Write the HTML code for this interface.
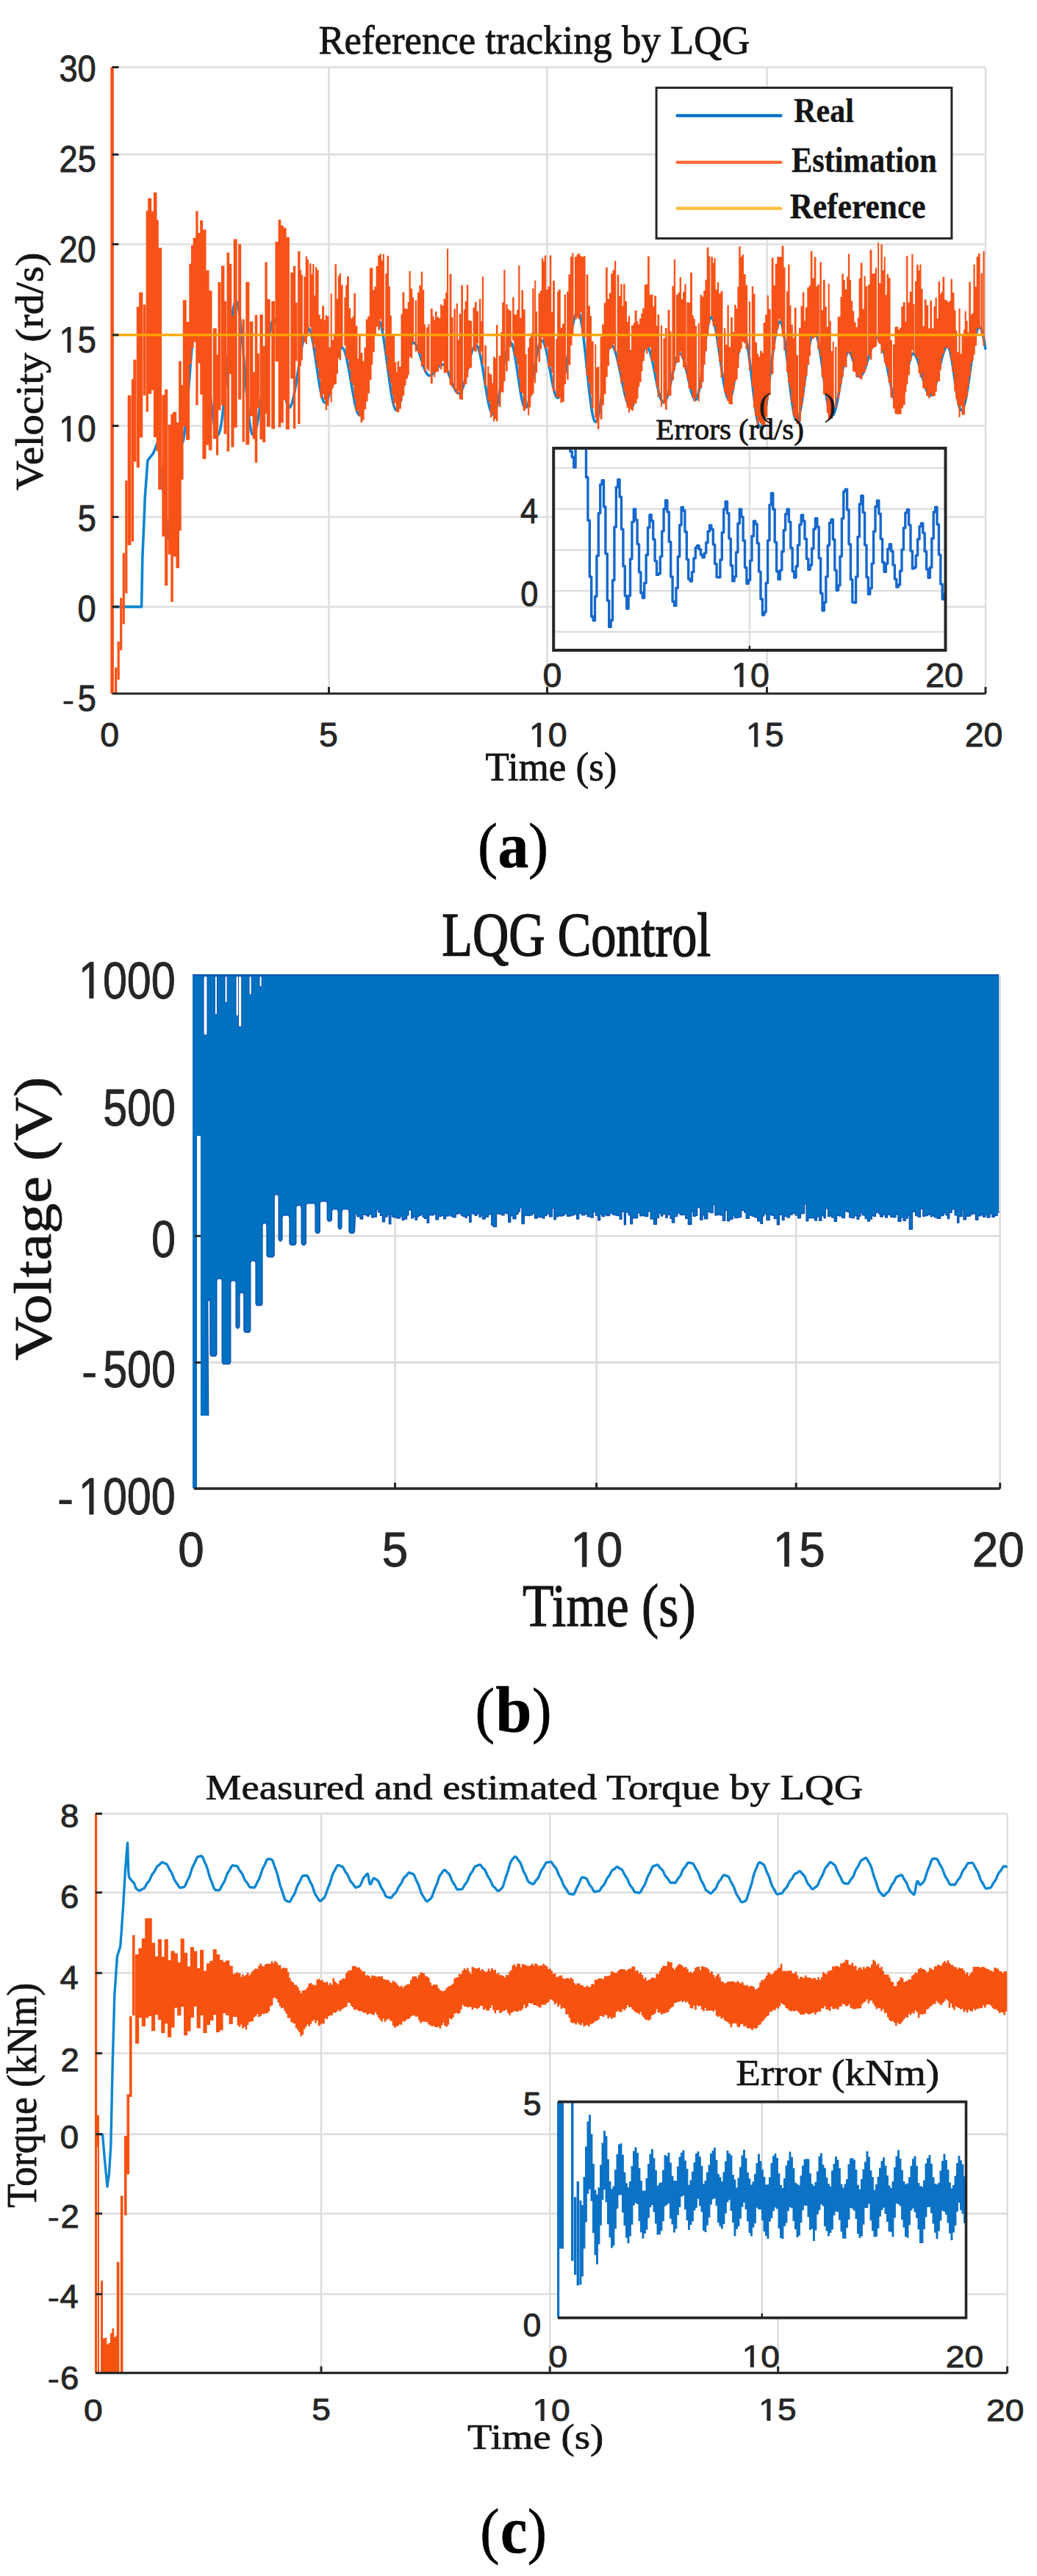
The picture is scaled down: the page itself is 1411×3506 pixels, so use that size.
<!DOCTYPE html>
<html><head><meta charset="utf-8"><style>
html,body{margin:0;padding:0;background:#fff;font-family:"Liberation Sans",sans-serif;}
body{width:1411px;height:3506px;overflow:hidden;}
svg{display:block;}
</style></head><body>
<svg width="1411" height="3506" viewBox="0 0 1411 3506">
<rect width="1411" height="3506" fill="#fff"/>
<line x1="152.5" y1="91.5" x2="1341.0" y2="91.5" stroke="#dcdcdc" stroke-width="2.4"/>
<line x1="152.5" y1="210.3" x2="1341.0" y2="210.3" stroke="#dcdcdc" stroke-width="2.4"/>
<line x1="152.5" y1="332.4" x2="1341.0" y2="332.4" stroke="#dcdcdc" stroke-width="2.4"/>
<line x1="152.5" y1="455.9" x2="1341.0" y2="455.9" stroke="#dcdcdc" stroke-width="2.4"/>
<line x1="152.5" y1="579.6" x2="1341.0" y2="579.6" stroke="#dcdcdc" stroke-width="2.4"/>
<line x1="152.5" y1="703.6" x2="1341.0" y2="703.6" stroke="#dcdcdc" stroke-width="2.4"/>
<line x1="152.5" y1="825.9" x2="1341.0" y2="825.9" stroke="#dcdcdc" stroke-width="2.4"/>
<line x1="447.5" y1="91.5" x2="447.5" y2="944.0" stroke="#dcdcdc" stroke-width="2.4"/>
<line x1="744.5" y1="91.5" x2="744.5" y2="944.0" stroke="#dcdcdc" stroke-width="2.4"/>
<line x1="1043.5" y1="91.5" x2="1043.5" y2="944.0" stroke="#dcdcdc" stroke-width="2.4"/>
<line x1="1341.0" y1="91.5" x2="1341.0" y2="944.0" stroke="#dcdcdc" stroke-width="2.4"/>
<path d="M152.5 825.9 L152.8 825.9 L153.1 825.9 L153.4 825.9 L153.7 825.9 L154.0 825.9 L154.3 825.9 L154.6 825.9 L154.9 825.9 L155.2 825.9 L155.4 825.9 L155.7 825.9 L156.0 825.9 L156.3 825.9 L156.6 825.9 L156.9 825.9 L157.2 825.9 L157.5 825.9 L157.8 825.9 L158.1 825.9 L158.4 825.9 L158.7 825.9 L159.0 825.9 L159.3 825.9 L159.6 825.9 L159.9 825.9 L160.2 825.9 L160.5 825.9 L160.8 825.9 L161.1 825.9 L161.3 825.9 L161.6 825.9 L161.9 825.9 L162.2 825.9 L162.5 825.9 L162.8 825.9 L163.1 825.9 L163.4 825.9 L163.7 825.9 L164.0 825.9 L164.3 825.9 L164.6 825.9 L164.9 825.9 L165.2 825.9 L165.5 825.9 L165.8 825.9 L166.1 825.9 L166.4 825.9 L166.7 825.9 L167.0 825.9 L167.2 825.9 L167.5 825.9 L167.8 825.9 L168.1 825.9 L168.4 825.9 L168.7 825.9 L169.0 825.9 L169.3 825.9 L169.6 825.9 L169.9 825.9 L170.2 825.9 L170.5 825.9 L170.8 825.9 L171.1 825.9 L171.4 825.9 L171.7 825.9 L172.0 825.9 L172.3 825.9 L172.6 825.9 L172.9 825.9 L173.2 825.9 L173.4 825.9 L173.7 825.9 L174.0 825.9 L174.3 825.9 L174.6 825.9 L174.9 825.9 L175.2 825.9 L175.5 825.9 L175.8 825.9 L176.1 825.9 L176.4 825.9 L176.7 825.9 L177.0 825.9 L177.3 825.9 L177.6 825.9 L177.9 825.9 L178.2 825.9 L178.5 825.9 L178.8 825.9 L179.1 825.9 L179.3 825.9 L179.6 825.9 L179.9 825.9 L180.2 825.9 L180.5 825.9 L180.8 825.9 L181.1 825.9 L181.4 825.9 L181.7 825.9 L182.0 825.9 L182.3 825.9 L182.6 825.9 L182.9 825.9 L183.2 825.9 L183.5 825.9 L183.8 825.9 L184.1 825.9 L184.4 825.9 L184.7 825.9 L184.9 825.9 L185.2 825.9 L185.5 825.9 L185.8 825.9 L186.1 825.9 L186.4 825.9 L186.7 825.9 L187.0 825.9 L187.3 825.9 L187.6 825.9 L187.9 825.9 L188.2 825.9 L188.5 825.9 L188.8 825.9 L189.1 825.9 L189.4 825.9 L189.7 825.9 L190.0 825.9 L190.3 825.9 L190.6 825.9 L190.8 825.9 L191.1 825.9 L191.4 825.9 L191.7 825.9 L192.0 825.9 L192.3 825.9 L192.6 825.9 L192.9 809.4 L193.2 792.9 L193.5 776.4 L193.8 759.9 L194.1 752.9 L194.4 746.0 L194.7 739.1 L195.0 732.1 L195.3 725.2 L195.6 718.3 L195.9 711.3 L196.2 704.4 L196.5 697.4 L196.8 690.4 L197.0 683.3 L197.3 676.3 L197.6 672.2 L197.9 668.1 L198.2 663.9 L198.5 659.8 L198.8 655.7 L199.1 651.5 L199.4 647.4 L199.7 643.3 L200.0 639.1 L200.3 635.0 L200.6 630.9 L200.9 626.7 L201.2 626.3 L201.5 626.0 L201.8 625.6 L202.1 625.2 L202.4 624.8 L202.7 624.4 L202.9 624.0 L203.2 623.7 L203.5 623.3 L203.8 622.9 L204.1 622.5 L204.4 622.1 L204.7 621.8 L205.0 621.4 L205.3 621.0 L205.6 620.6 L205.9 620.2 L206.2 619.9 L206.5 619.5 L206.8 619.1 L207.1 618.7 L207.4 618.3 L207.7 617.9 L208.0 617.6 L208.3 617.2 L208.6 616.8 L208.8 616.1 L209.1 615.4 L209.4 614.6 L209.7 613.9 L210.0 613.2 L210.3 612.5 L210.6 611.7 L210.9 611.0 L211.2 610.3 L211.5 609.6 L211.8 608.8 L212.1 608.1 L212.4 607.4 L212.7 606.7 L213.0 606.0 L213.3 605.2 L213.6 604.5 L213.9 603.8 L214.2 603.1 L214.4 602.3 L214.7 601.6 L215.0 600.9 L215.3 600.2 L215.6 599.4 L215.9 602.9 L216.2 606.3 L216.5 609.7 L216.8 613.1 L217.1 616.5 L217.4 619.9 L217.7 623.3 L218.0 626.7 L218.3 630.1 L218.6 633.5 L218.9 637.0 L219.2 640.4 L219.5 643.8 L219.8 647.2 L220.1 650.6 L220.4 654.0 L220.6 656.5 L220.9 659.0 L221.2 661.4 L221.5 663.9 L221.8 666.4 L222.1 668.9 L222.4 671.4 L222.7 673.8 L223.0 676.3 L223.3 678.8 L223.6 681.3 L223.9 683.8 L224.2 686.2 L224.5 688.7 L224.8 691.2 L225.1 693.7 L225.4 696.2 L225.7 698.6 L226.0 701.1 L226.2 703.6 L226.5 706.0 L226.8 708.5 L227.1 710.9 L227.4 713.4 L227.7 715.8 L228.0 718.3 L228.3 720.7 L228.6 723.2 L228.9 725.6 L229.2 728.1 L229.5 730.5 L229.8 733.0 L230.1 732.0 L230.4 731.0 L230.7 730.0 L231.0 728.9 L231.3 727.9 L231.6 726.9 L231.9 725.9 L232.2 724.9 L232.4 723.9 L232.7 722.9 L233.0 721.9 L233.3 720.9 L233.6 719.9 L233.9 718.9 L234.2 717.9 L234.5 716.9 L234.8 715.9 L235.1 714.9 L235.4 713.9 L235.7 712.9 L236.0 711.9 L236.3 710.9 L236.6 710.3 L236.9 709.7 L237.2 709.1 L237.5 708.5 L237.8 707.9 L238.1 707.3 L238.3 706.7 L238.6 706.0 L238.9 705.4 L239.2 704.8 L239.5 704.2 L239.8 703.6 L240.1 703.0 L240.4 702.4 L240.7 701.7 L241.0 701.1 L241.3 700.5 L241.6 699.9 L241.9 699.3 L242.2 698.6 L242.5 692.7 L242.8 686.9 L243.1 681.0 L243.4 675.1 L243.7 669.2 L243.9 663.3 L244.2 657.4 L244.5 651.5 L244.8 645.6 L245.1 639.7 L245.4 633.9 L245.7 628.0 L246.0 622.1 L246.3 616.2 L246.6 610.3 L246.9 604.4 L247.2 604.3 L247.5 604.1 L247.8 603.7 L248.1 603.1 L248.4 602.4 L248.7 601.5 L249.0 600.5 L249.3 599.3 L249.6 598.0 L249.9 596.5 L250.1 594.8 L250.4 593.1 L250.7 591.2 L251.0 589.1 L251.3 586.9 L251.6 584.6 L251.9 582.1 L252.2 579.6 L252.5 576.9 L252.8 574.1 L253.1 571.2 L253.4 568.2 L253.7 565.1 L254.0 561.9 L254.3 558.6 L254.6 555.2 L254.9 551.8 L255.2 548.2 L255.5 544.7 L255.8 541.0 L256.0 537.3 L256.3 533.6 L256.6 529.8 L256.9 526.0 L257.2 522.2 L257.5 518.3 L257.8 514.5 L258.1 510.6 L258.4 506.7 L258.7 502.8 L259.0 499.0 L259.3 495.1 L259.6 491.3 L259.9 487.6 L260.2 483.8 L260.5 480.1 L260.8 476.5 L261.1 472.9 L261.4 469.4 L261.6 465.9 L261.9 462.6 L262.2 459.3 L262.5 456.1 L262.8 453.0 L263.1 450.0 L263.4 447.1 L263.7 444.3 L264.0 441.6 L264.3 439.1 L264.6 436.6 L264.9 434.3 L265.2 432.1 L265.5 430.1 L265.8 428.2 L266.1 426.4 L266.4 424.8 L266.7 423.3 L267.0 421.9 L267.3 420.8 L267.6 419.7 L267.8 418.9 L268.1 418.2 L268.4 417.6 L268.7 417.2 L269.0 417.0 L269.3 416.9 L269.6 416.9 L269.9 417.1 L270.2 417.3 L270.5 417.7 L270.8 418.1 L271.1 418.7 L271.4 419.4 L271.7 420.1 L272.0 421.0 L272.3 421.9 L272.6 423.0 L272.9 424.1 L273.2 425.3 L273.4 426.7 L273.7 428.1 L274.0 429.6 L274.3 431.2 L274.6 432.9 L274.9 434.6 L275.2 436.5 L275.5 438.4 L275.8 440.4 L276.1 442.4 L276.4 444.6 L276.7 446.8 L277.0 449.1 L277.3 451.4 L277.6 453.8 L277.9 456.3 L278.2 458.8 L278.5 461.4 L278.8 464.0 L279.1 466.7 L279.4 469.4 L279.6 472.2 L279.9 475.0 L280.2 477.8 L280.5 480.7 L280.8 483.6 L281.1 486.5 L281.4 489.4 L281.7 492.4 L282.0 495.3 L282.3 498.3 L282.6 501.3 L282.9 504.3 L283.2 507.3 L283.5 510.2 L283.8 513.2 L284.1 516.2 L284.4 519.1 L284.7 522.1 L285.0 525.0 L285.2 527.9 L285.5 530.7 L285.8 533.6 L286.1 536.4 L286.4 539.1 L286.7 541.8 L287.0 544.5 L287.3 547.1 L287.6 549.7 L287.9 552.2 L288.2 554.7 L288.5 557.1 L288.8 559.5 L289.1 561.7 L289.4 564.0 L289.7 566.1 L290.0 568.2 L290.3 570.2 L290.6 572.1 L290.9 574.0 L291.1 575.7 L291.4 577.4 L291.7 579.0 L292.0 580.5 L292.3 581.9 L292.6 583.3 L292.9 584.5 L293.2 585.6 L293.5 586.7 L293.8 587.6 L294.1 588.5 L294.4 589.3 L294.7 589.9 L295.0 590.5 L295.3 590.9 L295.6 591.3 L295.9 591.5 L296.2 591.7 L296.5 591.8 L296.8 591.7 L297.1 591.5 L297.3 591.2 L297.6 590.7 L297.9 590.2 L298.2 589.5 L298.5 588.6 L298.8 587.7 L299.1 586.6 L299.4 585.5 L299.7 584.1 L300.0 582.7 L300.3 581.2 L300.6 579.5 L300.9 577.8 L301.2 575.9 L301.5 574.0 L301.8 571.9 L302.1 569.7 L302.4 567.5 L302.7 565.1 L303.0 562.6 L303.2 560.1 L303.5 557.5 L303.8 554.8 L304.1 552.0 L304.4 549.2 L304.7 546.3 L305.0 543.3 L305.3 540.3 L305.6 537.2 L305.9 534.0 L306.2 530.8 L306.5 527.6 L306.8 524.3 L307.1 521.0 L307.4 517.7 L307.7 514.4 L308.0 511.0 L308.3 507.6 L308.6 504.2 L308.9 500.8 L309.1 497.4 L309.4 494.0 L309.7 490.6 L310.0 487.3 L310.3 483.9 L310.6 480.6 L310.9 477.3 L311.2 474.0 L311.5 470.8 L311.8 467.6 L312.1 464.4 L312.4 461.4 L312.7 458.3 L313.0 455.3 L313.3 452.4 L313.6 449.6 L313.9 446.8 L314.2 444.1 L314.5 441.5 L314.8 439.0 L315.0 436.5 L315.3 434.2 L315.6 431.9 L315.9 429.8 L316.2 427.7 L316.5 425.7 L316.8 423.9 L317.1 422.1 L317.4 420.5 L317.7 418.9 L318.0 417.5 L318.3 416.2 L318.6 415.1 L318.9 414.0 L319.2 413.1 L319.5 412.2 L319.8 411.5 L320.1 411.0 L320.4 410.5 L320.6 410.2 L320.9 410.0 L321.2 410.0 L321.5 410.0 L321.8 410.3 L322.1 410.6 L322.4 411.1 L322.7 411.8 L323.0 412.6 L323.3 413.5 L323.6 414.6 L323.9 415.9 L324.2 417.2 L324.5 418.7 L324.8 420.4 L325.1 422.1 L325.4 424.0 L325.7 426.0 L326.0 428.2 L326.3 430.4 L326.6 432.8 L326.8 435.3 L327.1 437.9 L327.4 440.5 L327.7 443.3 L328.0 446.2 L328.3 449.2 L328.6 452.2 L328.9 455.3 L329.2 458.6 L329.5 461.8 L329.8 465.2 L330.1 468.6 L330.4 472.0 L330.7 475.5 L331.0 479.0 L331.3 482.6 L331.6 486.2 L331.9 489.8 L332.2 493.5 L332.5 497.1 L332.7 500.8 L333.0 504.5 L333.3 508.1 L333.6 511.8 L333.9 515.4 L334.2 519.0 L334.5 522.6 L334.8 526.1 L335.1 529.6 L335.4 533.0 L335.7 536.4 L336.0 539.8 L336.3 543.1 L336.6 546.3 L336.9 549.4 L337.2 552.5 L337.5 555.4 L337.8 558.3 L338.1 561.1 L338.4 563.8 L338.6 566.4 L338.9 568.9 L339.2 571.2 L339.5 573.5 L339.8 575.6 L340.1 577.6 L340.4 579.5 L340.7 581.3 L341.0 583.0 L341.3 584.5 L341.6 585.8 L341.9 587.1 L342.2 588.2 L342.5 589.1 L342.8 589.9 L343.1 590.6 L343.4 591.1 L343.7 591.5 L344.0 591.7 L344.2 591.8 L344.5 591.7 L344.8 591.6 L345.1 591.4 L345.4 591.1 L345.7 590.7 L346.0 590.3 L346.3 589.8 L346.6 589.2 L346.9 588.5 L347.2 587.7 L347.5 586.9 L347.8 586.0 L348.1 585.0 L348.4 583.9 L348.7 582.8 L349.0 581.6 L349.3 580.3 L349.6 579.0 L349.9 577.6 L350.1 576.1 L350.4 574.5 L350.7 572.9 L351.0 571.3 L351.3 569.5 L351.6 567.7 L351.9 565.9 L352.2 564.0 L352.5 562.1 L352.8 560.1 L353.1 558.0 L353.4 555.9 L353.7 553.8 L354.0 551.6 L354.3 549.4 L354.6 547.1 L354.9 544.8 L355.2 542.5 L355.5 540.1 L355.8 537.8 L356.1 535.3 L356.3 532.9 L356.6 530.5 L356.9 528.0 L357.2 525.5 L357.5 523.0 L357.8 520.5 L358.1 518.0 L358.4 515.5 L358.7 512.9 L359.0 510.4 L359.3 507.9 L359.6 505.4 L359.9 502.8 L360.2 500.3 L360.5 497.9 L360.8 495.4 L361.1 492.9 L361.4 490.5 L361.7 488.1 L362.0 485.7 L362.2 483.4 L362.5 481.0 L362.8 478.7 L363.1 476.5 L363.4 474.3 L363.7 472.1 L364.0 469.9 L364.3 467.8 L364.6 465.8 L364.9 463.8 L365.2 461.8 L365.5 460.0 L365.8 458.1 L366.1 456.3 L366.4 454.6 L366.7 452.9 L367.0 451.3 L367.3 449.8 L367.6 448.3 L367.9 446.9 L368.1 445.6 L368.4 444.3 L368.7 443.1 L369.0 442.0 L369.3 440.9 L369.6 439.9 L369.9 439.0 L370.2 438.2 L370.5 437.4 L370.8 436.7 L371.1 436.1 L371.4 435.6 L371.7 435.2 L372.0 434.8 L372.3 434.5 L372.6 434.3 L372.9 434.2 L373.2 434.2 L373.5 434.2 L373.8 434.4 L374.0 434.7 L374.3 435.2 L374.6 435.8 L374.9 436.5 L375.2 437.3 L375.5 438.2 L375.8 439.3 L376.1 440.5 L376.4 441.8 L376.7 443.2 L377.0 444.7 L377.3 446.3 L377.6 448.1 L377.9 449.9 L378.2 451.8 L378.5 453.8 L378.8 455.9 L379.1 458.1 L379.4 460.4 L379.6 462.7 L379.9 465.1 L380.2 467.6 L380.5 470.1 L380.8 472.7 L381.1 475.3 L381.4 478.0 L381.7 480.7 L382.0 483.4 L382.3 486.2 L382.6 488.9 L382.9 491.7 L383.2 494.5 L383.5 497.3 L383.8 500.1 L384.1 502.8 L384.4 505.6 L384.7 508.3 L385.0 511.0 L385.3 513.7 L385.6 516.3 L385.8 518.9 L386.1 521.4 L386.4 523.9 L386.7 526.3 L387.0 528.6 L387.3 530.9 L387.6 533.1 L387.9 535.2 L388.2 537.2 L388.5 539.1 L388.8 540.9 L389.1 542.7 L389.4 544.3 L389.7 545.8 L390.0 547.2 L390.3 548.5 L390.6 549.7 L390.9 550.8 L391.2 551.7 L391.4 552.6 L391.7 553.3 L392.0 553.8 L392.3 554.3 L392.6 554.6 L392.9 554.8 L393.2 554.9 L393.5 554.8 L393.8 554.7 L394.1 554.6 L394.4 554.3 L394.7 554.0 L395.0 553.6 L395.3 553.2 L395.6 552.7 L395.9 552.1 L396.2 551.5 L396.5 550.7 L396.8 550.0 L397.1 549.1 L397.4 548.2 L397.6 547.3 L397.9 546.3 L398.2 545.2 L398.5 544.1 L398.8 542.9 L399.1 541.7 L399.4 540.4 L399.7 539.0 L400.0 537.6 L400.3 536.2 L400.6 534.7 L400.9 533.2 L401.2 531.6 L401.5 530.0 L401.8 528.4 L402.1 526.7 L402.4 525.0 L402.7 523.3 L403.0 521.5 L403.2 519.7 L403.5 517.9 L403.8 516.0 L404.1 514.2 L404.4 512.3 L404.7 510.4 L405.0 508.5 L405.3 506.6 L405.6 504.7 L405.9 502.7 L406.2 500.8 L406.5 498.9 L406.8 496.9 L407.1 495.0 L407.4 493.1 L407.7 491.2 L408.0 489.3 L408.3 487.4 L408.6 485.6 L408.9 483.7 L409.2 481.9 L409.4 480.1 L409.7 478.3 L410.0 476.6 L410.3 474.9 L410.6 473.2 L410.9 471.6 L411.2 470.0 L411.5 468.4 L411.8 466.9 L412.1 465.4 L412.4 464.0 L412.7 462.6 L413.0 461.2 L413.3 459.9 L413.6 458.7 L413.9 457.5 L414.2 456.4 L414.5 455.3 L414.8 454.3 L415.1 453.4 L415.3 452.5 L415.6 451.6 L415.9 450.9 L416.2 450.2 L416.5 449.5 L416.8 448.9 L417.1 448.4 L417.4 448.0 L417.7 447.6 L418.0 447.3 L418.3 447.1 L418.6 446.9 L418.9 446.8 L419.2 446.8 L419.5 446.8 L419.8 446.9 L420.1 447.1 L420.4 447.4 L420.7 447.8 L420.9 448.2 L421.2 448.8 L421.5 449.4 L421.8 450.0 L422.1 450.8 L422.4 451.6 L422.7 452.5 L423.0 453.5 L423.3 454.6 L423.6 455.7 L423.9 456.9 L424.2 458.1 L424.5 459.5 L424.8 460.9 L425.1 462.3 L425.4 463.8 L425.7 465.3 L426.0 466.9 L426.3 468.6 L426.6 470.3 L426.9 472.0 L427.1 473.8 L427.4 475.7 L427.7 477.5 L428.0 479.4 L428.3 481.3 L428.6 483.3 L428.9 485.2 L429.2 487.2 L429.5 489.2 L429.8 491.2 L430.1 493.3 L430.4 495.3 L430.7 497.3 L431.0 499.4 L431.3 501.4 L431.6 503.4 L431.9 505.5 L432.2 507.5 L432.5 509.4 L432.8 511.4 L433.0 513.4 L433.3 515.3 L433.6 517.2 L433.9 519.0 L434.2 520.9 L434.5 522.6 L434.8 524.4 L435.1 526.1 L435.4 527.7 L435.7 529.3 L436.0 530.9 L436.3 532.4 L436.6 533.8 L436.9 535.2 L437.2 536.5 L437.5 537.8 L437.8 539.0 L438.1 540.1 L438.4 541.2 L438.7 542.1 L438.9 543.0 L439.2 543.9 L439.5 544.6 L439.8 545.3 L440.1 545.9 L440.4 546.5 L440.7 546.9 L441.0 547.3 L441.3 547.6 L441.6 547.8 L441.9 547.9 L442.2 547.9 L442.5 547.9 L442.8 547.8 L443.1 547.7 L443.4 547.4 L443.7 547.2 L444.0 546.8 L444.3 546.5 L444.6 546.0 L444.8 545.5 L445.1 544.9 L445.4 544.3 L445.7 543.7 L446.0 542.9 L446.3 542.1 L446.6 541.3 L446.9 540.4 L447.2 539.5 L447.5 538.5 L447.8 537.5 L448.1 536.5 L448.4 535.3 L448.7 534.2 L449.0 533.0 L449.3 531.8 L449.6 530.5 L449.9 529.3 L450.2 527.9 L450.5 526.6 L450.8 525.2 L451.1 523.8 L451.4 522.4 L451.7 521.0 L452.0 519.5 L452.3 518.0 L452.5 516.6 L452.8 515.1 L453.1 513.6 L453.4 512.1 L453.7 510.6 L454.0 509.1 L454.3 507.6 L454.6 506.1 L454.9 504.6 L455.2 503.1 L455.5 501.6 L455.8 500.2 L456.1 498.7 L456.4 497.3 L456.7 495.9 L457.0 494.6 L457.3 493.2 L457.6 491.9 L457.9 490.6 L458.2 489.4 L458.5 488.1 L458.8 486.9 L459.1 485.8 L459.4 484.7 L459.7 483.6 L460.0 482.6 L460.3 481.6 L460.6 480.7 L460.9 479.8 L461.2 479.0 L461.5 478.2 L461.8 477.5 L462.1 476.8 L462.4 476.2 L462.6 475.6 L462.9 475.1 L463.2 474.7 L463.5 474.3 L463.8 474.0 L464.1 473.7 L464.4 473.5 L464.7 473.3 L465.0 473.2 L465.3 473.2 L465.6 473.3 L465.9 473.4 L466.2 473.5 L466.5 473.8 L466.8 474.1 L467.1 474.4 L467.4 474.9 L467.7 475.4 L468.0 475.9 L468.3 476.6 L468.6 477.2 L468.9 478.0 L469.2 478.8 L469.5 479.7 L469.8 480.6 L470.1 481.6 L470.4 482.6 L470.7 483.7 L471.0 484.9 L471.3 486.1 L471.6 487.3 L471.9 488.6 L472.2 490.0 L472.4 491.3 L472.7 492.8 L473.0 494.2 L473.3 495.7 L473.6 497.3 L473.9 498.8 L474.2 500.4 L474.5 502.0 L474.8 503.7 L475.1 505.4 L475.4 507.0 L475.7 508.7 L476.0 510.5 L476.3 512.2 L476.6 514.0 L476.9 515.7 L477.2 517.5 L477.5 519.2 L477.8 521.0 L478.1 522.8 L478.4 524.5 L478.7 526.3 L479.0 528.0 L479.3 529.7 L479.6 531.4 L479.9 533.1 L480.2 534.8 L480.5 536.4 L480.8 538.1 L481.1 539.7 L481.4 541.2 L481.7 542.7 L482.0 544.2 L482.2 545.7 L482.5 547.1 L482.8 548.5 L483.1 549.9 L483.4 551.1 L483.7 552.4 L484.0 553.6 L484.3 554.7 L484.6 555.8 L484.9 556.9 L485.2 557.9 L485.5 558.8 L485.8 559.7 L486.1 560.5 L486.4 561.2 L486.7 561.9 L487.0 562.5 L487.3 563.1 L487.6 563.6 L487.9 564.0 L488.2 564.4 L488.5 564.7 L488.8 564.9 L489.1 565.1 L489.4 565.2 L489.7 565.3 L490.0 565.2 L490.3 565.1 L490.6 564.8 L490.9 564.5 L491.2 564.1 L491.5 563.6 L491.8 563.1 L492.1 562.4 L492.3 561.6 L492.6 560.8 L492.9 559.9 L493.2 558.9 L493.5 557.8 L493.8 556.6 L494.1 555.4 L494.4 554.1 L494.7 552.7 L495.0 551.2 L495.3 549.7 L495.6 548.0 L495.9 546.4 L496.2 544.6 L496.5 542.8 L496.8 541.0 L497.1 539.1 L497.4 537.1 L497.7 535.1 L498.0 533.0 L498.3 530.9 L498.6 528.8 L498.9 526.6 L499.2 524.3 L499.5 522.1 L499.8 519.8 L500.1 517.5 L500.4 515.1 L500.7 512.8 L501.0 510.4 L501.3 508.0 L501.6 505.6 L501.9 503.2 L502.1 500.8 L502.4 498.4 L502.7 496.0 L503.0 493.6 L503.3 491.2 L503.6 488.8 L503.9 486.5 L504.2 484.1 L504.5 481.8 L504.8 479.5 L505.1 477.3 L505.4 475.0 L505.7 472.8 L506.0 470.7 L506.3 468.6 L506.6 466.5 L506.9 464.5 L507.2 462.5 L507.5 460.6 L507.8 458.8 L508.1 457.0 L508.4 455.2 L508.7 453.6 L509.0 452.0 L509.3 450.4 L509.6 449.0 L509.9 447.6 L510.2 446.2 L510.5 445.0 L510.8 443.8 L511.1 442.8 L511.4 441.8 L511.7 440.8 L511.9 440.0 L512.2 439.2 L512.5 438.6 L512.8 438.0 L513.1 437.5 L513.4 437.1 L513.7 436.8 L514.0 436.6 L514.3 436.4 L514.6 436.4 L514.9 436.4 L515.2 436.6 L515.5 436.8 L515.8 437.1 L516.1 437.4 L516.4 437.9 L516.7 438.5 L517.0 439.1 L517.3 439.8 L517.6 440.6 L517.9 441.5 L518.2 442.4 L518.5 443.4 L518.8 444.5 L519.1 445.7 L519.4 447.0 L519.7 448.3 L520.0 449.7 L520.3 451.1 L520.6 452.6 L520.9 454.2 L521.2 455.9 L521.5 457.6 L521.8 459.3 L522.0 461.1 L522.3 463.0 L522.6 464.9 L522.9 466.8 L523.2 468.8 L523.5 470.9 L523.8 473.0 L524.1 475.1 L524.4 477.2 L524.7 479.4 L525.0 481.6 L525.3 483.8 L525.6 486.0 L525.9 488.3 L526.2 490.5 L526.5 492.8 L526.8 495.1 L527.1 497.3 L527.4 499.6 L527.7 501.9 L528.0 504.2 L528.3 506.4 L528.6 508.7 L528.9 510.9 L529.2 513.1 L529.5 515.3 L529.8 517.5 L530.1 519.6 L530.4 521.7 L530.7 523.8 L531.0 525.8 L531.3 527.8 L531.6 529.8 L531.8 531.7 L532.1 533.6 L532.4 535.4 L532.7 537.1 L533.0 538.8 L533.3 540.5 L533.6 542.0 L533.9 543.6 L534.2 545.0 L534.5 546.4 L534.8 547.7 L535.1 549.0 L535.4 550.2 L535.7 551.3 L536.0 552.3 L536.3 553.2 L536.6 554.1 L536.9 554.9 L537.2 555.6 L537.5 556.2 L537.8 556.8 L538.1 557.3 L538.4 557.6 L538.7 557.9 L539.0 558.2 L539.3 558.3 L539.6 558.3 L539.9 558.3 L540.2 558.2 L540.5 558.0 L540.8 557.7 L541.1 557.3 L541.4 556.9 L541.6 556.4 L541.9 555.8 L542.2 555.2 L542.5 554.4 L542.8 553.6 L543.1 552.8 L543.4 551.8 L543.7 550.8 L544.0 549.8 L544.3 548.6 L544.6 547.4 L544.9 546.2 L545.2 544.8 L545.5 543.5 L545.8 542.0 L546.1 540.6 L546.4 539.0 L546.7 537.5 L547.0 535.9 L547.3 534.2 L547.6 532.5 L547.9 530.8 L548.2 529.0 L548.5 527.2 L548.8 525.4 L549.1 523.6 L549.4 521.8 L549.7 519.9 L550.0 518.0 L550.3 516.1 L550.6 514.2 L550.9 512.3 L551.2 510.4 L551.5 508.5 L551.7 506.6 L552.0 504.7 L552.3 502.9 L552.6 501.0 L552.9 499.2 L553.2 497.4 L553.5 495.6 L553.8 493.8 L554.1 492.1 L554.4 490.4 L554.7 488.8 L555.0 487.1 L555.3 485.6 L555.6 484.0 L555.9 482.6 L556.2 481.1 L556.5 479.8 L556.8 478.5 L557.1 477.2 L557.4 476.0 L557.7 474.9 L558.0 473.8 L558.3 472.8 L558.6 471.8 L558.9 471.0 L559.2 470.2 L559.5 469.4 L559.8 468.8 L560.1 468.2 L560.4 467.7 L560.7 467.3 L561.0 466.9 L561.3 466.6 L561.5 466.4 L561.8 466.3 L562.1 466.3 L562.4 466.3 L562.7 466.4 L563.0 466.5 L563.3 466.6 L563.6 466.8 L563.9 467.0 L564.2 467.3 L564.5 467.6 L564.8 467.9 L565.1 468.3 L565.4 468.7 L565.7 469.1 L566.0 469.6 L566.3 470.1 L566.6 470.7 L566.9 471.3 L567.2 471.9 L567.5 472.5 L567.8 473.2 L568.1 473.9 L568.4 474.6 L568.7 475.4 L569.0 476.1 L569.3 476.9 L569.6 477.8 L569.9 478.6 L570.2 479.5 L570.5 480.3 L570.8 481.2 L571.1 482.1 L571.3 483.0 L571.6 484.0 L571.9 484.9 L572.2 485.8 L572.5 486.8 L572.8 487.7 L573.1 488.7 L573.4 489.6 L573.7 490.6 L574.0 491.5 L574.3 492.5 L574.6 493.4 L574.9 494.3 L575.2 495.2 L575.5 496.1 L575.8 497.0 L576.1 497.9 L576.4 498.8 L576.7 499.6 L577.0 500.4 L577.3 501.2 L577.6 502.0 L577.9 502.7 L578.2 503.5 L578.5 504.2 L578.8 504.8 L579.1 505.5 L579.4 506.1 L579.7 506.7 L580.0 507.2 L580.3 507.7 L580.6 508.2 L580.9 508.7 L581.1 509.1 L581.4 509.5 L581.7 509.8 L582.0 510.1 L582.3 510.3 L582.6 510.6 L582.9 510.7 L583.2 510.9 L583.5 511.0 L583.8 511.1 L584.1 511.1 L584.4 511.1 L584.7 511.0 L585.0 511.0 L585.3 510.9 L585.6 510.8 L585.9 510.7 L586.2 510.6 L586.5 510.4 L586.8 510.3 L587.1 510.1 L587.4 509.9 L587.7 509.7 L588.0 509.4 L588.3 509.2 L588.6 508.9 L588.9 508.6 L589.2 508.3 L589.5 508.0 L589.8 507.7 L590.1 507.4 L590.4 507.0 L590.7 506.7 L591.0 506.3 L591.2 505.9 L591.5 505.6 L591.8 505.2 L592.1 504.8 L592.4 504.4 L592.7 504.0 L593.0 503.6 L593.3 503.3 L593.6 502.9 L593.9 502.5 L594.2 502.1 L594.5 501.7 L594.8 501.4 L595.1 501.0 L595.4 500.6 L595.7 500.3 L596.0 499.9 L596.3 499.6 L596.6 499.3 L596.9 499.0 L597.2 498.7 L597.5 498.4 L597.8 498.1 L598.1 497.9 L598.4 497.6 L598.7 497.4 L599.0 497.2 L599.3 497.0 L599.6 496.9 L599.9 496.7 L600.2 496.6 L600.5 496.5 L600.8 496.4 L601.0 496.3 L601.3 496.3 L601.6 496.2 L601.9 496.2 L602.2 496.2 L602.5 496.3 L602.8 496.4 L603.1 496.5 L603.4 496.6 L603.7 496.8 L604.0 497.0 L604.3 497.3 L604.6 497.6 L604.9 497.9 L605.2 498.2 L605.5 498.6 L605.8 499.0 L606.1 499.4 L606.4 499.9 L606.7 500.3 L607.0 500.9 L607.3 501.4 L607.6 502.0 L607.9 502.5 L608.2 503.1 L608.5 503.8 L608.8 504.4 L609.1 505.1 L609.4 505.8 L609.7 506.5 L610.0 507.2 L610.3 507.9 L610.6 508.7 L610.9 509.4 L611.1 510.2 L611.4 511.0 L611.7 511.8 L612.0 512.6 L612.3 513.4 L612.6 514.2 L612.9 515.0 L613.2 515.8 L613.5 516.6 L613.8 517.4 L614.1 518.2 L614.4 519.0 L614.7 519.8 L615.0 520.6 L615.3 521.3 L615.6 522.1 L615.9 522.9 L616.2 523.6 L616.5 524.4 L616.8 525.1 L617.1 525.8 L617.4 526.5 L617.7 527.1 L618.0 527.8 L618.3 528.4 L618.6 529.0 L618.9 529.6 L619.2 530.2 L619.5 530.7 L619.8 531.2 L620.1 531.7 L620.4 532.1 L620.7 532.6 L620.9 533.0 L621.2 533.3 L621.5 533.7 L621.8 534.0 L622.1 534.3 L622.4 534.5 L622.7 534.7 L623.0 534.9 L623.3 535.0 L623.6 535.2 L623.9 535.2 L624.2 535.3 L624.5 535.3 L624.8 535.3 L625.1 535.2 L625.4 535.1 L625.7 534.9 L626.0 534.7 L626.3 534.4 L626.6 534.0 L626.9 533.6 L627.2 533.2 L627.5 532.7 L627.8 532.2 L628.1 531.6 L628.4 530.9 L628.7 530.2 L629.0 529.5 L629.3 528.7 L629.6 527.9 L629.9 527.1 L630.2 526.2 L630.5 525.2 L630.7 524.3 L631.0 523.3 L631.3 522.2 L631.6 521.2 L631.9 520.1 L632.2 518.9 L632.5 517.8 L632.8 516.6 L633.1 515.4 L633.4 514.2 L633.7 512.9 L634.0 511.7 L634.3 510.4 L634.6 509.1 L634.9 507.8 L635.2 506.5 L635.5 505.2 L635.8 503.9 L636.1 502.5 L636.4 501.2 L636.7 499.9 L637.0 498.6 L637.3 497.3 L637.6 496.0 L637.9 494.7 L638.2 493.4 L638.5 492.2 L638.8 490.9 L639.1 489.7 L639.4 488.5 L639.7 487.3 L640.0 486.1 L640.3 485.0 L640.5 483.9 L640.8 482.8 L641.1 481.8 L641.4 480.8 L641.7 479.8 L642.0 478.9 L642.3 478.0 L642.6 477.1 L642.9 476.3 L643.2 475.6 L643.5 474.8 L643.8 474.1 L644.1 473.5 L644.4 472.9 L644.7 472.4 L645.0 471.9 L645.3 471.4 L645.6 471.0 L645.9 470.7 L646.2 470.4 L646.5 470.2 L646.8 470.0 L647.1 469.9 L647.4 469.8 L647.7 469.8 L648.0 469.8 L648.3 469.9 L648.6 470.1 L648.9 470.4 L649.2 470.7 L649.5 471.1 L649.8 471.6 L650.1 472.2 L650.4 472.8 L650.6 473.5 L650.9 474.3 L651.2 475.2 L651.5 476.1 L651.8 477.1 L652.1 478.1 L652.4 479.2 L652.7 480.4 L653.0 481.6 L653.3 482.9 L653.6 484.2 L653.9 485.6 L654.2 487.1 L654.5 488.6 L654.8 490.1 L655.1 491.7 L655.4 493.3 L655.7 495.0 L656.0 496.7 L656.3 498.4 L656.6 500.2 L656.9 502.0 L657.2 503.8 L657.5 505.6 L657.8 507.5 L658.1 509.3 L658.4 511.2 L658.7 513.1 L659.0 515.0 L659.3 516.9 L659.6 518.8 L659.9 520.7 L660.2 522.6 L660.4 524.4 L660.7 526.3 L661.0 528.2 L661.3 530.0 L661.6 531.8 L661.9 533.6 L662.2 535.4 L662.5 537.1 L662.8 538.8 L663.1 540.4 L663.4 542.1 L663.7 543.7 L664.0 545.2 L664.3 546.7 L664.6 548.1 L664.9 549.5 L665.2 550.9 L665.5 552.2 L665.8 553.4 L666.1 554.6 L666.4 555.7 L666.7 556.7 L667.0 557.7 L667.3 558.6 L667.6 559.5 L667.9 560.2 L668.2 561.0 L668.5 561.6 L668.8 562.2 L669.1 562.6 L669.4 563.1 L669.7 563.4 L670.0 563.7 L670.2 563.9 L670.5 564.0 L670.8 564.0 L671.1 564.0 L671.4 563.9 L671.7 563.7 L672.0 563.4 L672.3 563.1 L672.6 562.7 L672.9 562.2 L673.2 561.6 L673.5 561.0 L673.8 560.3 L674.1 559.5 L674.4 558.7 L674.7 557.8 L675.0 556.8 L675.3 555.8 L675.6 554.7 L675.9 553.5 L676.2 552.3 L676.5 551.0 L676.8 549.7 L677.1 548.3 L677.4 546.9 L677.7 545.4 L678.0 543.9 L678.3 542.3 L678.6 540.7 L678.9 539.0 L679.2 537.3 L679.5 535.6 L679.8 533.9 L680.1 532.1 L680.3 530.3 L680.6 528.4 L680.9 526.6 L681.2 524.7 L681.5 522.8 L681.8 520.9 L682.1 519.0 L682.4 517.1 L682.7 515.2 L683.0 513.2 L683.3 511.3 L683.6 509.4 L683.9 507.5 L684.2 505.6 L684.5 503.7 L684.8 501.9 L685.1 500.1 L685.4 498.2 L685.7 496.5 L686.0 494.7 L686.3 493.0 L686.6 491.3 L686.9 489.6 L687.2 488.0 L687.5 486.4 L687.8 484.9 L688.1 483.4 L688.4 482.0 L688.7 480.6 L689.0 479.3 L689.3 478.0 L689.6 476.8 L689.9 475.6 L690.1 474.5 L690.4 473.5 L690.7 472.5 L691.0 471.6 L691.3 470.8 L691.6 470.0 L691.9 469.3 L692.2 468.7 L692.5 468.1 L692.8 467.6 L693.1 467.2 L693.4 466.9 L693.7 466.6 L694.0 466.4 L694.3 466.3 L694.6 466.3 L694.9 466.3 L695.2 466.5 L695.5 466.7 L695.8 467.0 L696.1 467.5 L696.4 468.0 L696.7 468.6 L697.0 469.3 L697.3 470.1 L697.6 470.9 L697.9 471.9 L698.2 472.9 L698.5 474.0 L698.8 475.2 L699.1 476.5 L699.4 477.8 L699.7 479.3 L700.0 480.7 L700.2 482.3 L700.5 483.9 L700.8 485.5 L701.1 487.3 L701.4 489.0 L701.7 490.8 L702.0 492.7 L702.3 494.6 L702.6 496.5 L702.9 498.5 L703.2 500.4 L703.5 502.4 L703.8 504.5 L704.1 506.5 L704.4 508.5 L704.7 510.6 L705.0 512.6 L705.3 514.7 L705.6 516.7 L705.9 518.7 L706.2 520.7 L706.5 522.7 L706.8 524.6 L707.1 526.6 L707.4 528.5 L707.7 530.3 L708.0 532.1 L708.3 533.9 L708.6 535.6 L708.9 537.3 L709.2 538.9 L709.5 540.4 L709.8 541.9 L710.0 543.3 L710.3 544.6 L710.6 545.9 L710.9 547.1 L711.2 548.2 L711.5 549.3 L711.8 550.2 L712.1 551.1 L712.4 551.9 L712.7 552.6 L713.0 553.2 L713.3 553.7 L713.6 554.1 L713.9 554.4 L714.2 554.7 L714.5 554.8 L714.8 554.9 L715.1 554.8 L715.4 554.7 L715.7 554.5 L716.0 554.2 L716.3 553.9 L716.6 553.5 L716.9 553.0 L717.2 552.4 L717.5 551.7 L717.8 551.0 L718.1 550.2 L718.4 549.3 L718.7 548.4 L719.0 547.4 L719.3 546.3 L719.6 545.2 L719.8 544.0 L720.1 542.8 L720.4 541.5 L720.7 540.1 L721.0 538.7 L721.3 537.2 L721.6 535.7 L721.9 534.1 L722.2 532.5 L722.5 530.9 L722.8 529.2 L723.1 527.5 L723.4 525.7 L723.7 524.0 L724.0 522.2 L724.3 520.3 L724.6 518.5 L724.9 516.6 L725.2 514.8 L725.5 512.9 L725.8 511.0 L726.1 509.1 L726.4 507.2 L726.7 505.3 L727.0 503.4 L727.3 501.6 L727.6 499.7 L727.9 497.9 L728.2 496.0 L728.5 494.2 L728.8 492.5 L729.1 490.7 L729.4 489.0 L729.6 487.3 L729.9 485.7 L730.2 484.1 L730.5 482.5 L730.8 481.0 L731.1 479.5 L731.4 478.1 L731.7 476.7 L732.0 475.4 L732.3 474.2 L732.6 473.0 L732.9 471.8 L733.2 470.8 L733.5 469.8 L733.8 468.8 L734.1 468.0 L734.4 467.2 L734.7 466.5 L735.0 465.8 L735.3 465.2 L735.6 464.7 L735.9 464.3 L736.2 463.9 L736.5 463.7 L736.8 463.5 L737.1 463.4 L737.4 463.3 L737.7 463.4 L738.0 463.5 L738.3 463.7 L738.6 463.9 L738.9 464.2 L739.2 464.7 L739.5 465.1 L739.7 465.7 L740.0 466.3 L740.3 467.0 L740.6 467.7 L740.9 468.6 L741.2 469.4 L741.5 470.4 L741.8 471.4 L742.1 472.5 L742.4 473.6 L742.7 474.8 L743.0 476.0 L743.3 477.3 L743.6 478.6 L743.9 480.0 L744.2 481.4 L744.5 482.9 L744.8 484.4 L745.1 485.9 L745.4 487.5 L745.7 489.0 L746.0 490.7 L746.3 492.3 L746.6 494.0 L746.9 495.6 L747.2 497.3 L747.5 499.0 L747.8 500.7 L748.1 502.4 L748.4 504.1 L748.7 505.8 L749.0 507.5 L749.3 509.2 L749.6 510.9 L749.9 512.5 L750.2 514.2 L750.5 515.8 L750.8 517.4 L751.1 518.9 L751.4 520.5 L751.7 522.0 L752.0 523.4 L752.3 524.8 L752.6 526.2 L752.9 527.5 L753.2 528.8 L753.5 530.1 L753.8 531.2 L754.1 532.4 L754.4 533.4 L754.7 534.4 L755.0 535.4 L755.3 536.3 L755.6 537.1 L755.9 537.8 L756.2 538.5 L756.5 539.1 L756.8 539.7 L757.1 540.2 L757.4 540.6 L757.7 540.9 L758.0 541.2 L758.3 541.4 L758.6 541.5 L758.9 541.5 L759.2 541.5 L759.5 541.4 L759.7 541.2 L760.0 541.0 L760.3 540.6 L760.6 540.3 L760.9 539.8 L761.2 539.3 L761.5 538.8 L761.8 538.1 L762.1 537.4 L762.4 536.7 L762.7 535.8 L763.0 534.9 L763.3 534.0 L763.6 533.0 L763.9 531.9 L764.2 530.8 L764.5 529.6 L764.8 528.4 L765.1 527.1 L765.4 525.8 L765.7 524.4 L766.0 522.9 L766.3 521.4 L766.6 519.9 L766.9 518.3 L767.2 516.7 L767.5 515.1 L767.8 513.4 L768.1 511.7 L768.4 509.9 L768.7 508.1 L769.0 506.3 L769.3 504.5 L769.6 502.6 L769.9 500.7 L770.2 498.8 L770.5 496.8 L770.8 494.9 L771.1 492.9 L771.4 491.0 L771.7 489.0 L772.0 487.0 L772.3 485.0 L772.6 483.0 L772.9 481.0 L773.2 479.0 L773.5 477.0 L773.8 475.0 L774.1 473.0 L774.4 471.1 L774.7 469.1 L775.0 467.2 L775.3 465.3 L775.6 463.4 L775.9 461.5 L776.2 459.7 L776.5 457.9 L776.8 456.1 L777.1 454.3 L777.4 452.6 L777.7 450.9 L778.0 449.3 L778.3 447.6 L778.6 446.1 L778.9 444.6 L779.2 443.1 L779.5 441.6 L779.8 440.3 L780.1 438.9 L780.4 437.6 L780.7 436.4 L781.0 435.2 L781.3 434.1 L781.6 433.0 L781.9 432.0 L782.2 431.1 L782.5 430.2 L782.8 429.4 L783.1 428.6 L783.4 427.9 L783.7 427.3 L784.0 426.7 L784.3 426.2 L784.6 425.8 L784.9 425.4 L785.2 425.1 L785.5 424.8 L785.8 424.7 L786.1 424.6 L786.4 424.5 L786.7 424.6 L787.0 424.8 L787.3 425.0 L787.6 425.5 L787.9 426.0 L788.2 426.6 L788.5 427.3 L788.8 428.2 L789.1 429.1 L789.4 430.2 L789.6 431.4 L789.9 432.7 L790.2 434.1 L790.5 435.5 L790.8 437.1 L791.1 438.8 L791.4 440.6 L791.7 442.4 L792.0 444.4 L792.3 446.4 L792.6 448.5 L792.9 450.7 L793.2 453.0 L793.5 455.3 L793.8 457.7 L794.1 460.2 L794.4 462.8 L794.7 465.3 L795.0 468.0 L795.3 470.7 L795.6 473.4 L795.9 476.2 L796.2 479.0 L796.5 481.8 L796.8 484.7 L797.1 487.6 L797.4 490.5 L797.7 493.4 L798.0 496.4 L798.3 499.3 L798.6 502.3 L798.9 505.2 L799.2 508.1 L799.5 511.0 L799.8 513.9 L800.1 516.8 L800.4 519.6 L800.7 522.4 L801.0 525.2 L801.3 528.0 L801.6 530.7 L801.9 533.3 L802.2 535.9 L802.5 538.4 L802.8 540.9 L803.1 543.3 L803.4 545.7 L803.7 547.9 L804.0 550.1 L804.3 552.2 L804.6 554.3 L804.9 556.2 L805.2 558.1 L805.5 559.9 L805.8 561.5 L806.1 563.1 L806.4 564.6 L806.7 566.0 L807.0 567.3 L807.3 568.5 L807.6 569.5 L807.9 570.5 L808.2 571.3 L808.5 572.1 L808.8 572.7 L809.1 573.2 L809.4 573.6 L809.7 573.9 L810.0 574.1 L810.3 574.2 L810.6 574.1 L810.9 573.9 L811.2 573.7 L811.5 573.3 L811.8 572.8 L812.1 572.3 L812.4 571.6 L812.7 570.8 L813.0 569.9 L813.3 569.0 L813.6 567.9 L813.9 566.7 L814.2 565.5 L814.5 564.1 L814.8 562.7 L815.1 561.2 L815.4 559.6 L815.7 558.0 L816.0 556.2 L816.3 554.4 L816.6 552.5 L816.9 550.6 L817.2 548.6 L817.5 546.6 L817.8 544.5 L818.1 542.3 L818.4 540.1 L818.7 537.9 L819.0 535.7 L819.2 533.4 L819.5 531.1 L819.8 528.7 L820.1 526.4 L820.4 524.1 L820.7 521.7 L821.0 519.4 L821.3 517.0 L821.6 514.7 L821.9 512.3 L822.2 510.0 L822.5 507.8 L822.8 505.5 L823.1 503.3 L823.4 501.1 L823.7 499.0 L824.0 496.9 L824.3 494.8 L824.6 492.8 L824.9 490.9 L825.2 489.0 L825.5 487.2 L825.8 485.5 L826.1 483.8 L826.4 482.2 L826.7 480.7 L827.0 479.3 L827.3 477.9 L827.6 476.7 L827.9 475.5 L828.2 474.5 L828.5 473.5 L828.8 472.6 L829.1 471.8 L829.4 471.1 L829.7 470.6 L830.0 470.1 L830.3 469.7 L830.6 469.5 L830.9 469.3 L831.2 469.3 L831.5 469.3 L831.8 469.4 L832.1 469.5 L832.4 469.7 L832.7 469.9 L833.0 470.2 L833.3 470.5 L833.6 470.8 L833.9 471.3 L834.2 471.7 L834.5 472.2 L834.8 472.8 L835.1 473.4 L835.4 474.1 L835.7 474.8 L836.0 475.5 L836.3 476.3 L836.6 477.1 L836.9 478.0 L837.2 478.9 L837.5 479.8 L837.8 480.8 L838.1 481.8 L838.4 482.8 L838.7 483.9 L839.0 485.0 L839.3 486.2 L839.6 487.4 L839.9 488.6 L840.2 489.8 L840.5 491.1 L840.8 492.4 L841.1 493.7 L841.4 495.0 L841.7 496.4 L842.0 497.7 L842.3 499.1 L842.6 500.5 L842.9 501.9 L843.2 503.4 L843.5 504.8 L843.8 506.2 L844.1 507.7 L844.4 509.1 L844.7 510.6 L845.0 512.1 L845.3 513.5 L845.6 515.0 L845.9 516.4 L846.2 517.9 L846.5 519.3 L846.8 520.8 L847.1 522.2 L847.4 523.6 L847.7 525.0 L848.0 526.4 L848.3 527.8 L848.6 529.1 L848.9 530.4 L849.1 531.8 L849.4 533.0 L849.7 534.3 L850.0 535.5 L850.3 536.7 L850.6 537.9 L850.9 539.1 L851.2 540.2 L851.5 541.3 L851.8 542.3 L852.1 543.3 L852.4 544.3 L852.7 545.3 L853.0 546.2 L853.3 547.0 L853.6 547.8 L853.9 548.6 L854.2 549.4 L854.5 550.1 L854.8 550.7 L855.1 551.3 L855.4 551.9 L855.7 552.4 L856.0 552.9 L856.3 553.3 L856.6 553.6 L856.9 554.0 L857.2 554.2 L857.5 554.5 L857.8 554.6 L858.1 554.8 L858.4 554.8 L858.7 554.9 L859.0 554.8 L859.3 554.7 L859.6 554.5 L859.9 554.2 L860.2 553.8 L860.5 553.4 L860.8 552.8 L861.1 552.2 L861.4 551.5 L861.7 550.7 L862.0 549.9 L862.3 549.0 L862.6 548.0 L862.9 546.9 L863.2 545.8 L863.5 544.6 L863.8 543.3 L864.1 542.0 L864.4 540.6 L864.7 539.2 L865.0 537.7 L865.3 536.1 L865.6 534.6 L865.9 532.9 L866.2 531.3 L866.5 529.6 L866.8 527.8 L867.1 526.1 L867.4 524.3 L867.7 522.4 L868.0 520.6 L868.3 518.8 L868.6 516.9 L868.9 515.0 L869.2 513.2 L869.5 511.3 L869.8 509.4 L870.1 507.6 L870.4 505.7 L870.7 503.9 L871.0 502.1 L871.3 500.3 L871.6 498.5 L871.9 496.8 L872.2 495.1 L872.5 493.4 L872.8 491.8 L873.1 490.2 L873.4 488.7 L873.7 487.2 L874.0 485.7 L874.3 484.4 L874.6 483.0 L874.9 481.8 L875.2 480.6 L875.5 479.4 L875.8 478.4 L876.1 477.4 L876.4 476.5 L876.7 475.6 L877.0 474.8 L877.3 474.1 L877.6 473.5 L877.9 473.0 L878.2 472.5 L878.5 472.2 L878.8 471.9 L879.0 471.7 L879.3 471.5 L879.6 471.5 L879.9 471.5 L880.2 471.6 L880.5 471.8 L880.8 472.0 L881.1 472.3 L881.4 472.6 L881.7 473.0 L882.0 473.4 L882.3 474.0 L882.6 474.5 L882.9 475.2 L883.2 475.9 L883.5 476.6 L883.8 477.4 L884.1 478.2 L884.4 479.1 L884.7 480.1 L885.0 481.1 L885.3 482.1 L885.6 483.2 L885.9 484.3 L886.2 485.5 L886.5 486.7 L886.8 487.9 L887.1 489.2 L887.4 490.5 L887.7 491.9 L888.0 493.3 L888.3 494.7 L888.6 496.1 L888.9 497.5 L889.2 499.0 L889.5 500.5 L889.8 502.0 L890.1 503.5 L890.4 505.0 L890.7 506.5 L891.0 508.1 L891.3 509.6 L891.6 511.1 L891.9 512.7 L892.2 514.2 L892.5 515.7 L892.8 517.2 L893.1 518.7 L893.4 520.2 L893.7 521.7 L894.0 523.1 L894.3 524.5 L894.6 525.9 L894.9 527.3 L895.2 528.6 L895.5 529.9 L895.8 531.2 L896.1 532.5 L896.4 533.7 L896.7 534.9 L897.0 536.0 L897.3 537.1 L897.6 538.1 L897.9 539.1 L898.2 540.0 L898.5 540.9 L898.8 541.8 L899.1 542.6 L899.4 543.3 L899.7 544.0 L900.0 544.6 L900.3 545.2 L900.6 545.7 L900.9 546.2 L901.2 546.6 L901.5 546.9 L901.8 547.2 L902.1 547.4 L902.4 547.6 L902.7 547.7 L903.0 547.7 L903.3 547.7 L903.6 547.6 L903.9 547.4 L904.2 547.2 L904.5 546.9 L904.8 546.6 L905.1 546.2 L905.4 545.8 L905.7 545.3 L906.0 544.7 L906.3 544.1 L906.6 543.5 L906.9 542.7 L907.2 542.0 L907.5 541.2 L907.8 540.3 L908.1 539.4 L908.4 538.4 L908.7 537.4 L909.0 536.4 L909.2 535.3 L909.5 534.2 L909.8 533.0 L910.1 531.9 L910.4 530.6 L910.7 529.4 L911.0 528.1 L911.3 526.8 L911.6 525.5 L911.9 524.2 L912.2 522.8 L912.5 521.4 L912.8 520.0 L913.1 518.6 L913.4 517.2 L913.7 515.8 L914.0 514.4 L914.3 513.0 L914.6 511.6 L914.9 510.2 L915.2 508.8 L915.5 507.4 L915.8 506.0 L916.1 504.7 L916.4 503.3 L916.7 502.0 L917.0 500.7 L917.3 499.4 L917.6 498.2 L917.9 497.0 L918.2 495.8 L918.5 494.6 L918.8 493.5 L919.1 492.4 L919.4 491.4 L919.7 490.4 L920.0 489.4 L920.3 488.5 L920.6 487.7 L920.9 486.8 L921.2 486.1 L921.5 485.4 L921.8 484.7 L922.1 484.1 L922.4 483.5 L922.7 483.0 L923.0 482.6 L923.3 482.2 L923.6 481.9 L923.9 481.6 L924.2 481.4 L924.5 481.3 L924.8 481.2 L925.1 481.1 L925.4 481.2 L925.7 481.3 L926.0 481.4 L926.3 481.6 L926.6 481.9 L926.9 482.2 L927.2 482.6 L927.5 483.0 L927.8 483.5 L928.1 484.1 L928.4 484.7 L928.7 485.3 L929.0 486.1 L929.3 486.8 L929.6 487.6 L929.9 488.5 L930.2 489.4 L930.5 490.3 L930.8 491.3 L931.1 492.4 L931.4 493.4 L931.7 494.5 L932.0 495.7 L932.3 496.8 L932.6 498.0 L932.9 499.3 L933.2 500.5 L933.5 501.8 L933.8 503.1 L934.1 504.4 L934.4 505.8 L934.7 507.1 L935.0 508.5 L935.3 509.8 L935.6 511.2 L935.9 512.6 L936.2 513.9 L936.5 515.3 L936.8 516.7 L937.1 518.0 L937.4 519.4 L937.7 520.7 L938.0 522.0 L938.3 523.3 L938.6 524.6 L938.9 525.8 L939.1 527.1 L939.4 528.3 L939.7 529.4 L940.0 530.6 L940.3 531.7 L940.6 532.8 L940.9 533.8 L941.2 534.8 L941.5 535.7 L941.8 536.6 L942.1 537.5 L942.4 538.3 L942.7 539.1 L943.0 539.8 L943.3 540.4 L943.6 541.0 L943.9 541.6 L944.2 542.1 L944.5 542.5 L944.8 542.9 L945.1 543.2 L945.4 543.5 L945.7 543.7 L946.0 543.9 L946.3 543.9 L946.6 544.0 L946.9 543.9 L947.2 543.7 L947.5 543.5 L947.8 543.1 L948.1 542.6 L948.4 542.0 L948.7 541.2 L949.0 540.4 L949.3 539.5 L949.6 538.4 L949.9 537.3 L950.2 536.0 L950.5 534.7 L950.8 533.2 L951.1 531.7 L951.4 530.1 L951.7 528.4 L952.0 526.6 L952.3 524.8 L952.6 522.8 L952.9 520.8 L953.2 518.8 L953.5 516.6 L953.8 514.4 L954.1 512.2 L954.4 509.9 L954.7 507.5 L955.0 505.2 L955.3 502.8 L955.6 500.3 L955.9 497.8 L956.2 495.4 L956.5 492.8 L956.8 490.3 L957.1 487.8 L957.4 485.3 L957.7 482.8 L958.0 480.3 L958.3 477.8 L958.6 475.3 L958.9 472.9 L959.2 470.5 L959.5 468.1 L959.8 465.7 L960.1 463.4 L960.4 461.2 L960.7 459.0 L961.0 456.9 L961.3 454.8 L961.6 452.8 L961.9 450.9 L962.2 449.0 L962.5 447.2 L962.8 445.5 L963.1 443.9 L963.4 442.4 L963.7 441.0 L964.0 439.6 L964.3 438.4 L964.6 437.2 L964.9 436.2 L965.2 435.3 L965.5 434.4 L965.8 433.7 L966.1 433.1 L966.4 432.6 L966.7 432.2 L967.0 431.9 L967.3 431.8 L967.6 431.7 L967.9 431.7 L968.2 431.9 L968.5 432.1 L968.8 432.4 L969.0 432.7 L969.3 433.2 L969.6 433.7 L969.9 434.3 L970.2 435.0 L970.5 435.8 L970.8 436.6 L971.1 437.5 L971.4 438.5 L971.7 439.6 L972.0 440.7 L972.3 441.9 L972.6 443.2 L972.9 444.5 L973.2 445.9 L973.5 447.4 L973.8 448.9 L974.1 450.5 L974.4 452.1 L974.7 453.8 L975.0 455.5 L975.3 457.3 L975.6 459.1 L975.9 461.0 L976.2 462.9 L976.5 464.8 L976.8 466.8 L977.1 468.8 L977.4 470.9 L977.7 472.9 L978.0 475.0 L978.3 477.1 L978.6 479.2 L978.9 481.4 L979.2 483.5 L979.5 485.7 L979.8 487.8 L980.1 490.0 L980.4 492.1 L980.7 494.3 L981.0 496.4 L981.3 498.5 L981.6 500.6 L981.9 502.7 L982.2 504.8 L982.5 506.8 L982.8 508.8 L983.1 510.8 L983.4 512.7 L983.7 514.6 L984.0 516.5 L984.3 518.3 L984.6 520.1 L984.9 521.9 L985.2 523.5 L985.5 525.2 L985.8 526.8 L986.1 528.3 L986.4 529.7 L986.7 531.1 L987.0 532.5 L987.3 533.7 L987.6 535.0 L987.9 536.1 L988.2 537.2 L988.5 538.1 L988.8 539.1 L989.1 539.9 L989.4 540.7 L989.7 541.4 L990.0 542.0 L990.3 542.5 L990.6 542.9 L990.9 543.3 L991.2 543.6 L991.5 543.8 L991.8 543.9 L992.1 544.0 L992.4 543.9 L992.7 543.8 L993.0 543.5 L993.3 543.2 L993.6 542.7 L993.9 542.2 L994.2 541.5 L994.5 540.8 L994.8 539.9 L995.1 539.0 L995.4 538.0 L995.7 536.9 L996.0 535.7 L996.3 534.4 L996.6 533.1 L996.9 531.6 L997.2 530.1 L997.5 528.6 L997.8 526.9 L998.1 525.2 L998.4 523.5 L998.6 521.6 L998.9 519.8 L999.2 517.9 L999.5 515.9 L999.8 513.9 L1000.1 511.9 L1000.4 509.8 L1000.7 507.8 L1001.0 505.7 L1001.3 503.6 L1001.6 501.4 L1001.9 499.3 L1002.2 497.2 L1002.5 495.1 L1002.8 493.0 L1003.1 490.9 L1003.4 488.8 L1003.7 486.7 L1004.0 484.7 L1004.3 482.7 L1004.6 480.8 L1004.9 478.9 L1005.2 477.0 L1005.5 475.2 L1005.8 473.4 L1006.1 471.7 L1006.4 470.1 L1006.7 468.5 L1007.0 467.0 L1007.3 465.6 L1007.6 464.2 L1007.9 462.9 L1008.2 461.8 L1008.5 460.6 L1008.8 459.6 L1009.1 458.7 L1009.4 457.9 L1009.7 457.1 L1010.0 456.5 L1010.3 455.9 L1010.6 455.5 L1010.9 455.1 L1011.2 454.9 L1011.5 454.7 L1011.8 454.7 L1012.1 454.7 L1012.4 454.9 L1012.7 455.2 L1013.0 455.5 L1013.3 456.0 L1013.6 456.6 L1013.9 457.3 L1014.2 458.1 L1014.5 459.0 L1014.8 460.0 L1015.1 461.1 L1015.4 462.3 L1015.7 463.6 L1016.0 465.0 L1016.3 466.5 L1016.6 468.0 L1016.9 469.7 L1017.2 471.4 L1017.5 473.2 L1017.8 475.1 L1018.1 477.1 L1018.4 479.1 L1018.7 481.2 L1019.0 483.4 L1019.3 485.6 L1019.6 487.9 L1019.9 490.2 L1020.2 492.6 L1020.5 495.0 L1020.8 497.4 L1021.1 499.9 L1021.4 502.4 L1021.7 505.0 L1022.0 507.6 L1022.3 510.2 L1022.6 512.8 L1022.9 515.4 L1023.2 518.0 L1023.5 520.6 L1023.8 523.2 L1024.1 525.8 L1024.4 528.4 L1024.7 531.0 L1025.0 533.5 L1025.3 536.1 L1025.6 538.6 L1025.9 541.0 L1026.2 543.4 L1026.5 545.8 L1026.8 548.1 L1027.1 550.4 L1027.4 552.6 L1027.7 554.8 L1028.0 556.9 L1028.3 558.9 L1028.5 560.9 L1028.8 562.8 L1029.1 564.6 L1029.4 566.3 L1029.7 568.0 L1030.0 569.5 L1030.3 571.0 L1030.6 572.4 L1030.9 573.7 L1031.2 574.9 L1031.5 576.0 L1031.8 577.0 L1032.1 577.9 L1032.4 578.7 L1032.7 579.4 L1033.0 580.0 L1033.3 580.5 L1033.6 580.8 L1033.9 581.1 L1034.2 581.3 L1034.5 581.3 L1034.8 581.3 L1035.1 581.2 L1035.4 580.9 L1035.7 580.6 L1036.0 580.2 L1036.3 579.8 L1036.6 579.2 L1036.9 578.6 L1037.2 577.8 L1037.5 577.0 L1037.8 576.1 L1038.1 575.1 L1038.4 574.1 L1038.7 572.9 L1039.0 571.7 L1039.3 570.4 L1039.6 569.1 L1039.9 567.6 L1040.2 566.1 L1040.5 564.5 L1040.8 562.9 L1041.1 561.2 L1041.4 559.4 L1041.7 557.6 L1042.0 555.7 L1042.3 553.8 L1042.6 551.8 L1042.9 549.7 L1043.2 547.6 L1043.5 545.5 L1043.8 543.3 L1044.1 541.0 L1044.4 538.8 L1044.7 536.5 L1045.0 534.1 L1045.3 531.8 L1045.6 529.4 L1045.9 526.9 L1046.2 524.5 L1046.5 522.0 L1046.8 519.6 L1047.1 517.1 L1047.4 514.6 L1047.7 512.1 L1048.0 509.6 L1048.3 507.1 L1048.6 504.6 L1048.9 502.1 L1049.2 499.6 L1049.5 497.1 L1049.7 494.7 L1050.0 492.2 L1050.3 489.8 L1050.6 487.4 L1050.9 485.0 L1051.2 482.7 L1051.5 480.4 L1051.8 478.1 L1052.1 475.9 L1052.4 473.7 L1052.7 471.6 L1053.0 469.5 L1053.3 467.4 L1053.6 465.4 L1053.9 463.5 L1054.2 461.6 L1054.5 459.7 L1054.8 458.0 L1055.1 456.3 L1055.4 454.6 L1055.7 453.1 L1056.0 451.5 L1056.3 450.1 L1056.6 448.8 L1056.9 447.5 L1057.2 446.3 L1057.5 445.1 L1057.8 444.1 L1058.1 443.1 L1058.4 442.2 L1058.7 441.4 L1059.0 440.6 L1059.3 440.0 L1059.6 439.4 L1059.9 439.0 L1060.2 438.6 L1060.5 438.3 L1060.8 438.0 L1061.1 437.9 L1061.4 437.9 L1061.6 437.9 L1061.9 438.1 L1062.2 438.4 L1062.5 438.8 L1062.8 439.3 L1063.1 439.9 L1063.4 440.6 L1063.7 441.5 L1064.0 442.4 L1064.3 443.5 L1064.6 444.7 L1064.9 445.9 L1065.2 447.3 L1065.5 448.7 L1065.8 450.3 L1066.1 452.0 L1066.4 453.7 L1066.7 455.5 L1067.0 457.4 L1067.3 459.4 L1067.6 461.5 L1067.9 463.7 L1068.2 465.9 L1068.5 468.2 L1068.8 470.5 L1069.1 472.9 L1069.4 475.4 L1069.7 477.9 L1070.0 480.4 L1070.3 483.0 L1070.6 485.7 L1070.9 488.3 L1071.2 491.0 L1071.5 493.7 L1071.8 496.5 L1072.1 499.2 L1072.4 502.0 L1072.7 504.8 L1073.0 507.5 L1073.2 510.3 L1073.5 513.0 L1073.8 515.8 L1074.1 518.5 L1074.4 521.2 L1074.7 523.9 L1075.0 526.5 L1075.3 529.1 L1075.6 531.6 L1075.9 534.2 L1076.2 536.6 L1076.5 539.0 L1076.8 541.4 L1077.1 543.6 L1077.4 545.9 L1077.7 548.0 L1078.0 550.1 L1078.3 552.1 L1078.6 554.0 L1078.9 555.8 L1079.2 557.6 L1079.5 559.2 L1079.8 560.8 L1080.1 562.3 L1080.4 563.6 L1080.7 564.9 L1081.0 566.0 L1081.3 567.1 L1081.6 568.1 L1081.9 568.9 L1082.2 569.6 L1082.5 570.3 L1082.8 570.8 L1083.1 571.2 L1083.4 571.5 L1083.7 571.6 L1084.0 571.7 L1084.3 571.6 L1084.6 571.5 L1084.9 571.3 L1085.2 570.9 L1085.4 570.5 L1085.7 570.0 L1086.0 569.4 L1086.3 568.7 L1086.6 568.0 L1086.9 567.1 L1087.2 566.1 L1087.5 565.1 L1087.8 564.0 L1088.1 562.8 L1088.4 561.5 L1088.7 560.2 L1089.0 558.7 L1089.3 557.2 L1089.6 555.6 L1089.9 554.0 L1090.2 552.3 L1090.5 550.5 L1090.8 548.7 L1091.1 546.8 L1091.4 544.9 L1091.7 542.9 L1092.0 540.8 L1092.3 538.7 L1092.6 536.6 L1092.9 534.4 L1093.2 532.2 L1093.5 530.0 L1093.8 527.7 L1094.1 525.4 L1094.4 523.1 L1094.7 520.8 L1095.0 518.4 L1095.3 516.1 L1095.6 513.7 L1095.9 511.3 L1096.2 508.9 L1096.5 506.6 L1096.8 504.2 L1097.0 501.9 L1097.3 499.5 L1097.6 497.2 L1097.9 494.9 L1098.2 492.7 L1098.5 490.4 L1098.8 488.2 L1099.1 486.0 L1099.4 483.9 L1099.7 481.8 L1100.0 479.8 L1100.3 477.8 L1100.6 475.8 L1100.9 473.9 L1101.2 472.1 L1101.5 470.3 L1101.8 468.6 L1102.1 467.0 L1102.4 465.4 L1102.7 463.9 L1103.0 462.5 L1103.3 461.1 L1103.6 459.8 L1103.9 458.6 L1104.2 457.5 L1104.5 456.5 L1104.8 455.5 L1105.1 454.7 L1105.4 453.9 L1105.7 453.2 L1106.0 452.6 L1106.3 452.1 L1106.6 451.7 L1106.9 451.4 L1107.2 451.1 L1107.5 451.0 L1107.8 451.0 L1108.1 451.0 L1108.4 451.1 L1108.7 451.3 L1109.0 451.6 L1109.2 452.0 L1109.5 452.5 L1109.8 453.0 L1110.1 453.6 L1110.4 454.3 L1110.7 455.1 L1111.0 456.0 L1111.3 456.9 L1111.6 457.9 L1111.9 459.0 L1112.2 460.2 L1112.5 461.4 L1112.8 462.7 L1113.1 464.1 L1113.4 465.5 L1113.7 467.0 L1114.0 468.5 L1114.3 470.2 L1114.6 471.8 L1114.9 473.6 L1115.2 475.3 L1115.5 477.1 L1115.8 479.0 L1116.1 480.9 L1116.4 482.9 L1116.7 484.9 L1117.0 486.9 L1117.3 488.9 L1117.6 491.0 L1117.9 493.1 L1118.2 495.3 L1118.5 497.4 L1118.8 499.6 L1119.1 501.8 L1119.4 504.0 L1119.7 506.2 L1120.0 508.3 L1120.3 510.5 L1120.6 512.7 L1120.9 514.9 L1121.1 517.1 L1121.4 519.3 L1121.7 521.4 L1122.0 523.6 L1122.3 525.7 L1122.6 527.7 L1122.9 529.8 L1123.2 531.8 L1123.5 533.8 L1123.8 535.8 L1124.1 537.7 L1124.4 539.5 L1124.7 541.4 L1125.0 543.1 L1125.3 544.9 L1125.6 546.5 L1125.9 548.1 L1126.2 549.7 L1126.5 551.2 L1126.8 552.6 L1127.1 554.0 L1127.4 555.3 L1127.7 556.5 L1128.0 557.7 L1128.3 558.8 L1128.6 559.8 L1128.9 560.7 L1129.2 561.6 L1129.5 562.4 L1129.8 563.1 L1130.1 563.7 L1130.4 564.2 L1130.7 564.7 L1131.0 565.1 L1131.3 565.4 L1131.6 565.6 L1131.9 565.7 L1132.2 565.7 L1132.5 565.7 L1132.8 565.6 L1133.0 565.4 L1133.3 565.2 L1133.6 564.8 L1133.9 564.4 L1134.2 563.9 L1134.5 563.4 L1134.8 562.8 L1135.1 562.1 L1135.4 561.3 L1135.7 560.5 L1136.0 559.6 L1136.3 558.7 L1136.6 557.7 L1136.9 556.6 L1137.2 555.5 L1137.5 554.3 L1137.8 553.0 L1138.1 551.7 L1138.4 550.4 L1138.7 549.0 L1139.0 547.6 L1139.3 546.1 L1139.6 544.6 L1139.9 543.0 L1140.2 541.4 L1140.5 539.8 L1140.8 538.1 L1141.1 536.4 L1141.4 534.7 L1141.7 533.0 L1142.0 531.2 L1142.3 529.5 L1142.6 527.7 L1142.9 525.9 L1143.2 524.1 L1143.5 522.3 L1143.8 520.5 L1144.1 518.7 L1144.4 517.0 L1144.6 515.2 L1144.9 513.4 L1145.2 511.7 L1145.5 509.9 L1145.8 508.2 L1146.1 506.5 L1146.4 504.9 L1146.7 503.3 L1147.0 501.7 L1147.3 500.1 L1147.6 498.6 L1147.9 497.1 L1148.2 495.7 L1148.5 494.3 L1148.8 492.9 L1149.1 491.6 L1149.4 490.4 L1149.7 489.2 L1150.0 488.1 L1150.3 487.0 L1150.6 486.0 L1150.9 485.0 L1151.2 484.1 L1151.5 483.3 L1151.8 482.6 L1152.1 481.9 L1152.4 481.3 L1152.7 480.7 L1153.0 480.2 L1153.3 479.8 L1153.6 479.5 L1153.9 479.2 L1154.2 479.1 L1154.5 478.9 L1154.8 478.9 L1155.1 478.9 L1155.4 479.0 L1155.7 479.2 L1156.0 479.4 L1156.3 479.7 L1156.5 480.1 L1156.8 480.5 L1157.1 481.0 L1157.4 481.5 L1157.7 482.1 L1158.0 482.8 L1158.3 483.5 L1158.6 484.2 L1158.9 485.0 L1159.2 485.8 L1159.5 486.7 L1159.8 487.6 L1160.1 488.6 L1160.4 489.5 L1160.7 490.5 L1161.0 491.5 L1161.3 492.6 L1161.6 493.6 L1161.9 494.7 L1162.2 495.7 L1162.5 496.8 L1162.8 497.8 L1163.1 498.9 L1163.4 499.9 L1163.7 500.9 L1164.0 501.9 L1164.3 502.9 L1164.6 503.8 L1164.9 504.7 L1165.2 505.6 L1165.5 506.5 L1165.8 507.2 L1166.1 508.0 L1166.4 508.7 L1166.7 509.3 L1167.0 509.9 L1167.3 510.5 L1167.6 511.0 L1167.9 511.4 L1168.2 511.7 L1168.5 512.0 L1168.7 512.3 L1169.0 512.4 L1169.3 512.5 L1169.6 512.6 L1169.9 512.5 L1170.2 512.5 L1170.5 512.4 L1170.8 512.2 L1171.1 512.1 L1171.4 511.9 L1171.7 511.6 L1172.0 511.3 L1172.3 511.0 L1172.6 510.6 L1172.9 510.2 L1173.2 509.8 L1173.5 509.3 L1173.8 508.8 L1174.1 508.3 L1174.4 507.7 L1174.7 507.1 L1175.0 506.5 L1175.3 505.8 L1175.6 505.2 L1175.9 504.4 L1176.2 503.7 L1176.5 502.9 L1176.8 502.1 L1177.1 501.3 L1177.4 500.5 L1177.7 499.6 L1178.0 498.7 L1178.3 497.8 L1178.6 496.9 L1178.9 496.0 L1179.2 495.0 L1179.5 494.1 L1179.8 493.1 L1180.1 492.1 L1180.4 491.1 L1180.6 490.1 L1180.9 489.1 L1181.2 488.1 L1181.5 487.1 L1181.8 486.1 L1182.1 485.1 L1182.4 484.1 L1182.7 483.0 L1183.0 482.0 L1183.3 481.0 L1183.6 480.1 L1183.9 479.1 L1184.2 478.1 L1184.5 477.1 L1184.8 476.2 L1185.1 475.3 L1185.4 474.3 L1185.7 473.4 L1186.0 472.6 L1186.3 471.7 L1186.6 470.9 L1186.9 470.0 L1187.2 469.2 L1187.5 468.5 L1187.8 467.7 L1188.1 467.0 L1188.4 466.3 L1188.7 465.7 L1189.0 465.0 L1189.3 464.4 L1189.6 463.9 L1189.9 463.3 L1190.2 462.8 L1190.5 462.4 L1190.8 461.9 L1191.1 461.5 L1191.4 461.2 L1191.7 460.8 L1192.0 460.6 L1192.2 460.3 L1192.5 460.1 L1192.8 459.9 L1193.1 459.8 L1193.4 459.7 L1193.7 459.6 L1194.0 459.6 L1194.3 459.6 L1194.6 459.7 L1194.9 459.8 L1195.2 460.0 L1195.5 460.2 L1195.8 460.5 L1196.1 460.8 L1196.4 461.2 L1196.7 461.6 L1197.0 462.0 L1197.3 462.5 L1197.6 463.1 L1197.9 463.7 L1198.2 464.3 L1198.5 465.0 L1198.8 465.7 L1199.1 466.5 L1199.4 467.3 L1199.7 468.2 L1200.0 469.1 L1200.3 470.0 L1200.6 471.0 L1200.9 472.0 L1201.2 473.0 L1201.5 474.1 L1201.8 475.2 L1202.1 476.4 L1202.4 477.5 L1202.7 478.8 L1203.0 480.0 L1203.3 481.3 L1203.6 482.5 L1203.9 483.9 L1204.1 485.2 L1204.4 486.6 L1204.7 488.0 L1205.0 489.4 L1205.3 490.8 L1205.6 492.2 L1205.9 493.7 L1206.2 495.2 L1206.5 496.6 L1206.8 498.1 L1207.1 499.6 L1207.4 501.1 L1207.7 502.7 L1208.0 504.2 L1208.3 505.7 L1208.6 507.2 L1208.9 508.8 L1209.2 510.3 L1209.5 511.8 L1209.8 513.3 L1210.1 514.8 L1210.4 516.3 L1210.7 517.8 L1211.0 519.3 L1211.3 520.8 L1211.6 522.2 L1211.9 523.7 L1212.2 525.1 L1212.5 526.5 L1212.8 527.9 L1213.1 529.3 L1213.4 530.6 L1213.7 531.9 L1214.0 533.2 L1214.3 534.5 L1214.6 535.7 L1214.9 536.9 L1215.2 538.1 L1215.5 539.3 L1215.8 540.4 L1216.1 541.4 L1216.3 542.5 L1216.6 543.5 L1216.9 544.5 L1217.2 545.4 L1217.5 546.3 L1217.8 547.1 L1218.1 548.0 L1218.4 548.7 L1218.7 549.5 L1219.0 550.1 L1219.3 550.8 L1219.6 551.4 L1219.9 551.9 L1220.2 552.4 L1220.5 552.9 L1220.8 553.3 L1221.1 553.7 L1221.4 554.0 L1221.7 554.2 L1222.0 554.5 L1222.3 554.6 L1222.6 554.8 L1222.9 554.8 L1223.2 554.9 L1223.5 554.8 L1223.8 554.7 L1224.1 554.5 L1224.4 554.2 L1224.7 553.8 L1225.0 553.3 L1225.3 552.7 L1225.6 552.1 L1225.9 551.3 L1226.2 550.5 L1226.5 549.6 L1226.8 548.6 L1227.1 547.6 L1227.4 546.5 L1227.7 545.3 L1228.0 544.1 L1228.2 542.8 L1228.5 541.4 L1228.8 540.0 L1229.1 538.5 L1229.4 536.9 L1229.7 535.4 L1230.0 533.8 L1230.3 532.1 L1230.6 530.4 L1230.9 528.7 L1231.2 527.0 L1231.5 525.2 L1231.8 523.4 L1232.1 521.6 L1232.4 519.8 L1232.7 518.0 L1233.0 516.2 L1233.3 514.4 L1233.6 512.6 L1233.9 510.8 L1234.2 509.0 L1234.5 507.3 L1234.8 505.6 L1235.1 503.9 L1235.4 502.2 L1235.7 500.6 L1236.0 499.0 L1236.3 497.5 L1236.6 496.0 L1236.9 494.6 L1237.2 493.2 L1237.5 491.9 L1237.8 490.7 L1238.1 489.5 L1238.4 488.4 L1238.7 487.3 L1239.0 486.4 L1239.3 485.5 L1239.6 484.7 L1239.9 483.9 L1240.1 483.3 L1240.4 482.7 L1240.7 482.2 L1241.0 481.8 L1241.3 481.5 L1241.6 481.3 L1241.9 481.2 L1242.2 481.1 L1242.5 481.2 L1242.8 481.2 L1243.1 481.3 L1243.4 481.5 L1243.7 481.7 L1244.0 481.9 L1244.3 482.2 L1244.6 482.5 L1244.9 482.9 L1245.2 483.3 L1245.5 483.7 L1245.8 484.2 L1246.1 484.8 L1246.4 485.3 L1246.7 485.9 L1247.0 486.6 L1247.3 487.2 L1247.6 488.0 L1247.9 488.7 L1248.2 489.5 L1248.5 490.3 L1248.8 491.1 L1249.1 492.0 L1249.4 492.9 L1249.7 493.8 L1250.0 494.7 L1250.3 495.7 L1250.6 496.7 L1250.9 497.7 L1251.2 498.7 L1251.5 499.7 L1251.8 500.8 L1252.0 501.9 L1252.3 502.9 L1252.6 504.0 L1252.9 505.1 L1253.2 506.2 L1253.5 507.4 L1253.8 508.5 L1254.1 509.6 L1254.4 510.7 L1254.7 511.8 L1255.0 512.9 L1255.3 514.0 L1255.6 515.1 L1255.9 516.2 L1256.2 517.3 L1256.5 518.4 L1256.8 519.4 L1257.1 520.5 L1257.4 521.5 L1257.7 522.5 L1258.0 523.5 L1258.3 524.5 L1258.6 525.4 L1258.9 526.3 L1259.2 527.2 L1259.5 528.1 L1259.8 528.9 L1260.1 529.7 L1260.4 530.5 L1260.7 531.2 L1261.0 531.9 L1261.3 532.6 L1261.6 533.2 L1261.9 533.8 L1262.2 534.4 L1262.5 534.9 L1262.8 535.4 L1263.1 535.9 L1263.4 536.3 L1263.6 536.6 L1263.9 537.0 L1264.2 537.3 L1264.5 537.5 L1264.8 537.7 L1265.1 537.8 L1265.4 537.9 L1265.7 538.0 L1266.0 538.0 L1266.3 538.0 L1266.6 537.9 L1266.9 537.8 L1267.2 537.6 L1267.5 537.4 L1267.8 537.1 L1268.1 536.7 L1268.4 536.3 L1268.7 535.9 L1269.0 535.4 L1269.3 534.8 L1269.6 534.2 L1269.9 533.6 L1270.2 532.9 L1270.5 532.1 L1270.8 531.4 L1271.1 530.5 L1271.4 529.7 L1271.7 528.8 L1272.0 527.8 L1272.3 526.8 L1272.6 525.8 L1272.9 524.8 L1273.2 523.7 L1273.5 522.5 L1273.8 521.4 L1274.1 520.2 L1274.4 519.0 L1274.7 517.8 L1275.0 516.6 L1275.3 515.3 L1275.6 514.0 L1275.8 512.7 L1276.1 511.4 L1276.4 510.1 L1276.7 508.8 L1277.0 507.4 L1277.3 506.1 L1277.6 504.8 L1277.9 503.4 L1278.2 502.1 L1278.5 500.8 L1278.8 499.4 L1279.1 498.1 L1279.4 496.8 L1279.7 495.5 L1280.0 494.2 L1280.3 493.0 L1280.6 491.7 L1280.9 490.5 L1281.2 489.3 L1281.5 488.1 L1281.8 487.0 L1282.1 485.9 L1282.4 484.8 L1282.7 483.7 L1283.0 482.7 L1283.3 481.7 L1283.6 480.8 L1283.9 479.9 L1284.2 479.0 L1284.5 478.2 L1284.8 477.4 L1285.1 476.6 L1285.4 475.9 L1285.7 475.3 L1286.0 474.7 L1286.3 474.1 L1286.6 473.6 L1286.9 473.2 L1287.2 472.8 L1287.5 472.5 L1287.7 472.2 L1288.0 471.9 L1288.3 471.7 L1288.6 471.6 L1288.9 471.5 L1289.2 471.5 L1289.5 471.5 L1289.8 471.7 L1290.1 472.0 L1290.4 472.3 L1290.7 472.8 L1291.0 473.4 L1291.3 474.0 L1291.6 474.8 L1291.9 475.7 L1292.2 476.6 L1292.5 477.7 L1292.8 478.8 L1293.1 480.1 L1293.4 481.4 L1293.7 482.8 L1294.0 484.2 L1294.3 485.8 L1294.6 487.4 L1294.9 489.1 L1295.2 490.8 L1295.5 492.6 L1295.8 494.5 L1296.1 496.4 L1296.4 498.4 L1296.7 500.4 L1297.0 502.4 L1297.3 504.4 L1297.6 506.5 L1297.9 508.6 L1298.2 510.8 L1298.5 512.9 L1298.8 515.0 L1299.1 517.2 L1299.4 519.3 L1299.6 521.4 L1299.9 523.5 L1300.2 525.6 L1300.5 527.7 L1300.8 529.7 L1301.1 531.7 L1301.4 533.6 L1301.7 535.6 L1302.0 537.4 L1302.3 539.2 L1302.6 541.0 L1302.9 542.7 L1303.2 544.3 L1303.5 545.8 L1303.8 547.3 L1304.1 548.7 L1304.4 550.0 L1304.7 551.2 L1305.0 552.4 L1305.3 553.4 L1305.6 554.4 L1305.9 555.3 L1306.2 556.0 L1306.5 556.7 L1306.8 557.3 L1307.1 557.7 L1307.4 558.1 L1307.7 558.4 L1308.0 558.5 L1308.3 558.6 L1308.6 558.5 L1308.9 558.4 L1309.2 558.2 L1309.5 557.9 L1309.8 557.5 L1310.1 557.1 L1310.4 556.5 L1310.7 555.9 L1311.0 555.2 L1311.2 554.5 L1311.5 553.6 L1311.8 552.7 L1312.1 551.7 L1312.4 550.6 L1312.7 549.5 L1313.0 548.2 L1313.3 546.9 L1313.6 545.6 L1313.9 544.2 L1314.2 542.7 L1314.5 541.2 L1314.8 539.6 L1315.1 537.9 L1315.4 536.2 L1315.7 534.5 L1316.0 532.7 L1316.3 530.8 L1316.6 528.9 L1316.9 527.0 L1317.2 525.0 L1317.5 523.0 L1317.8 521.0 L1318.1 518.9 L1318.4 516.8 L1318.7 514.7 L1319.0 512.6 L1319.3 510.5 L1319.6 508.3 L1319.9 506.1 L1320.2 504.0 L1320.5 501.8 L1320.8 499.6 L1321.1 497.4 L1321.4 495.3 L1321.7 493.1 L1322.0 491.0 L1322.3 488.9 L1322.6 486.7 L1322.9 484.7 L1323.2 482.6 L1323.4 480.6 L1323.7 478.6 L1324.0 476.6 L1324.3 474.7 L1324.6 472.8 L1324.9 470.9 L1325.2 469.1 L1325.5 467.4 L1325.8 465.7 L1326.1 464.0 L1326.4 462.4 L1326.7 460.9 L1327.0 459.4 L1327.3 458.0 L1327.6 456.6 L1327.9 455.4 L1328.2 454.1 L1328.5 453.0 L1328.8 451.9 L1329.1 450.9 L1329.4 450.0 L1329.7 449.1 L1330.0 448.4 L1330.3 447.7 L1330.6 447.1 L1330.9 446.5 L1331.2 446.1 L1331.5 445.7 L1331.8 445.4 L1332.1 445.2 L1332.4 445.1 L1332.7 445.0 L1333.0 445.1 L1333.3 445.2 L1333.6 445.4 L1333.9 445.7 L1334.2 446.1 L1334.5 446.6 L1334.8 447.1 L1335.1 447.8 L1335.3 448.5 L1335.6 449.3 L1335.9 450.2 L1336.2 451.2 L1336.5 452.2 L1336.8 453.3 L1337.1 454.5 L1337.4 455.8 L1337.7 457.1 L1338.0 458.5 L1338.3 460.0 L1338.6 461.5 L1338.9 463.1 L1339.2 464.7 L1339.5 466.4 L1339.8 468.2 L1340.1 470.0 L1340.4 471.9 L1340.7 473.8 L1341.0 475.7" fill="none" stroke="#0c86d2" stroke-width="3.6" stroke-linejoin="round"/>
<path d="M150.3 91.5h4.6V944.0h-4.6zM156.0 908.6h3.2V944.0h-3.2zM159.6 873.1h3.2V925.1h-3.2zM163.1 813.7h3.2V885.0h-3.2zM166.7 752.5h3.2V849.5h-3.2zM170.2 654.0h3.2V807.6h-3.2zM173.7 537.9h4.8V742.0h-4.8zM178.9 516.1h3.2V736.9h-3.2zM181.3 489.4h4.1V628.5h-4.1zM185.8 417.4h4.1V636.4h-4.1zM189.1 398.1h5.2V595.6h-5.2zM194.7 414.6h3.6V538.2h-3.6zM198.7 286.8h3.3V560.4h-3.3zM201.2 269.7h5.0V535.9h-5.0zM205.5 287.6h4.2V531.0h-4.2zM208.9 262.0h4.6V594.9h-4.6zM212.6 299.2h3.2V614.0h-3.2zM215.1 337.2h5.0V666.5h-5.0zM220.4 537.4h4.5V730.2h-4.5zM224.1 529.9h4.2V796.9h-4.2zM228.7 578.1h4.4V754.7h-4.4zM232.3 563.8h3.5V819.3h-3.5zM235.0 560.8h5.2V757.4h-5.2zM239.4 574.9h4.6V773.2h-4.6zM243.1 491.5h3.7V722.3h-3.7zM246.0 524.1h3.6V652.8h-3.6zM248.8 408.3h4.9V580.4h-4.9zM253.0 437.9h5.1V598.8h-5.1zM257.3 359.1h3.5V495.4h-3.5zM260.0 333.7h3.6V473.8h-3.6zM262.7 323.5h4.3V465.4h-4.3zM266.3 287.2h3.3V551.6h-3.3zM268.7 317.1h4.3V494.2h-4.3zM272.2 299.9h3.9V537.0h-3.9zM275.4 312.5h5.1V624.8h-5.1zM279.7 367.9h4.9V605.8h-4.9zM283.9 395.6h4.6V612.8h-4.6zM289.8 446.8h5.0V597.2h-5.0zM294.0 482.6h3.2V619.4h-3.2zM296.5 384.1h4.0V558.2h-4.0zM300.9 361.8h4.5V551.5h-4.5zM304.5 410.1h3.7V590.8h-3.7zM308.6 343.8h3.6V614.4h-3.6zM311.4 358.9h3.9V508.9h-3.9zM314.4 429.4h4.1V608.6h-4.1zM317.7 325.4h5.0V582.0h-5.0zM324.1 332.2h4.1V543.8h-4.1zM329.6 434.5h3.3V601.6h-3.3zM334.3 383.7h5.1V605.2h-5.1zM339.8 437.4h4.6V566.6h-4.6zM343.6 506.5h3.9V597.6h-3.9zM346.7 428.8h3.6V629.7h-3.6zM349.5 480.9h3.4V555.2h-3.4zM353.4 428.0h4.5V598.0h-4.5zM357.1 470.9h4.1V601.9h-4.1zM360.4 356.8h3.3V563.3h-3.3zM362.9 407.2h4.8V580.9h-4.8zM369.2 410.0h4.8V583.7h-4.8zM374.4 328.9h5.0V491.9h-5.0zM378.6 299.0h3.7V581.4h-3.7zM381.5 306.8h4.3V575.4h-4.3zM385.0 310.0h4.6V544.7h-4.6zM388.8 322.8h5.1V584.4h-5.1zM395.3 370.7h4.4V515.6h-4.4zM398.9 362.1h3.3V583.4h-3.3zM401.4 411.8h3.3V491.2h-3.3zM405.1 342.1h3.4V577.1h-3.4zM407.7 367.2h2.3V498.0h-2.3zM409.7 373.7h2.2V490.4h-2.2zM413.2 376.4h2.8V465.5h-2.8zM415.7 348.8h2.2V468.3h-2.2zM417.6 353.3h2.4V457.9h-2.4zM420.9 358.4h2.7V445.3h-2.7zM423.3 373.2h2.2V460.6h-2.2zM425.2 359.3h2.3V474.5h-2.3zM427.2 402.3h2.1V469.3h-2.1zM429.0 363.4h2.2V490.3h-2.2zM430.9 367.3h2.7V500.5h-2.7zM433.3 428.5h2.5V515.4h-2.5zM435.6 434.3h2.9V541.7h-2.9zM438.1 416.2h3.0V537.1h-3.0zM440.8 435.5h2.2V544.2h-2.2zM442.7 429.0h2.4V558.2h-2.4zM444.8 430.6h2.7V551.9h-2.7zM447.3 472.7h2.8V537.6h-2.8zM449.7 399.6h2.1V547.6h-2.1zM451.6 462.9h2.4V528.4h-2.4zM453.7 455.9h2.1V523.7h-2.1zM455.5 359.6h2.5V522.7h-2.5zM457.6 406.8h2.4V508.7h-2.4zM459.7 375.7h2.2V487.1h-2.2zM461.6 372.2h2.5V490.3h-2.5zM463.8 387.7h2.8V472.6h-2.8zM468.3 404.7h2.2V469.9h-2.2zM470.2 388.1h2.0V487.1h-2.0zM472.0 376.2h2.9V489.6h-2.9zM474.5 419.5h2.7V502.6h-2.7zM476.9 433.3h2.9V520.5h-2.9zM479.5 430.4h2.1V524.2h-2.1zM481.3 399.2h2.7V543.1h-2.7zM483.7 443.5h2.8V560.0h-2.8zM486.3 487.9h2.1V558.3h-2.1zM488.0 454.8h2.7V566.2h-2.7zM490.5 480.3h2.9V574.9h-2.9zM493.1 491.8h2.6V571.4h-2.6zM495.4 473.1h2.8V556.9h-2.8zM497.8 434.4h2.8V546.2h-2.8zM500.3 430.6h2.7V535.6h-2.7zM502.8 364.9h2.8V517.0h-2.8zM505.3 364.3h2.0V496.4h-2.0zM507.1 394.4h2.7V479.2h-2.7zM509.4 389.9h2.4V454.6h-2.4zM511.6 362.0h2.9V444.4h-2.9zM514.2 347.8h2.7V449.5h-2.7zM516.6 345.3h2.4V434.6h-2.4zM518.7 354.4h2.4V446.2h-2.4zM520.8 345.8h2.1V450.9h-2.1zM524.2 372.2h2.6V483.0h-2.6zM526.5 348.0h2.6V503.8h-2.6zM528.8 389.7h2.1V513.2h-2.1zM530.6 429.6h2.3V521.4h-2.3zM532.6 456.0h2.8V537.1h-2.8zM535.1 454.5h2.1V551.8h-2.1zM536.9 492.9h2.3V548.6h-2.3zM538.9 505.9h2.0V560.6h-2.0zM540.6 491.5h2.6V561.3h-2.6zM543.0 499.0h2.9V556.4h-2.9zM545.5 427.4h2.2V545.4h-2.2zM547.5 397.7h2.8V538.6h-2.8zM550.0 419.7h2.6V524.6h-2.6zM552.3 420.2h2.7V515.4h-2.7zM554.7 411.1h2.1V510.4h-2.1zM556.5 369.1h2.3V485.6h-2.3zM558.4 392.7h2.8V487.4h-2.8zM560.9 405.0h2.3V465.0h-2.3zM564.7 408.8h2.5V478.6h-2.5zM568.0 397.9h2.6V480.1h-2.6zM570.3 388.6h2.8V481.0h-2.8zM572.8 369.7h2.4V498.9h-2.4zM574.9 394.5h2.3V496.9h-2.3zM576.9 441.5h2.1V506.8h-2.1zM580.0 445.5h2.7V502.2h-2.7zM582.4 440.9h2.1V505.1h-2.1zM585.8 420.1h2.9V522.0h-2.9zM588.3 430.6h2.3V506.7h-2.3zM590.3 435.6h2.0V513.2h-2.0zM592.0 424.1h2.6V506.7h-2.6zM594.3 431.5h2.8V505.7h-2.8zM596.8 432.9h2.6V497.6h-2.6zM599.1 414.2h2.3V503.1h-2.3zM601.1 416.1h2.8V491.2h-2.8zM603.6 406.5h2.9V507.6h-2.9zM606.2 397.9h2.1V507.4h-2.1zM608.0 338.6h2.1V507.3h-2.1zM611.6 372.7h2.8V523.9h-2.8zM614.1 431.7h2.5V527.1h-2.5zM617.4 420.3h2.5V531.5h-2.5zM620.7 413.0h2.3V536.4h-2.3zM622.7 462.3h2.3V532.2h-2.3zM624.7 426.9h2.9V543.5h-2.9zM627.3 388.2h2.7V543.9h-2.7zM630.9 421.3h2.0V524.2h-2.0zM632.7 410.0h2.6V522.7h-2.6zM634.9 387.6h2.4V513.6h-2.4zM637.0 436.1h2.9V501.7h-2.9zM639.7 436.8h2.4V500.4h-2.4zM643.5 418.6h2.7V477.4h-2.7zM645.9 411.3h2.8V478.6h-2.8zM648.4 423.6h2.7V467.6h-2.7zM652.0 406.7h2.3V482.6h-2.3zM654.0 436.9h2.1V478.5h-2.1zM655.8 376.5h2.3V495.8h-2.3zM659.2 470.1h2.7V524.5h-2.7zM663.1 498.7h2.2V544.9h-2.2zM665.0 507.9h2.2V547.7h-2.2zM666.9 510.1h2.6V568.0h-2.6zM669.2 521.6h2.1V562.1h-2.1zM671.0 485.4h2.3V573.5h-2.3zM673.1 487.8h2.1V570.3h-2.1zM674.9 442.0h2.5V573.5h-2.5zM678.7 484.1h2.8V553.8h-2.8zM681.2 452.1h2.2V533.5h-2.2zM683.1 411.4h2.4V534.2h-2.4zM685.3 367.2h2.3V518.9h-2.3zM688.2 414.3h2.6V505.2h-2.6zM690.4 420.8h2.9V491.6h-2.9zM693.1 423.0h2.7V472.6h-2.7zM697.1 404.6h2.5V463.4h-2.5zM699.3 428.0h2.1V483.3h-2.1zM701.1 428.1h2.3V486.2h-2.3zM703.1 421.7h2.5V496.2h-2.5zM705.2 361.3h2.3V514.9h-2.3zM707.3 432.5h2.4V533.4h-2.4zM709.4 395.1h2.7V535.3h-2.7zM711.7 421.2h3.0V559.3h-3.0zM714.4 481.9h2.2V556.2h-2.2zM718.1 473.1h2.1V565.3h-2.1zM719.9 459.8h2.4V554.5h-2.4zM722.0 453.2h2.5V538.7h-2.5zM724.2 392.8h2.4V535.8h-2.4zM727.2 381.7h2.0V521.6h-2.0zM729.0 423.9h2.1V507.4h-2.1zM732.5 399.2h2.6V492.4h-2.6zM734.8 395.5h2.4V474.9h-2.4zM736.9 351.2h2.3V459.3h-2.3zM738.8 355.3h2.2V463.4h-2.2zM740.7 347.7h2.5V474.4h-2.5zM742.9 393.9h2.9V471.9h-2.9zM745.5 389.7h2.5V499.6h-2.5zM747.7 347.6h2.6V498.3h-2.6zM750.0 424.9h2.4V507.4h-2.4zM752.1 382.0h2.8V532.4h-2.8zM756.3 460.9h2.1V540.3h-2.1zM758.1 397.0h2.1V541.3h-2.1zM759.9 393.9h2.9V541.3h-2.9zM762.4 446.3h2.7V548.2h-2.7zM764.9 440.7h2.9V546.8h-2.9zM767.5 400.9h2.5V523.1h-2.5zM771.1 396.7h2.6V516.8h-2.6zM773.4 373.6h3.0V496.7h-3.0zM776.0 349.4h2.5V470.1h-2.5zM778.2 344.6h2.3V455.5h-2.3zM781.9 349.4h3.0V434.6h-3.0zM784.6 346.4h2.1V431.8h-2.1zM786.4 344.9h2.8V434.1h-2.8zM788.9 348.3h2.5V424.8h-2.5zM791.1 349.6h2.9V454.3h-2.9zM793.7 348.4h2.9V459.7h-2.9zM797.6 373.6h2.8V510.7h-2.8zM800.1 416.2h2.9V521.0h-2.9zM802.6 430.1h2.4V536.2h-2.4zM804.7 464.5h3.0V556.1h-3.0zM809.3 468.5h2.0V568.4h-2.0zM811.0 500.4h2.1V575.4h-2.1zM812.8 499.0h2.6V584.1h-2.6zM816.6 458.2h2.9V570.7h-2.9zM819.2 441.5h2.7V551.5h-2.7zM821.7 412.3h2.8V536.4h-2.8zM824.1 363.9h2.7V512.9h-2.7zM826.5 406.9h2.5V497.9h-2.5zM828.7 399.0h2.8V474.9h-2.8zM831.2 372.3h2.6V473.8h-2.6zM833.5 367.4h2.7V468.6h-2.7zM835.9 355.1h2.3V478.4h-2.3zM839.6 374.0h2.7V496.8h-2.7zM841.9 402.7h2.6V505.0h-2.6zM844.3 386.4h2.4V521.8h-2.4zM846.3 416.5h2.1V517.7h-2.1zM848.1 386.2h2.5V532.3h-2.5zM850.3 410.0h2.7V545.4h-2.7zM852.6 437.9h2.5V554.8h-2.5zM854.8 429.9h2.4V561.4h-2.4zM856.9 476.0h2.4V556.5h-2.4zM859.0 442.9h3.0V558.8h-3.0zM861.7 439.5h2.3V549.8h-2.3zM863.6 422.5h3.0V549.3h-3.0zM866.3 437.4h2.2V542.7h-2.2zM868.3 441.4h2.0V526.2h-2.0zM870.0 433.4h2.7V519.9h-2.7zM872.3 426.6h2.1V505.2h-2.1zM874.1 419.6h2.8V491.3h-2.8zM876.7 387.6h2.7V476.0h-2.7zM879.1 386.8h2.3V481.6h-2.3zM881.1 348.8h2.7V472.6h-2.7zM883.5 401.3h2.4V472.9h-2.4zM885.6 400.7h2.8V491.7h-2.8zM888.1 416.9h2.3V490.9h-2.3zM890.1 402.5h3.0V507.0h-3.0zM892.7 443.4h2.1V525.5h-2.1zM894.5 427.9h2.7V540.4h-2.7zM898.9 442.8h2.2V553.5h-2.2zM902.4 460.2h2.8V549.4h-2.8zM904.9 446.5h2.8V557.4h-2.8zM908.5 421.8h3.0V539.1h-3.0zM911.1 451.0h2.4V538.5h-2.4zM914.4 389.2h2.7V517.5h-2.7zM916.8 353.1h2.3V504.2h-2.3zM919.9 401.0h2.9V493.8h-2.9zM922.5 398.1h2.3V493.2h-2.3zM924.6 377.2h2.4V478.4h-2.4zM926.6 407.3h2.7V487.1h-2.7zM929.0 397.3h2.5V500.0h-2.5zM931.3 386.8h2.4V503.4h-2.4zM934.3 411.4h2.5V515.2h-2.5zM936.5 411.8h2.8V528.8h-2.8zM939.1 370.9h2.9V530.0h-2.9zM941.6 429.3h2.3V541.6h-2.3zM943.6 434.1h2.2V546.8h-2.2zM945.4 443.5h2.7V542.3h-2.7zM949.7 439.8h2.1V546.5h-2.1zM952.5 401.6h2.9V528.6h-2.9zM955.1 403.8h2.5V519.9h-2.5zM957.3 395.5h2.4V496.6h-2.4zM959.4 380.8h2.6V477.9h-2.6zM961.7 336.7h2.7V455.1h-2.7zM964.1 348.4h2.2V441.1h-2.2zM967.3 349.4h2.7V430.0h-2.7zM969.6 358.0h2.0V444.1h-2.0zM971.4 351.3h2.3V443.3h-2.3zM973.4 394.2h2.7V455.1h-2.7zM975.8 384.1h2.4V472.9h-2.4zM978.0 399.6h2.8V492.1h-2.8zM980.5 396.2h3.0V513.6h-3.0zM985.0 446.5h2.2V533.5h-2.2zM986.9 469.0h2.8V538.1h-2.8zM989.4 415.5h2.4V546.3h-2.4zM991.4 472.2h3.0V550.1h-3.0zM994.1 431.7h2.8V550.4h-2.8zM996.7 451.9h2.7V531.1h-2.7zM999.1 414.7h2.5V519.5h-2.5zM1001.3 419.8h2.4V516.6h-2.4zM1003.4 390.3h2.1V500.8h-2.1zM1005.2 335.3h2.5V479.6h-2.5zM1007.4 349.6h2.4V474.8h-2.4zM1009.5 346.4h2.6V465.2h-2.6zM1011.8 373.3h2.9V467.2h-2.9zM1014.4 387.9h2.8V475.4h-2.8zM1018.9 410.4h2.3V504.1h-2.3zM1022.8 389.8h2.4V526.6h-2.4zM1024.9 399.9h2.6V554.7h-2.6zM1027.2 465.7h2.9V565.9h-2.9zM1029.8 481.2h2.3V583.9h-2.3zM1031.8 485.6h2.5V574.1h-2.5zM1034.0 477.6h2.9V576.3h-2.9zM1036.6 480.6h2.3V584.0h-2.3zM1038.6 439.0h2.9V579.4h-2.9zM1041.2 427.9h3.0V567.8h-3.0zM1043.8 401.9h2.1V543.2h-2.1zM1045.7 420.4h3.0V537.7h-3.0zM1049.7 350.8h2.8V509.3h-2.8zM1052.1 388.4h2.9V476.0h-2.9zM1054.7 358.9h2.8V457.2h-2.8zM1057.2 349.4h2.5V447.4h-2.5zM1059.5 349.4h2.0V434.0h-2.0zM1061.2 349.6h2.7V436.8h-2.7zM1063.6 334.6h2.9V458.5h-2.9zM1066.2 363.7h2.3V477.1h-2.3zM1070.0 396.5h2.6V506.5h-2.6zM1072.2 360.1h2.4V521.0h-2.4zM1074.4 415.8h2.1V529.1h-2.1zM1076.2 441.9h2.6V547.2h-2.6zM1078.5 459.7h2.6V565.3h-2.6zM1080.8 418.8h2.8V568.9h-2.8zM1083.4 483.2h2.8V576.8h-2.8zM1087.0 446.2h2.9V574.1h-2.9zM1089.5 416.6h2.7V552.6h-2.7zM1091.9 397.8h2.4V540.6h-2.4zM1094.0 436.6h2.2V525.7h-2.2zM1095.8 418.3h2.8V511.5h-2.8zM1098.3 391.3h2.9V496.6h-2.9zM1100.8 388.6h2.2V484.5h-2.2zM1102.8 341.8h2.7V458.1h-2.7zM1105.1 378.8h2.8V461.3h-2.8zM1107.6 349.7h2.8V458.9h-2.8zM1110.1 389.9h2.3V453.2h-2.3zM1112.1 387.2h2.8V475.6h-2.8zM1115.4 357.0h2.5V485.1h-2.5zM1117.6 422.2h2.6V513.3h-2.6zM1119.9 380.7h2.8V536.8h-2.8zM1122.4 417.2h2.5V537.3h-2.5zM1124.7 445.1h2.4V562.2h-2.4zM1126.7 386.3h2.1V570.7h-2.1zM1128.6 436.8h2.2V568.1h-2.2zM1130.5 478.1h2.6V570.0h-2.6zM1132.7 465.0h2.0V562.3h-2.0zM1136.1 472.1h2.3V555.3h-2.3zM1139.7 431.5h2.2V542.2h-2.2zM1141.6 430.7h2.2V533.2h-2.2zM1143.5 404.1h2.1V522.7h-2.1zM1145.3 372.4h2.5V513.2h-2.5zM1147.5 380.9h2.3V498.1h-2.3zM1149.6 393.9h2.9V499.9h-2.9zM1152.1 376.6h2.0V479.6h-2.0zM1153.9 345.4h2.3V481.2h-2.3zM1155.9 381.3h2.1V477.6h-2.1zM1157.7 409.5h2.5V485.8h-2.5zM1160.0 423.2h2.2V505.5h-2.2zM1161.9 438.6h2.7V506.2h-2.7zM1164.3 445.2h2.6V513.7h-2.6zM1166.7 432.4h2.3V510.4h-2.3zM1168.6 378.7h2.4V514.5h-2.4zM1170.7 357.8h2.8V516.4h-2.8zM1173.2 420.5h2.5V507.6h-2.5zM1175.5 375.7h2.2V506.4h-2.2zM1177.4 389.6h3.0V498.1h-3.0zM1181.0 387.3h2.8V483.8h-2.8zM1183.5 339.9h2.9V489.4h-2.9zM1186.1 372.5h2.5V474.5h-2.5zM1188.4 372.1h2.8V472.9h-2.8zM1190.8 364.2h2.2V471.4h-2.2zM1194.1 330.2h2.0V466.4h-2.0zM1195.9 385.4h2.8V467.7h-2.8zM1198.4 332.6h2.4V480.9h-2.4zM1200.5 368.0h2.5V477.6h-2.5zM1202.7 349.7h2.0V493.6h-2.0zM1204.4 401.5h2.4V497.5h-2.4zM1206.6 373.1h2.5V501.7h-2.5zM1208.7 378.2h2.9V521.1h-2.9zM1211.4 463.0h2.5V541.4h-2.5zM1214.9 468.7h2.9V556.0h-2.9zM1217.4 445.1h3.0V563.2h-3.0zM1220.1 444.5h2.1V564.1h-2.1zM1221.9 448.4h2.5V563.7h-2.5zM1224.1 445.9h2.5V563.8h-2.5zM1226.3 416.9h2.7V555.4h-2.7zM1228.7 411.3h3.0V551.3h-3.0zM1231.4 438.0h2.0V533.8h-2.0zM1233.1 348.2h2.3V523.0h-2.3zM1235.2 411.4h2.8V510.5h-2.8zM1237.7 396.9h2.9V491.1h-2.9zM1240.3 345.8h2.2V476.2h-2.2zM1242.2 414.1h2.3V481.3h-2.3zM1245.0 382.8h2.3V485.3h-2.3zM1247.0 360.2h2.7V487.4h-2.7zM1249.4 368.1h2.3V507.9h-2.3zM1251.3 359.9h2.2V513.4h-2.2zM1253.3 393.1h2.3V507.4h-2.3zM1255.2 443.9h2.7V528.6h-2.7zM1257.7 407.6h2.9V529.1h-2.9zM1260.2 415.4h3.0V538.9h-3.0zM1262.9 447.0h2.7V541.9h-2.7zM1265.3 409.3h2.8V536.1h-2.8zM1267.8 446.7h2.9V539.6h-2.9zM1270.4 417.1h2.4V538.9h-2.4zM1272.5 405.3h2.3V533.0h-2.3zM1274.5 433.4h2.4V519.5h-2.4zM1276.6 383.0h2.5V518.9h-2.5zM1278.8 400.0h2.1V503.2h-2.1zM1280.7 397.3h2.1V487.4h-2.1zM1282.5 376.7h2.7V481.0h-2.7zM1284.9 408.1h2.7V472.5h-2.7zM1287.3 409.0h2.4V474.1h-2.4zM1289.4 411.3h2.7V474.3h-2.7zM1291.8 409.2h2.0V479.8h-2.0zM1293.5 379.8h2.4V491.3h-2.4zM1295.6 398.3h2.9V506.6h-2.9zM1298.2 422.5h2.4V532.5h-2.4zM1300.3 449.8h2.0V543.0h-2.0zM1302.1 479.2h2.7V550.9h-2.7zM1304.4 419.8h2.2V567.8h-2.2zM1306.3 481.5h2.6V552.8h-2.6zM1308.6 454.9h2.7V564.8h-2.7zM1311.0 448.6h2.0V564.2h-2.0zM1312.7 423.6h2.1V544.2h-2.1zM1314.5 436.8h2.2V540.2h-2.2zM1316.4 452.6h2.2V525.8h-2.2zM1318.3 383.7h2.6V512.3h-2.6zM1320.6 428.3h2.1V494.3h-2.1zM1322.5 426.1h2.2V490.9h-2.2zM1324.4 360.1h2.3V482.5h-2.3zM1326.4 390.2h2.6V470.6h-2.6zM1328.6 349.4h2.6V446.6h-2.6zM1330.9 344.9h2.8V447.4h-2.8zM1334.5 371.8h2.4V456.8h-2.4zM1337.4 341.9h2.3V470.6h-2.3z" fill="#f85218"/>
<line x1="152.5" y1="455.9" x2="1339.0" y2="455.9" stroke="#ffa500" stroke-width="3.4"/>
<line x1="152.5" y1="944.0" x2="1341.0" y2="944.0" stroke="#262626" stroke-width="3.2"/>
<line x1="152.5" y1="91.5" x2="161.5" y2="91.5" stroke="#262626" stroke-width="3"/>
<line x1="152.5" y1="210.3" x2="161.5" y2="210.3" stroke="#262626" stroke-width="3"/>
<line x1="152.5" y1="332.4" x2="161.5" y2="332.4" stroke="#262626" stroke-width="3"/>
<line x1="152.5" y1="455.9" x2="161.5" y2="455.9" stroke="#262626" stroke-width="3"/>
<line x1="152.5" y1="579.6" x2="161.5" y2="579.6" stroke="#262626" stroke-width="3"/>
<line x1="152.5" y1="703.6" x2="161.5" y2="703.6" stroke="#262626" stroke-width="3"/>
<line x1="152.5" y1="825.9" x2="161.5" y2="825.9" stroke="#262626" stroke-width="3"/>
<line x1="447.5" y1="944.0" x2="447.5" y2="935.0" stroke="#262626" stroke-width="3"/>
<line x1="744.5" y1="944.0" x2="744.5" y2="935.0" stroke="#262626" stroke-width="3"/>
<line x1="1043.5" y1="944.0" x2="1043.5" y2="935.0" stroke="#262626" stroke-width="3"/>
<line x1="1341.0" y1="944.0" x2="1341.0" y2="935.0" stroke="#262626" stroke-width="3"/>
<text transform="translate(80.39,111.40) scale(0.9121,1)" font-family="Liberation Sans" font-weight="normal" font-size="49.58" style="font-kerning:none" fill="#262626" stroke="#262626" stroke-width="0.90" stroke-linejoin="round">30</text>
<text transform="translate(80.62,233.60) scale(0.9121,1)" font-family="Liberation Sans" font-weight="normal" font-size="49.58" style="font-kerning:none" fill="#262626" stroke="#262626" stroke-width="0.90" stroke-linejoin="round">25</text>
<text transform="translate(80.39,356.90) scale(0.9121,1)" font-family="Liberation Sans" font-weight="normal" font-size="49.58" style="font-kerning:none" fill="#262626" stroke="#262626" stroke-width="0.90" stroke-linejoin="round">20</text>
<g transform="translate(80.62,479.56) scale(0.9121,1)"><text font-family="Liberation Sans" font-size="49.58" style="font-kerning:none" fill="#262626" stroke="#262626" stroke-width="0.90" stroke-linejoin="round"> 5</text><path transform="translate(0.000,0) scale(0.02421,-0.02421)" d="M515 0V1237L197 1010V1180L530 1409H696V0Z" fill="#262626" stroke="#262626" stroke-width="37.2" stroke-linejoin="round"/></g>
<g transform="translate(80.39,600.60) scale(0.9121,1)"><text font-family="Liberation Sans" font-size="49.58" style="font-kerning:none" fill="#262626" stroke="#262626" stroke-width="0.90" stroke-linejoin="round"> 0</text><path transform="translate(0.000,0) scale(0.02421,-0.02421)" d="M515 0V1237L197 1010V1180L530 1409H696V0Z" fill="#262626" stroke="#262626" stroke-width="37.2" stroke-linejoin="round"/></g>
<text transform="translate(105.71,722.86) scale(0.9121,1)" font-family="Liberation Sans" font-weight="normal" font-size="49.58" style="font-kerning:none" fill="#262626" stroke="#262626" stroke-width="0.90" stroke-linejoin="round">5</text>
<text transform="translate(105.49,846.10) scale(0.9121,1)" font-family="Liberation Sans" font-weight="normal" font-size="49.58" style="font-kerning:none" fill="#262626" stroke="#262626" stroke-width="0.90" stroke-linejoin="round">0</text>
<text transform="translate(105.71,968.46) scale(0.9121,1)" font-family="Liberation Sans" font-weight="normal" font-size="49.58" style="font-kerning:none" fill="#262626" stroke="#262626" stroke-width="0.90" stroke-linejoin="round">5</text>
<rect x="86.5" y="954.4" width="12.8" height="3.8" fill="#262626"/>
<text transform="translate(136.37,1016.38) scale(0.9922,1)" font-family="Liberation Sans" font-weight="normal" font-size="46.90" style="font-kerning:none" fill="#262626" stroke="#262626" stroke-width="0.90" stroke-linejoin="round">0</text>
<text transform="translate(434.09,1016.15) scale(0.9922,1)" font-family="Liberation Sans" font-weight="normal" font-size="46.90" style="font-kerning:none" fill="#262626" stroke="#262626" stroke-width="0.90" stroke-linejoin="round">5</text>
<g transform="translate(719.84,1016.38) scale(0.9922,1)"><text font-family="Liberation Sans" font-size="46.90" style="font-kerning:none" fill="#262626" stroke="#262626" stroke-width="0.90" stroke-linejoin="round"> 0</text><path transform="translate(0.000,0) scale(0.02290,-0.02290)" d="M515 0V1237L197 1010V1180L530 1409H696V0Z" fill="#262626" stroke="#262626" stroke-width="39.3" stroke-linejoin="round"/></g>
<g transform="translate(1014.96,1016.15) scale(0.9922,1)"><text font-family="Liberation Sans" font-size="46.90" style="font-kerning:none" fill="#262626" stroke="#262626" stroke-width="0.90" stroke-linejoin="round"> 5</text><path transform="translate(0.000,0) scale(0.02290,-0.02290)" d="M515 0V1237L197 1010V1180L530 1409H696V0Z" fill="#262626" stroke="#262626" stroke-width="39.3" stroke-linejoin="round"/></g>
<text transform="translate(1312.72,1016.38) scale(0.9922,1)" font-family="Liberation Sans" font-weight="normal" font-size="46.90" style="font-kerning:none" fill="#262626" stroke="#262626" stroke-width="0.90" stroke-linejoin="round">20</text>
<text transform="translate(433.42,72.66) scale(0.9493,1)" font-family="Liberation Serif" font-weight="normal" font-size="55.54" fill="#141414" stroke="#141414" stroke-width="0.84" stroke-linejoin="round" >Reference tracking by LQG</text>
<text transform="translate(660.54,1062.20) scale(0.9806,1)" font-family="Liberation Serif" font-weight="normal" font-size="53.96" fill="#141414" stroke="#141414" stroke-width="0.82" stroke-linejoin="round" >Time (s)</text>
<text transform="translate(57.95,667.56) rotate(-90) scale(1.0489,1)" font-family="Liberation Serif" font-weight="normal" font-size="53.74" fill="#141414" stroke="#141414" stroke-width="0.80" stroke-linejoin="round" >Velocity (rd/s)</text>
<rect x="893.1" y="119.4" width="401.8" height="205.1" fill="#fff" stroke="#262626" stroke-width="3"/>
<line x1="921.5" y1="157.4" x2="1062.5" y2="157.4" stroke="#0070c6" stroke-width="4.2" stroke-linecap="round"/>
<line x1="921.5" y1="220.9" x2="1062.5" y2="220.9" stroke="#ff6a3a" stroke-width="4.2" stroke-linecap="round"/>
<line x1="921.5" y1="283.7" x2="1062.5" y2="283.7" stroke="#ffbd3a" stroke-width="4.2" stroke-linecap="round"/>
<text transform="translate(1080.37,166.24) scale(0.9114,1)" font-family="Liberation Serif" font-weight="bold" font-size="45.96" fill="#141414" stroke="#141414" stroke-width="0.33" stroke-linejoin="round" >Real</text>
<text transform="translate(1076.96,233.81) scale(0.8638,1)" font-family="Liberation Serif" font-weight="bold" font-size="49.08" fill="#141414" stroke="#141414" stroke-width="0.35" stroke-linejoin="round" >Estimation</text>
<text transform="translate(1074.75,297.02) scale(0.8997,1)" font-family="Liberation Serif" font-weight="bold" font-size="48.25" fill="#141414" stroke="#141414" stroke-width="0.33" stroke-linejoin="round" >Reference</text>
<text transform="translate(1032.21,566.58) scale(1.1046,1)" font-family="Liberation Serif" font-weight="normal" font-size="46.15" fill="#1a1a1a" >(</text>
<text transform="translate(1121.00,565.81) scale(1.1098,1)" font-family="Liberation Serif" font-weight="normal" font-size="45.05" fill="#1a1a1a" >)</text>
<rect x="753.2" y="610.0" width="533.3" height="275.0" fill="#fff"/>
<line x1="753.2" y1="637.0" x2="1286.5" y2="637.0" stroke="#dcdcdc" stroke-width="2.2"/>
<line x1="753.2" y1="692.7" x2="1286.5" y2="692.7" stroke="#dcdcdc" stroke-width="2.2"/>
<line x1="753.2" y1="748.4" x2="1286.5" y2="748.4" stroke="#dcdcdc" stroke-width="2.2"/>
<line x1="753.2" y1="804.1" x2="1286.5" y2="804.1" stroke="#dcdcdc" stroke-width="2.2"/>
<line x1="753.2" y1="859.8" x2="1286.5" y2="859.8" stroke="#dcdcdc" stroke-width="2.2"/>
<line x1="1019.9" y1="610.0" x2="1019.9" y2="885.0" stroke="#dcdcdc" stroke-width="2.2"/>
<path d="M773.5 610.0 H775.9 V614.5 H778.3 V622.2 H780.7 V636.1 H783.1 V610.0 H785.5 V610.0 H787.9 V610.0 H790.3 V610.0 H792.7 V610.0 H795.1 V610.0 H797.5 V649.7 H799.9 V708.3 H802.3 V785.0 H804.7 V839.2 H807.1 V844.5 H809.5 V811.8 H811.9 V756.4 H814.3 V698.5 H816.7 V659.4 H819.1 V653.8 H821.5 V689.7 H823.9 V753.6 H826.3 V817.4 H828.7 V853.3 H831.1 V844.2 H833.5 V789.8 H835.9 V717.3 H838.3 V662.9 H840.7 V652.8 H843.1 V676.2 H845.5 V720.2 H847.9 V770.5 H850.3 V811.0 H852.7 V828.4 H855.1 V810.9 H857.5 V760.7 H859.9 V710.4 H862.3 V692.9 H864.7 V707.6 H867.1 V740.6 H869.5 V778.8 H871.9 V807.0 H874.3 V813.7 H876.7 V793.5 H879.1 V755.2 H881.5 V718.0 H883.9 V700.7 H886.3 V708.9 H888.7 V734.1 H891.1 V763.6 H893.5 V782.4 H895.9 V780.8 H898.3 V757.6 H900.7 V722.9 H903.1 V692.8 H905.5 V681.0 H907.9 V696.8 H910.3 V737.4 H912.7 V785.0 H915.1 V818.9 H917.5 V824.4 H919.9 V800.3 H922.3 V757.5 H924.7 V714.6 H927.1 V690.5 H929.5 V695.0 H931.9 V723.8 H934.3 V761.4 H936.7 V788.0 H939.1 V791.0 H941.5 V778.5 H943.9 V759.8 H946.3 V745.2 H948.7 V742.4 H951.1 V747.8 H953.5 V755.3 H955.9 V758.7 H958.3 V752.9 H960.7 V738.5 H963.1 V723.2 H965.5 V715.0 H967.9 V720.4 H970.3 V741.3 H972.7 V767.4 H975.1 V785.6 H977.5 V785.8 H979.9 V762.0 H982.3 V724.8 H984.7 V693.0 H987.1 V682.6 H989.5 V698.5 H991.9 V733.1 H994.3 V769.7 H996.7 V790.9 H999.1 V784.9 H1001.5 V751.7 H1003.9 V712.5 H1006.3 V692.9 H1008.7 V703.6 H1011.1 V735.7 H1013.5 V772.4 H1015.9 V794.2 H1018.3 V789.8 H1020.6 V763.1 H1023.0 V729.7 H1025.4 V709.2 H1027.8 V713.2 H1030.2 V739.4 H1032.6 V778.1 H1035.0 V815.2 H1037.4 V837.0 H1039.8 V833.1 H1042.2 V793.5 H1044.6 V735.6 H1047.0 V687.1 H1049.4 V671.2 H1051.8 V693.2 H1054.2 V737.9 H1056.6 V777.8 H1059.0 V788.6 H1061.4 V776.1 H1063.8 V750.7 H1066.2 V721.7 H1068.6 V699.7 H1071.0 V692.9 H1073.4 V710.4 H1075.8 V745.9 H1078.2 V777.6 H1080.6 V786.0 H1083.0 V770.8 H1085.4 V741.9 H1087.8 V714.0 H1090.2 V700.9 H1092.6 V709.1 H1095.0 V733.5 H1097.4 V760.5 H1099.8 V775.2 H1102.2 V769.3 H1104.6 V746.5 H1107.0 V720.0 H1109.4 V705.5 H1111.8 V717.0 H1114.2 V759.7 H1116.6 V807.6 H1119.0 V831.1 H1121.4 V819.9 H1123.8 V784.9 H1126.2 V742.3 H1128.6 V711.5 H1131.0 V707.0 H1133.4 V734.3 H1135.8 V776.1 H1138.2 V803.5 H1140.6 V796.9 H1143.0 V757.3 H1145.4 V705.6 H1147.8 V668.9 H1150.2 V666.0 H1152.6 V693.9 H1155.0 V740.8 H1157.4 V788.8 H1159.8 V819.6 H1162.2 V820.3 H1164.6 V785.0 H1167.0 V730.6 H1169.4 V686.0 H1171.8 V674.6 H1174.2 V697.6 H1176.6 V741.7 H1179.0 V785.8 H1181.4 V808.8 H1183.8 V800.6 H1186.2 V766.9 H1188.6 V723.2 H1191.0 V689.5 H1193.4 V681.1 H1195.8 V699.3 H1198.2 V733.4 H1200.6 V765.3 H1203.0 V778.2 H1205.4 V767.3 H1207.8 V747.2 H1210.2 V740.7 H1212.6 V750.3 H1215.0 V769.0 H1217.4 V788.2 H1219.8 V799.1 H1222.2 V796.0 H1224.6 V777.0 H1227.0 V748.0 H1229.4 V718.5 H1231.8 V698.0 H1234.2 V693.5 H1236.6 V714.6 H1239.0 V750.1 H1241.4 V773.9 H1243.8 V772.2 H1246.2 V755.9 H1248.6 V733.8 H1251.0 V716.4 H1253.4 V712.1 H1255.8 V725.4 H1258.2 V750.6 H1260.6 V775.0 H1263.0 V786.4 H1265.4 V772.2 H1267.8 V732.7 H1270.2 V696.8 H1272.6 V690.2 H1275.0 V713.7 H1277.4 V754.9 H1279.8 V795.0 H1282.2 V815.6 H1284.6 V807.0" fill="none" stroke="#1668cc" stroke-width="3.4" stroke-linejoin="round"/>
<rect x="753.2" y="610.0" width="533.3" height="275.0" fill="none" stroke="#262626" stroke-width="4"/>
<text transform="translate(708.03,712.00) scale(0.9013,1)" font-family="Liberation Sans" font-weight="normal" font-size="48.12" style="font-kerning:none" fill="#262626" stroke="#262626" stroke-width="0.90" stroke-linejoin="round">4</text>
<text transform="translate(708.25,824.60) scale(0.9013,1)" font-family="Liberation Sans" font-weight="normal" font-size="48.12" style="font-kerning:none" fill="#262626" stroke="#262626" stroke-width="0.90" stroke-linejoin="round">0</text>
<text transform="translate(738.57,934.78) scale(0.9922,1)" font-family="Liberation Sans" font-weight="normal" font-size="46.90" style="font-kerning:none" fill="#262626" stroke="#262626" stroke-width="0.90" stroke-linejoin="round">0</text>
<g transform="translate(995.24,934.78) scale(0.9922,1)"><text font-family="Liberation Sans" font-size="46.90" style="font-kerning:none" fill="#262626" stroke="#262626" stroke-width="0.90" stroke-linejoin="round"> 0</text><path transform="translate(0.000,0) scale(0.02290,-0.02290)" d="M515 0V1237L197 1010V1180L530 1409H696V0Z" fill="#262626" stroke="#262626" stroke-width="39.3" stroke-linejoin="round"/></g>
<text transform="translate(1259.22,934.78) scale(0.9922,1)" font-family="Liberation Sans" font-weight="normal" font-size="46.90" style="font-kerning:none" fill="#262626" stroke="#262626" stroke-width="0.90" stroke-linejoin="round">20</text>
<line x1="1019.9" y1="885.0" x2="1019.9" y2="879.0" stroke="#262626" stroke-width="2.5"/>
<text transform="translate(892.37,598.27) scale(1.0459,1)" font-family="Liberation Serif" font-weight="normal" font-size="39.23" fill="#141414" stroke="#141414" stroke-width="0.76" stroke-linejoin="round" >Errors (rd/s)</text>
<text transform="translate(649.95,1179.09) scale(0.9532,1)" font-family="Liberation Serif" font-weight="normal" font-size="85.16" fill="#000" stroke="#000" stroke-width="0.63" stroke-linejoin="round" >(</text>
<text transform="translate(677.49,1179.70) scale(0.9323,1)" font-family="Liberation Serif" font-weight="bold" font-size="89.58" fill="#000" stroke="#000" stroke-width="0.64" stroke-linejoin="round" >a</text>
<text transform="translate(719.05,1179.09) scale(0.9574,1)" font-family="Liberation Serif" font-weight="normal" font-size="85.16" fill="#000" stroke="#000" stroke-width="0.63" stroke-linejoin="round" >)</text>
<line x1="265.0" y1="1682.2" x2="1360.7" y2="1682.2" stroke="#dcdcdc" stroke-width="2.6"/>
<line x1="265.0" y1="1854.4" x2="1360.7" y2="1854.4" stroke="#dcdcdc" stroke-width="2.6"/>
<line x1="537.5" y1="1327.8" x2="537.5" y2="2026.0" stroke="#dcdcdc" stroke-width="2.6"/>
<line x1="811.6" y1="1327.8" x2="811.6" y2="2026.0" stroke="#dcdcdc" stroke-width="2.6"/>
<line x1="1083.2" y1="1327.8" x2="1083.2" y2="2026.0" stroke="#dcdcdc" stroke-width="2.6"/>
<line x1="1360.7" y1="1327.8" x2="1360.7" y2="2026.0" stroke="#dcdcdc" stroke-width="2.6"/>
<path d="M272.9 1326.8 L1359.2 1326.8 L1359.2 1649.8 L1359.2 1649.8 L1359.5 1649.8 L1357.1 1649.8 L1357.1 1654.4 L1353.4 1654.4 L1353.4 1656.2 L1349.8 1656.2 L1349.8 1651.9 L1346.9 1651.9 L1346.9 1657.1 L1343.0 1657.1 L1343.0 1653.1 L1340.6 1653.1 L1340.6 1656.2 L1337.4 1656.2 L1337.4 1653.4 L1334.7 1653.4 L1334.7 1654.7 L1330.8 1654.7 L1330.8 1660.3 L1327.4 1660.3 L1327.4 1651.7 L1323.3 1651.7 L1323.3 1652.8 L1320.6 1652.8 L1320.6 1655.0 L1318.1 1655.0 L1318.1 1655.2 L1314.5 1655.2 L1314.5 1659.9 L1311.0 1659.9 L1311.0 1646.0 L1309.0 1646.0 L1309.0 1655.5 L1304.8 1655.5 L1304.8 1664.2 L1302.7 1664.2 L1302.7 1653.9 L1299.1 1653.9 L1299.1 1645.9 L1295.1 1645.9 L1295.1 1650.3 L1291.7 1650.3 L1291.7 1658.5 L1289.4 1658.5 L1289.4 1653.8 L1286.9 1653.8 L1286.9 1650.7 L1284.1 1650.7 L1284.1 1654.5 L1279.7 1654.5 L1279.7 1658.3 L1275.3 1658.3 L1275.3 1656.7 L1271.2 1656.7 L1271.2 1654.2 L1268.8 1654.2 L1268.8 1655.7 L1266.4 1655.7 L1266.4 1653.2 L1262.3 1653.2 L1262.3 1654.5 L1258.8 1654.5 L1258.8 1655.2 L1255.8 1655.2 L1255.8 1645.4 L1252.3 1645.4 L1252.3 1656.4 L1249.1 1656.4 L1249.1 1654.6 L1245.7 1654.6 L1245.7 1649.3 L1241.4 1649.3 L1241.4 1673.0 L1237.3 1673.0 L1237.3 1654.0 L1235.1 1654.0 L1235.1 1658.1 L1232.2 1658.1 L1232.2 1661.2 L1229.2 1661.2 L1229.2 1657.0 L1225.9 1657.0 L1225.9 1662.3 L1222.0 1662.3 L1222.0 1652.8 L1218.9 1652.8 L1218.9 1656.8 L1215.5 1656.8 L1215.5 1656.2 L1211.7 1656.2 L1211.7 1653.4 L1207.5 1653.4 L1207.5 1657.1 L1204.6 1657.1 L1204.6 1653.4 L1201.5 1653.4 L1201.5 1656.0 L1197.6 1656.0 L1197.6 1652.0 L1195.6 1652.0 L1195.6 1648.9 L1193.4 1648.9 L1193.4 1650.7 L1191.3 1650.7 L1191.3 1655.6 L1188.7 1655.6 L1188.7 1654.3 L1186.4 1654.3 L1186.4 1659.0 L1183.5 1659.0 L1183.5 1662.0 L1180.5 1662.0 L1180.5 1658.5 L1177.2 1658.5 L1177.2 1653.8 L1173.1 1653.8 L1173.1 1650.1 L1170.8 1650.1 L1170.8 1655.4 L1168.8 1655.4 L1168.8 1659.2 L1166.1 1659.2 L1166.1 1654.8 L1162.2 1654.8 L1162.2 1657.7 L1160.2 1657.7 L1160.2 1657.0 L1155.7 1657.0 L1155.7 1649.5 L1153.1 1649.5 L1153.1 1648.5 L1149.5 1648.5 L1149.5 1657.6 L1145.8 1657.6 L1145.8 1655.0 L1141.7 1655.0 L1141.7 1654.2 L1138.5 1654.2 L1138.5 1662.3 L1135.2 1662.3 L1135.2 1657.1 L1131.6 1657.1 L1131.6 1654.6 L1129.6 1654.6 L1129.6 1655.6 L1126.6 1655.6 L1126.6 1644.7 L1123.2 1644.7 L1123.2 1657.8 L1121.2 1657.8 L1121.2 1654.8 L1117.7 1654.8 L1117.7 1661.2 L1114.8 1661.2 L1114.8 1656.1 L1111.5 1656.1 L1111.5 1661.0 L1108.7 1661.0 L1108.7 1657.9 L1106.1 1657.9 L1106.1 1657.6 L1102.6 1657.6 L1102.6 1657.7 L1099.7 1657.7 L1099.7 1661.9 L1097.1 1661.9 L1097.1 1638.9 L1094.5 1638.9 L1094.5 1651.6 L1091.8 1651.6 L1091.8 1651.7 L1089.3 1651.7 L1089.3 1657.8 L1085.7 1657.8 L1085.7 1654.1 L1082.4 1654.1 L1082.4 1651.5 L1077.9 1651.5 L1077.9 1653.2 L1074.5 1653.2 L1074.5 1657.1 L1071.1 1657.1 L1071.1 1655.2 L1067.0 1655.2 L1067.0 1660.6 L1064.3 1660.6 L1064.3 1653.4 L1060.4 1653.4 L1060.4 1666.8 L1057.4 1666.8 L1057.4 1658.6 L1053.3 1658.6 L1053.3 1654.2 L1050.7 1654.2 L1050.7 1653.5 L1047.2 1653.5 L1047.2 1660.5 L1043.0 1660.5 L1043.0 1652.1 L1039.6 1652.1 L1039.6 1655.0 L1037.5 1655.0 L1037.5 1665.4 L1035.0 1665.4 L1035.0 1661.7 L1030.8 1661.7 L1030.8 1656.7 L1026.9 1656.7 L1026.9 1655.3 L1023.3 1655.3 L1023.3 1654.1 L1019.3 1654.1 L1019.3 1658.4 L1015.2 1658.4 L1015.2 1650.0 L1012.8 1650.0 L1012.8 1647.2 L1008.7 1647.2 L1008.7 1656.6 L1006.6 1656.6 L1006.6 1656.7 L1004.0 1656.7 L1004.0 1657.6 L999.6 1657.6 L999.6 1654.6 L997.1 1654.6 L997.1 1659.2 L992.7 1659.2 L992.7 1661.8 L989.7 1661.8 L989.7 1647.3 L986.8 1647.3 L986.8 1661.3 L983.4 1661.3 L983.4 1653.7 L979.1 1653.7 L979.1 1652.5 L976.7 1652.5 L976.7 1653.9 L972.9 1653.9 L972.9 1639.6 L970.1 1639.6 L970.1 1650.6 L966.2 1650.6 L966.2 1649.0 L962.8 1649.0 L962.8 1658.9 L958.5 1658.9 L958.5 1653.5 L955.9 1653.5 L955.9 1660.2 L952.8 1660.2 L952.8 1643.6 L948.6 1643.6 L948.6 1654.4 L946.4 1654.4 L946.4 1655.3 L943.2 1655.3 L943.2 1648.7 L940.8 1648.7 L940.8 1666.5 L936.4 1666.5 L936.4 1658.2 L932.7 1658.2 L932.7 1653.2 L930.5 1653.2 L930.5 1653.5 L927.3 1653.5 L927.3 1653.4 L925.2 1653.4 L925.2 1651.0 L921.6 1651.0 L921.6 1655.6 L917.7 1655.6 L917.7 1664.0 L914.5 1664.0 L914.5 1658.2 L912.1 1658.2 L912.1 1653.3 L908.2 1653.3 L908.2 1657.2 L905.8 1657.2 L905.8 1652.2 L901.7 1652.2 L901.7 1655.1 L899.3 1655.1 L899.3 1651.0 L896.5 1651.0 L896.5 1657.6 L893.4 1657.6 L893.4 1666.3 L889.6 1666.3 L889.6 1659.0 L885.2 1659.0 L885.2 1648.8 L881.7 1648.8 L881.7 1655.5 L877.4 1655.5 L877.4 1654.6 L873.0 1654.6 L873.0 1654.9 L870.9 1654.9 L870.9 1650.7 L867.6 1650.7 L867.6 1657.7 L864.7 1657.7 L864.7 1657.8 L860.5 1657.8 L860.5 1665.7 L857.8 1665.7 L857.8 1653.7 L855.2 1653.7 L855.2 1650.0 L851.4 1650.0 L851.4 1666.7 L849.4 1666.7 L849.4 1649.0 L845.9 1649.0 L845.9 1659.2 L843.2 1659.2 L843.2 1654.5 L839.2 1654.5 L839.2 1653.9 L836.3 1653.9 L836.3 1653.1 L833.7 1653.1 L833.7 1651.6 L829.5 1651.6 L829.5 1654.5 L825.2 1654.5 L825.2 1652.9 L822.7 1652.9 L822.7 1655.6 L818.9 1655.6 L818.9 1652.4 L816.5 1652.4 L816.5 1660.9 L813.7 1660.9 L813.7 1654.4 L810.5 1654.4 L810.5 1649.5 L807.2 1649.5 L807.2 1657.0 L803.6 1657.0 L803.6 1655.9 L799.2 1655.9 L799.2 1652.3 L795.7 1652.3 L795.7 1653.9 L791.6 1653.9 L791.6 1651.6 L787.6 1651.6 L787.6 1659.0 L784.7 1659.0 L784.7 1652.3 L781.5 1652.3 L781.5 1653.7 L777.8 1653.7 L777.8 1654.8 L775.4 1654.8 L775.4 1655.3 L771.7 1655.3 L771.7 1652.1 L768.1 1652.1 L768.1 1654.0 L765.4 1654.0 L765.4 1655.1 L762.7 1655.1 L762.7 1654.7 L759.7 1654.7 L759.7 1655.8 L756.2 1655.8 L756.2 1659.9 L753.9 1659.9 L753.9 1644.3 L751.3 1644.3 L751.3 1655.8 L747.5 1655.8 L747.5 1652.0 L743.9 1652.0 L743.9 1654.6 L740.8 1654.6 L740.8 1658.1 L738.7 1658.1 L738.7 1656.8 L734.4 1656.8 L734.4 1656.0 L731.3 1656.0 L731.3 1658.1 L727.4 1658.1 L727.4 1651.6 L724.4 1651.6 L724.4 1653.9 L721.0 1653.9 L721.0 1654.6 L717.6 1654.6 L717.6 1653.9 L715.4 1653.9 L715.4 1654.6 L713.3 1654.6 L713.3 1665.6 L710.0 1665.6 L710.0 1643.7 L707.1 1643.7 L707.1 1649.0 L705.0 1649.0 L705.0 1652.5 L702.0 1652.5 L702.0 1658.9 L698.0 1658.9 L698.0 1654.9 L694.7 1654.9 L694.7 1663.3 L691.7 1663.3 L691.7 1651.8 L688.5 1651.8 L688.5 1650.3 L686.1 1650.3 L686.1 1653.9 L682.4 1653.9 L682.4 1652.2 L679.9 1652.2 L679.9 1652.0 L675.5 1652.0 L675.5 1669.6 L671.2 1669.6 L671.2 1667.5 L668.8 1667.5 L668.8 1652.9 L664.5 1652.9 L664.5 1656.2 L660.3 1656.2 L660.3 1659.0 L656.5 1659.0 L656.5 1653.2 L654.3 1653.2 L654.3 1656.6 L652.1 1656.6 L652.1 1651.8 L649.0 1651.8 L649.0 1654.3 L646.3 1654.3 L646.3 1652.3 L643.2 1652.3 L643.2 1650.5 L641.1 1650.5 L641.1 1663.3 L638.7 1663.3 L638.7 1654.3 L635.4 1654.3 L635.4 1657.2 L633.1 1657.2 L633.1 1655.5 L629.6 1655.5 L629.6 1654.0 L627.3 1654.0 L627.3 1651.3 L623.5 1651.3 L623.5 1652.2 L620.1 1652.2 L620.1 1656.8 L616.2 1656.8 L616.2 1655.2 L613.3 1655.2 L613.3 1653.5 L610.5 1653.5 L610.5 1655.0 L606.6 1655.0 L606.6 1658.8 L603.8 1658.8 L603.8 1654.6 L600.5 1654.6 L600.5 1655.5 L596.5 1655.5 L596.5 1659.9 L592.9 1659.9 L592.9 1651.9 L590.2 1651.9 L590.2 1653.8 L587.6 1653.8 L587.6 1653.7 L583.6 1653.7 L583.6 1664.2 L581.2 1664.2 L581.2 1658.2 L577.5 1658.2 L577.5 1656.5 L575.2 1656.5 L575.2 1652.7 L572.5 1652.7 L572.5 1654.6 L569.6 1654.6 L569.6 1655.9 L567.5 1655.9 L567.5 1660.3 L565.1 1660.3 L565.1 1655.7 L562.3 1655.7 L562.3 1657.9 L559.8 1657.9 L559.8 1646.8 L555.9 1646.8 L555.9 1653.9 L553.5 1653.9 L553.5 1659.1 L549.8 1659.1 L549.8 1660.5 L547.2 1660.5 L547.2 1655.4 L544.5 1655.4 L544.5 1658.0 L540.0 1658.0 L540.0 1656.8 L535.9 1656.8 L535.9 1656.0 L533.8 1656.0 L533.8 1652.3 L531.8 1652.3 L531.8 1665.9 L529.4 1665.9 L529.4 1653.2 L527.0 1653.2 L527.0 1656.0 L523.5 1656.0 L523.5 1662.9 L520.4 1662.9 L520.4 1654.4 L517.5 1654.4 L517.5 1649.9 L514.7 1649.9 L514.7 1646.1 L512.2 1646.1 L512.2 1656.3 L507.9 1656.3 L507.9 1656.9 L505.6 1656.9 L505.6 1652.5 L502.1 1652.5 L502.1 1655.3 L499.6 1655.3 L499.6 1653.5 L496.3 1653.5 L496.3 1652.8 L493.7 1652.8 L493.7 1659.0 L490.1 1659.0 L490.1 1655.8 L485.8 1655.8 L485.8 1651.5 L483.5 1651.5 L482.5 1675.8 L481.0 1678.3 L476.5 1678.3 L475.0 1675.8 L475.0 1648.9 L473.8 1645.9 L466.1 1645.9 L464.9 1648.9 L464.9 1670.4 L463.4 1672.9 L461.7 1672.9 L460.2 1670.4 L460.2 1648.9 L459.0 1645.9 L452.6 1645.9 L451.4 1648.9 L451.4 1659.6 L449.9 1662.1 L446.8 1662.1 L445.3 1659.6 L445.3 1638.1 L444.1 1635.1 L436.4 1635.1 L435.2 1638.1 L435.2 1675.8 L433.7 1678.3 L430.6 1678.3 L429.1 1675.8 L429.1 1640.8 L427.9 1637.8 L417.5 1637.8 L416.3 1640.8 L416.3 1692.0 L414.8 1694.5 L411.7 1694.5 L410.2 1692.0 L410.2 1643.5 L409.0 1640.5 L404.0 1640.5 L402.8 1643.5 L402.8 1692.0 L401.3 1694.5 L395.5 1694.5 L394.0 1692.0 L394.0 1657.0 L392.8 1654.0 L385.1 1654.0 L383.9 1657.0 L383.9 1686.6 L382.4 1689.1 L380.7 1689.1 L379.2 1686.6 L379.2 1628.7 L378.0 1625.7 L374.3 1625.7 L373.1 1628.7 L373.1 1708.2 L371.6 1710.7 L364.5 1710.7 L363.0 1708.2 L363.0 1667.8 L361.8 1664.8 L358.1 1664.8 L356.9 1667.8 L356.9 1774.4 L355.4 1776.9 L349.6 1776.9 L348.1 1774.4 L348.1 1719.1 L346.9 1716.1 L341.9 1716.1 L340.7 1719.1 L340.7 1810.8 L339.2 1813.3 L333.4 1813.3 L331.9 1810.8 L331.9 1762.3 L330.7 1759.3 L327.1 1759.3 L325.9 1762.3 L325.9 1805.4 L324.4 1807.9 L322.6 1807.9 L321.1 1805.4 L321.1 1746.1 L319.9 1743.1 L314.9 1743.1 L313.7 1746.1 L313.7 1854.0 L312.2 1856.5 L303.7 1856.5 L302.2 1854.0 L302.2 1743.4 L301.0 1740.4 L296.0 1740.4 L294.8 1743.4 L294.8 1843.2 L293.3 1845.7 L287.5 1845.7 L286.0 1843.2 L286.0 1771.8 L284.8 1768.8 L283.9 1768.8 L282.7 1771.8 L283.6 1926.7 L272.9 1926.7Z" fill="#0071c1"/>
<path d="M283.6 1926.7 L282.7 1771.8 L283.9 1768.8 L284.8 1768.8 L286.0 1771.8 L286.0 1843.2 L287.5 1845.7 L293.3 1845.7 L294.8 1843.2 L294.8 1743.4 L296.0 1740.4 L301.0 1740.4 L302.2 1743.4 L302.2 1854.0 L303.7 1856.5 L312.2 1856.5 L313.7 1854.0 L313.7 1746.1 L314.9 1743.1 L319.9 1743.1 L321.1 1746.1 L321.1 1805.4 L322.6 1807.9 L324.4 1807.9 L325.9 1805.4 L325.9 1762.3 L327.1 1759.3 L330.7 1759.3 L331.9 1762.3 L331.9 1810.8 L333.4 1813.3 L339.2 1813.3 L340.7 1810.8 L340.7 1719.1 L341.9 1716.1 L346.9 1716.1 L348.1 1719.1 L348.1 1774.4 L349.6 1776.9 L355.4 1776.9 L356.9 1774.4 L356.9 1667.8 L358.1 1664.8 L361.8 1664.8 L363.0 1667.8 L363.0 1708.2 L364.5 1710.7 L371.6 1710.7 L373.1 1708.2 L373.1 1628.7 L374.3 1625.7 L378.0 1625.7 L379.2 1628.7 L379.2 1686.6 L380.7 1689.1 L382.4 1689.1 L383.9 1686.6 L383.9 1657.0 L385.1 1654.0 L392.8 1654.0 L394.0 1657.0 L394.0 1692.0 L395.5 1694.5 L401.3 1694.5 L402.8 1692.0 L402.8 1643.5 L404.0 1640.5 L409.0 1640.5 L410.2 1643.5 L410.2 1692.0 L411.7 1694.5 L414.8 1694.5 L416.3 1692.0 L416.3 1640.8 L417.5 1637.8 L427.9 1637.8 L429.1 1640.8 L429.1 1675.8 L430.6 1678.3 L433.7 1678.3 L435.2 1675.8 L435.2 1638.1 L436.4 1635.1 L444.1 1635.1 L445.3 1638.1 L445.3 1659.6 L446.8 1662.1 L449.9 1662.1 L451.4 1659.6 L451.4 1648.9 L452.6 1645.9 L459.0 1645.9 L460.2 1648.9 L460.2 1670.4 L461.7 1672.9 L463.4 1672.9 L464.9 1670.4 L464.9 1648.9 L466.1 1645.9 L473.8 1645.9 L475.0 1648.9 L475.0 1675.8 L476.5 1678.3 L481.0 1678.3 L482.5 1675.8 L483.5 1651.5 L485.8 1651.5 L485.8 1655.8 L490.1 1655.8 L490.1 1659.0 L493.7 1659.0 L493.7 1652.8 L496.3 1652.8 L496.3 1653.5 L499.6 1653.5 L499.6 1655.3 L502.1 1655.3 L502.1 1652.5 L505.6 1652.5 L505.6 1656.9 L507.9 1656.9 L507.9 1656.3 L512.2 1656.3 L512.2 1646.1 L514.7 1646.1 L514.7 1649.9 L517.5 1649.9 L517.5 1654.4 L520.4 1654.4 L520.4 1662.9 L523.5 1662.9 L523.5 1656.0 L527.0 1656.0 L527.0 1653.2 L529.4 1653.2 L529.4 1665.9 L531.8 1665.9 L531.8 1652.3 L533.8 1652.3 L533.8 1656.0 L535.9 1656.0 L535.9 1656.8 L540.0 1656.8 L540.0 1658.0 L544.5 1658.0 L544.5 1655.4 L547.2 1655.4 L547.2 1660.5 L549.8 1660.5 L549.8 1659.1 L553.5 1659.1 L553.5 1653.9 L555.9 1653.9 L555.9 1646.8 L559.8 1646.8 L559.8 1657.9 L562.3 1657.9 L562.3 1655.7 L565.1 1655.7 L565.1 1660.3 L567.5 1660.3 L567.5 1655.9 L569.6 1655.9 L569.6 1654.6 L572.5 1654.6 L572.5 1652.7 L575.2 1652.7 L575.2 1656.5 L577.5 1656.5 L577.5 1658.2 L581.2 1658.2 L581.2 1664.2 L583.6 1664.2 L583.6 1653.7 L587.6 1653.7 L587.6 1653.8 L590.2 1653.8 L590.2 1651.9 L592.9 1651.9 L592.9 1659.9 L596.5 1659.9 L596.5 1655.5 L600.5 1655.5 L600.5 1654.6 L603.8 1654.6 L603.8 1658.8 L606.6 1658.8 L606.6 1655.0 L610.5 1655.0 L610.5 1653.5 L613.3 1653.5 L613.3 1655.2 L616.2 1655.2 L616.2 1656.8 L620.1 1656.8 L620.1 1652.2 L623.5 1652.2 L623.5 1651.3 L627.3 1651.3 L627.3 1654.0 L629.6 1654.0 L629.6 1655.5 L633.1 1655.5 L633.1 1657.2 L635.4 1657.2 L635.4 1654.3 L638.7 1654.3 L638.7 1663.3 L641.1 1663.3 L641.1 1650.5 L643.2 1650.5 L643.2 1652.3 L646.3 1652.3 L646.3 1654.3 L649.0 1654.3 L649.0 1651.8 L652.1 1651.8 L652.1 1656.6 L654.3 1656.6 L654.3 1653.2 L656.5 1653.2 L656.5 1659.0 L660.3 1659.0 L660.3 1656.2 L664.5 1656.2 L664.5 1652.9 L668.8 1652.9 L668.8 1667.5 L671.2 1667.5 L671.2 1669.6 L675.5 1669.6 L675.5 1652.0 L679.9 1652.0 L679.9 1652.2 L682.4 1652.2 L682.4 1653.9 L686.1 1653.9 L686.1 1650.3 L688.5 1650.3 L688.5 1651.8 L691.7 1651.8 L691.7 1663.3 L694.7 1663.3 L694.7 1654.9 L698.0 1654.9 L698.0 1658.9 L702.0 1658.9 L702.0 1652.5 L705.0 1652.5 L705.0 1649.0 L707.1 1649.0 L707.1 1643.7 L710.0 1643.7 L710.0 1665.6 L713.3 1665.6 L713.3 1654.6 L715.4 1654.6 L715.4 1653.9 L717.6 1653.9 L717.6 1654.6 L721.0 1654.6 L721.0 1653.9 L724.4 1653.9 L724.4 1651.6 L727.4 1651.6 L727.4 1658.1 L731.3 1658.1 L731.3 1656.0 L734.4 1656.0 L734.4 1656.8 L738.7 1656.8 L738.7 1658.1 L740.8 1658.1 L740.8 1654.6 L743.9 1654.6 L743.9 1652.0 L747.5 1652.0 L747.5 1655.8 L751.3 1655.8 L751.3 1644.3 L753.9 1644.3 L753.9 1659.9 L756.2 1659.9 L756.2 1655.8 L759.7 1655.8 L759.7 1654.7 L762.7 1654.7 L762.7 1655.1 L765.4 1655.1 L765.4 1654.0 L768.1 1654.0 L768.1 1652.1 L771.7 1652.1 L771.7 1655.3 L775.4 1655.3 L775.4 1654.8 L777.8 1654.8 L777.8 1653.7 L781.5 1653.7 L781.5 1652.3 L784.7 1652.3 L784.7 1659.0 L787.6 1659.0 L787.6 1651.6 L791.6 1651.6 L791.6 1653.9 L795.7 1653.9 L795.7 1652.3 L799.2 1652.3 L799.2 1655.9 L803.6 1655.9 L803.6 1657.0 L807.2 1657.0 L807.2 1649.5 L810.5 1649.5 L810.5 1654.4 L813.7 1654.4 L813.7 1660.9 L816.5 1660.9 L816.5 1652.4 L818.9 1652.4 L818.9 1655.6 L822.7 1655.6 L822.7 1652.9 L825.2 1652.9 L825.2 1654.5 L829.5 1654.5 L829.5 1651.6 L833.7 1651.6 L833.7 1653.1 L836.3 1653.1 L836.3 1653.9 L839.2 1653.9 L839.2 1654.5 L843.2 1654.5 L843.2 1659.2 L845.9 1659.2 L845.9 1649.0 L849.4 1649.0 L849.4 1666.7 L851.4 1666.7 L851.4 1650.0 L855.2 1650.0 L855.2 1653.7 L857.8 1653.7 L857.8 1665.7 L860.5 1665.7 L860.5 1657.8 L864.7 1657.8 L864.7 1657.7 L867.6 1657.7 L867.6 1650.7 L870.9 1650.7 L870.9 1654.9 L873.0 1654.9 L873.0 1654.6 L877.4 1654.6 L877.4 1655.5 L881.7 1655.5 L881.7 1648.8 L885.2 1648.8 L885.2 1659.0 L889.6 1659.0 L889.6 1666.3 L893.4 1666.3 L893.4 1657.6 L896.5 1657.6 L896.5 1651.0 L899.3 1651.0 L899.3 1655.1 L901.7 1655.1 L901.7 1652.2 L905.8 1652.2 L905.8 1657.2 L908.2 1657.2 L908.2 1653.3 L912.1 1653.3 L912.1 1658.2 L914.5 1658.2 L914.5 1664.0 L917.7 1664.0 L917.7 1655.6 L921.6 1655.6 L921.6 1651.0 L925.2 1651.0 L925.2 1653.4 L927.3 1653.4 L927.3 1653.5 L930.5 1653.5 L930.5 1653.2 L932.7 1653.2 L932.7 1658.2 L936.4 1658.2 L936.4 1666.5 L940.8 1666.5 L940.8 1648.7 L943.2 1648.7 L943.2 1655.3 L946.4 1655.3 L946.4 1654.4 L948.6 1654.4 L948.6 1643.6 L952.8 1643.6 L952.8 1660.2 L955.9 1660.2 L955.9 1653.5 L958.5 1653.5 L958.5 1658.9 L962.8 1658.9 L962.8 1649.0 L966.2 1649.0 L966.2 1650.6 L970.1 1650.6 L970.1 1639.6 L972.9 1639.6 L972.9 1653.9 L976.7 1653.9 L976.7 1652.5 L979.1 1652.5 L979.1 1653.7 L983.4 1653.7 L983.4 1661.3 L986.8 1661.3 L986.8 1647.3 L989.7 1647.3 L989.7 1661.8 L992.7 1661.8 L992.7 1659.2 L997.1 1659.2 L997.1 1654.6 L999.6 1654.6 L999.6 1657.6 L1004.0 1657.6 L1004.0 1656.7 L1006.6 1656.7 L1006.6 1656.6 L1008.7 1656.6 L1008.7 1647.2 L1012.8 1647.2 L1012.8 1650.0 L1015.2 1650.0 L1015.2 1658.4 L1019.3 1658.4 L1019.3 1654.1 L1023.3 1654.1 L1023.3 1655.3 L1026.9 1655.3 L1026.9 1656.7 L1030.8 1656.7 L1030.8 1661.7 L1035.0 1661.7 L1035.0 1665.4 L1037.5 1665.4 L1037.5 1655.0 L1039.6 1655.0 L1039.6 1652.1 L1043.0 1652.1 L1043.0 1660.5 L1047.2 1660.5 L1047.2 1653.5 L1050.7 1653.5 L1050.7 1654.2 L1053.3 1654.2 L1053.3 1658.6 L1057.4 1658.6 L1057.4 1666.8 L1060.4 1666.8 L1060.4 1653.4 L1064.3 1653.4 L1064.3 1660.6 L1067.0 1660.6 L1067.0 1655.2 L1071.1 1655.2 L1071.1 1657.1 L1074.5 1657.1 L1074.5 1653.2 L1077.9 1653.2 L1077.9 1651.5 L1082.4 1651.5 L1082.4 1654.1 L1085.7 1654.1 L1085.7 1657.8 L1089.3 1657.8 L1089.3 1651.7 L1091.8 1651.7 L1091.8 1651.6 L1094.5 1651.6 L1094.5 1638.9 L1097.1 1638.9 L1097.1 1661.9 L1099.7 1661.9 L1099.7 1657.7 L1102.6 1657.7 L1102.6 1657.6 L1106.1 1657.6 L1106.1 1657.9 L1108.7 1657.9 L1108.7 1661.0 L1111.5 1661.0 L1111.5 1656.1 L1114.8 1656.1 L1114.8 1661.2 L1117.7 1661.2 L1117.7 1654.8 L1121.2 1654.8 L1121.2 1657.8 L1123.2 1657.8 L1123.2 1644.7 L1126.6 1644.7 L1126.6 1655.6 L1129.6 1655.6 L1129.6 1654.6 L1131.6 1654.6 L1131.6 1657.1 L1135.2 1657.1 L1135.2 1662.3 L1138.5 1662.3 L1138.5 1654.2 L1141.7 1654.2 L1141.7 1655.0 L1145.8 1655.0 L1145.8 1657.6 L1149.5 1657.6 L1149.5 1648.5 L1153.1 1648.5 L1153.1 1649.5 L1155.7 1649.5 L1155.7 1657.0 L1160.2 1657.0 L1160.2 1657.7 L1162.2 1657.7 L1162.2 1654.8 L1166.1 1654.8 L1166.1 1659.2 L1168.8 1659.2 L1168.8 1655.4 L1170.8 1655.4 L1170.8 1650.1 L1173.1 1650.1 L1173.1 1653.8 L1177.2 1653.8 L1177.2 1658.5 L1180.5 1658.5 L1180.5 1662.0 L1183.5 1662.0 L1183.5 1659.0 L1186.4 1659.0 L1186.4 1654.3 L1188.7 1654.3 L1188.7 1655.6 L1191.3 1655.6 L1191.3 1650.7 L1193.4 1650.7 L1193.4 1648.9 L1195.6 1648.9 L1195.6 1652.0 L1197.6 1652.0 L1197.6 1656.0 L1201.5 1656.0 L1201.5 1653.4 L1204.6 1653.4 L1204.6 1657.1 L1207.5 1657.1 L1207.5 1653.4 L1211.7 1653.4 L1211.7 1656.2 L1215.5 1656.2 L1215.5 1656.8 L1218.9 1656.8 L1218.9 1652.8 L1222.0 1652.8 L1222.0 1662.3 L1225.9 1662.3 L1225.9 1657.0 L1229.2 1657.0 L1229.2 1661.2 L1232.2 1661.2 L1232.2 1658.1 L1235.1 1658.1 L1235.1 1654.0 L1237.3 1654.0 L1237.3 1673.0 L1241.4 1673.0 L1241.4 1649.3 L1245.7 1649.3 L1245.7 1654.6 L1249.1 1654.6 L1249.1 1656.4 L1252.3 1656.4 L1252.3 1645.4 L1255.8 1645.4 L1255.8 1655.2 L1258.8 1655.2 L1258.8 1654.5 L1262.3 1654.5 L1262.3 1653.2 L1266.4 1653.2 L1266.4 1655.7 L1268.8 1655.7 L1268.8 1654.2 L1271.2 1654.2 L1271.2 1656.7 L1275.3 1656.7 L1275.3 1658.3 L1279.7 1658.3 L1279.7 1654.5 L1284.1 1654.5 L1284.1 1650.7 L1286.9 1650.7 L1286.9 1653.8 L1289.4 1653.8 L1289.4 1658.5 L1291.7 1658.5 L1291.7 1650.3 L1295.1 1650.3 L1295.1 1645.9 L1299.1 1645.9 L1299.1 1653.9 L1302.7 1653.9 L1302.7 1664.2 L1304.8 1664.2 L1304.8 1655.5 L1309.0 1655.5 L1309.0 1646.0 L1311.0 1646.0 L1311.0 1659.9 L1314.5 1659.9 L1314.5 1655.2 L1318.1 1655.2 L1318.1 1655.0 L1320.6 1655.0 L1320.6 1652.8 L1323.3 1652.8 L1323.3 1651.7 L1327.4 1651.7 L1327.4 1660.3 L1330.8 1660.3 L1330.8 1654.7 L1334.7 1654.7 L1334.7 1653.4 L1337.4 1653.4 L1337.4 1656.2 L1340.6 1656.2 L1340.6 1653.1 L1343.0 1653.1 L1343.0 1657.1 L1346.9 1657.1 L1346.9 1651.9 L1349.8 1651.9 L1349.8 1656.2 L1353.4 1656.2 L1353.4 1654.4 L1357.1 1654.4 L1357.1 1649.8 L1359.5 1649.8 L1359.2 1649.8" fill="none" stroke="#0852b2" stroke-width="1.4" stroke-linejoin="round"/>
<rect x="262.0" y="1326.8" width="6.0" height="699.2" fill="#0071c1"/>
<rect x="267.0" y="1326.8" width="7" height="219.2" fill="#0071c1"/>
<rect x="268.8" y="1546" width="2.6" height="380" fill="#ffffff"/>
<line x1="262" y1="1327.3" x2="1359.2" y2="1327.3" stroke="#0a58b4" stroke-width="2.4"/>
<rect x="277.0" y="1328.6" width="5.0" height="79.9" rx="1.2" fill="#ffffff" stroke="#0a52b2" stroke-width="1.1"/>
<rect x="292.3" y="1328.6" width="3.2" height="52.1" rx="1.2" fill="#ffffff" stroke="#0a52b2" stroke-width="1.1"/>
<rect x="306.0" y="1328.6" width="3.2" height="35.9" rx="1.2" fill="#ffffff" stroke="#0a52b2" stroke-width="1.1"/>
<rect x="321.0" y="1328.6" width="5.0" height="53.9" rx="1.2" fill="#ffffff" stroke="#0a52b2" stroke-width="1.1"/>
<rect x="324.5" y="1328.6" width="4.3" height="68.9" rx="1.2" fill="#ffffff" stroke="#0a52b2" stroke-width="1.1"/>
<rect x="339.0" y="1328.6" width="3.2" height="25.4" rx="1.2" fill="#ffffff" stroke="#0a52b2" stroke-width="1.1"/>
<rect x="353.0" y="1328.6" width="3.2" height="14.4" rx="1.2" fill="#ffffff" stroke="#0a52b2" stroke-width="1.1"/>
<line x1="264.0" y1="2026.0" x2="1360.7" y2="2026.0" stroke="#262626" stroke-width="3.4"/>
<line x1="265.0" y1="1682.2" x2="273.0" y2="1682.2" stroke="#262626" stroke-width="3"/>
<line x1="265.0" y1="1854.4" x2="273.0" y2="1854.4" stroke="#262626" stroke-width="3"/>
<line x1="537.5" y1="2026.0" x2="537.5" y2="2018.0" stroke="#262626" stroke-width="3"/>
<line x1="811.6" y1="2026.0" x2="811.6" y2="2018.0" stroke="#262626" stroke-width="3"/>
<line x1="1083.2" y1="2026.0" x2="1083.2" y2="2018.0" stroke="#262626" stroke-width="3"/>
<line x1="1360.7" y1="2026.0" x2="1360.7" y2="2018.0" stroke="#262626" stroke-width="3"/>
<g transform="translate(106.92,1358.54) scale(0.8338,1)"><text font-family="Liberation Sans" font-size="71.13" style="font-kerning:none" fill="#262626" stroke="#262626" stroke-width="0.90" stroke-linejoin="round"> 000</text><path transform="translate(0.000,0) scale(0.03473,-0.03473)" d="M515 0V1237L197 1010V1180L530 1409H696V0Z" fill="#262626" stroke="#262626" stroke-width="25.9" stroke-linejoin="round"/></g>
<text transform="translate(140.13,1532.14) scale(0.8338,1)" font-family="Liberation Sans" font-weight="normal" font-size="71.13" style="font-kerning:none" fill="#262626" stroke="#262626" stroke-width="0.90" stroke-linejoin="round">500</text>
<text transform="translate(205.96,1711.04) scale(0.8338,1)" font-family="Liberation Sans" font-weight="normal" font-size="71.13" style="font-kerning:none" fill="#262626" stroke="#262626" stroke-width="0.90" stroke-linejoin="round">0</text>
<text transform="translate(140.13,1888.44) scale(0.8338,1)" font-family="Liberation Sans" font-weight="normal" font-size="71.13" style="font-kerning:none" fill="#262626" stroke="#262626" stroke-width="0.90" stroke-linejoin="round">500</text>
<g transform="translate(106.92,2061.04) scale(0.8338,1)"><text font-family="Liberation Sans" font-size="71.13" style="font-kerning:none" fill="#262626" stroke="#262626" stroke-width="0.90" stroke-linejoin="round"> 000</text><path transform="translate(0.000,0) scale(0.03473,-0.03473)" d="M515 0V1237L197 1010V1180L530 1409H696V0Z" fill="#262626" stroke="#262626" stroke-width="25.9" stroke-linejoin="round"/></g>
<rect x="113.5" y="1868.9" width="16.3" height="5.6" fill="#262626"/>
<rect x="80.5" y="2041.5" width="17.1" height="5.6" fill="#262626"/>
<text transform="translate(242.33,2132.22) scale(0.9438,1)" font-family="Liberation Sans" font-weight="normal" font-size="67.61" style="font-kerning:none" fill="#262626" stroke="#262626" stroke-width="0.90" stroke-linejoin="round">0</text>
<text transform="translate(519.79,2131.89) scale(0.9438,1)" font-family="Liberation Sans" font-weight="normal" font-size="67.61" style="font-kerning:none" fill="#262626" stroke="#262626" stroke-width="0.90" stroke-linejoin="round">5</text>
<g transform="translate(776.31,2132.22) scale(0.9438,1)"><text font-family="Liberation Sans" font-size="67.61" style="font-kerning:none" fill="#262626" stroke="#262626" stroke-width="0.90" stroke-linejoin="round"> 0</text><path transform="translate(0.000,0) scale(0.03301,-0.03301)" d="M515 0V1237L197 1010V1180L530 1409H696V0Z" fill="#262626" stroke="#262626" stroke-width="27.3" stroke-linejoin="round"/></g>
<g transform="translate(1051.67,2131.89) scale(0.9438,1)"><text font-family="Liberation Sans" font-size="67.61" style="font-kerning:none" fill="#262626" stroke="#262626" stroke-width="0.90" stroke-linejoin="round"> 5</text><path transform="translate(0.000,0) scale(0.03301,-0.03301)" d="M515 0V1237L197 1010V1180L530 1409H696V0Z" fill="#262626" stroke="#262626" stroke-width="27.3" stroke-linejoin="round"/></g>
<text transform="translate(1322.81,2132.22) scale(0.9438,1)" font-family="Liberation Sans" font-weight="normal" font-size="67.61" style="font-kerning:none" fill="#262626" stroke="#262626" stroke-width="0.90" stroke-linejoin="round">20</text>
<text transform="translate(601.35,1300.97) scale(0.8074,1)" font-family="Liberation Serif" font-weight="normal" font-size="84.56" fill="#141414" stroke="#141414" stroke-width="1.61" stroke-linejoin="round" >LQG Control</text>
<text transform="translate(710.91,2212.61) scale(0.8384,1)" font-family="Liberation Serif" font-weight="normal" font-size="83.19" fill="#141414" stroke="#141414" stroke-width="1.19" stroke-linejoin="round" >Time (s)</text>
<text transform="translate(69.02,1851.83) rotate(-90) scale(1.1481,1)" font-family="Liberation Serif" font-weight="normal" font-size="71.98" fill="#141414" stroke="#141414" stroke-width="0.80" stroke-linejoin="round" >Voltage (V)</text>
<text transform="translate(646.52,2356.28) scale(0.9396,1)" font-family="Liberation Serif" font-weight="normal" font-size="84.73" fill="#000" stroke="#000" stroke-width="0.64" stroke-linejoin="round" >(</text>
<text transform="translate(674.31,2357.11) scale(0.9927,1)" font-family="Liberation Serif" font-weight="bold" font-size="89.36" fill="#000" stroke="#000" stroke-width="0.60" stroke-linejoin="round" >b</text>
<text transform="translate(723.91,2356.28) scale(0.9397,1)" font-family="Liberation Serif" font-weight="normal" font-size="84.73" fill="#000" stroke="#000" stroke-width="0.64" stroke-linejoin="round" >)</text>
<line x1="130.0" y1="2468.5" x2="1370.6" y2="2468.5" stroke="#dcdcdc" stroke-width="2.4"/>
<line x1="130.0" y1="2575.8" x2="1370.6" y2="2575.8" stroke="#dcdcdc" stroke-width="2.4"/>
<line x1="130.0" y1="2685.3" x2="1370.6" y2="2685.3" stroke="#dcdcdc" stroke-width="2.4"/>
<line x1="130.0" y1="2794.6" x2="1370.6" y2="2794.6" stroke="#dcdcdc" stroke-width="2.4"/>
<line x1="130.0" y1="2904.7" x2="1370.6" y2="2904.7" stroke="#dcdcdc" stroke-width="2.4"/>
<line x1="130.0" y1="3012.8" x2="1370.6" y2="3012.8" stroke="#dcdcdc" stroke-width="2.4"/>
<line x1="130.0" y1="3122.4" x2="1370.6" y2="3122.4" stroke="#dcdcdc" stroke-width="2.4"/>
<line x1="437.0" y1="2468.5" x2="437.0" y2="3229.6" stroke="#dcdcdc" stroke-width="2.4"/>
<line x1="748.2" y1="2468.5" x2="748.2" y2="3229.6" stroke="#dcdcdc" stroke-width="2.4"/>
<line x1="1058.7" y1="2468.5" x2="1058.7" y2="3229.6" stroke="#dcdcdc" stroke-width="2.4"/>
<line x1="1370.6" y1="2468.5" x2="1370.6" y2="3229.6" stroke="#dcdcdc" stroke-width="2.4"/>
<path d="M130.0 2904.7 L130.2 2904.7 L130.5 2904.7 L130.7 2904.7 L131.0 2904.7 L131.2 2904.7 L131.5 2904.7 L131.7 2904.7 L132.0 2904.7 L132.2 2904.7 L132.5 2904.7 L132.7 2904.7 L132.9 2904.7 L133.2 2904.7 L133.4 2904.7 L133.7 2904.7 L133.9 2904.7 L134.2 2904.7 L134.4 2904.7 L134.7 2904.7 L134.9 2904.7 L135.2 2904.7 L135.4 2904.7 L135.6 2904.7 L135.9 2904.7 L136.1 2904.7 L136.4 2904.7 L136.6 2904.7 L136.9 2904.7 L137.1 2904.7 L137.4 2904.7 L137.6 2904.7 L137.9 2904.7 L138.1 2904.7 L138.4 2904.7 L138.6 2904.7 L138.8 2904.7 L139.1 2904.7 L139.3 2904.7 L139.6 2905.4 L139.8 2908.3 L140.1 2911.2 L140.3 2914.1 L140.6 2917.0 L140.8 2919.8 L141.1 2922.7 L141.3 2925.6 L141.5 2928.5 L141.8 2931.4 L142.0 2934.2 L142.3 2937.1 L142.5 2939.7 L142.8 2942.3 L143.0 2944.9 L143.3 2947.5 L143.5 2950.1 L143.8 2952.7 L144.0 2955.3 L144.2 2957.9 L144.5 2960.5 L144.7 2963.1 L145.0 2965.7 L145.2 2968.3 L145.5 2970.9 L145.7 2973.5 L146.0 2976.0 L146.2 2974.3 L146.5 2972.6 L146.7 2970.9 L146.9 2969.1 L147.2 2967.4 L147.4 2965.7 L147.7 2963.9 L147.9 2962.2 L148.2 2960.5 L148.4 2958.8 L148.7 2954.8 L148.9 2950.8 L149.2 2946.8 L149.4 2942.8 L149.6 2938.8 L149.9 2934.8 L150.1 2930.8 L150.4 2926.8 L150.6 2922.8 L150.9 2917.1 L151.1 2905.9 L151.4 2894.6 L151.6 2883.3 L151.9 2872.0 L152.1 2860.6 L152.3 2849.3 L152.6 2838.0 L152.8 2826.6 L153.1 2815.3 L153.3 2804.0 L153.6 2795.1 L153.8 2786.3 L154.1 2777.5 L154.3 2768.7 L154.6 2759.9 L154.8 2751.1 L155.1 2742.3 L155.3 2733.5 L155.5 2724.7 L155.8 2715.9 L156.0 2712.3 L156.3 2708.8 L156.5 2705.2 L156.8 2701.6 L157.0 2698.1 L157.3 2694.5 L157.5 2690.9 L157.8 2687.3 L158.0 2683.8 L158.2 2680.2 L158.5 2676.6 L158.7 2673.0 L159.0 2669.5 L159.2 2665.9 L159.5 2662.3 L159.7 2661.6 L160.0 2660.8 L160.2 2660.1 L160.5 2659.3 L160.7 2658.6 L160.9 2657.8 L161.2 2657.0 L161.4 2656.3 L161.7 2655.5 L161.9 2654.8 L162.2 2654.0 L162.4 2653.3 L162.7 2652.5 L162.9 2651.8 L163.2 2651.0 L163.4 2650.3 L163.6 2649.5 L163.9 2647.4 L164.1 2644.0 L164.4 2640.6 L164.6 2637.2 L164.9 2633.7 L165.1 2630.3 L165.4 2626.9 L165.6 2623.4 L165.9 2620.0 L166.1 2616.6 L166.3 2613.1 L166.6 2609.7 L166.8 2606.3 L167.1 2602.8 L167.3 2599.4 L167.6 2595.5 L167.8 2591.1 L168.1 2586.8 L168.3 2582.4 L168.6 2578.0 L168.8 2573.7 L169.1 2569.4 L169.3 2565.1 L169.5 2560.8 L169.8 2556.5 L170.0 2552.2 L170.3 2547.9 L170.5 2543.6 L170.8 2540.6 L171.0 2537.7 L171.3 2534.7 L171.5 2531.8 L171.8 2528.8 L172.0 2525.8 L172.2 2522.9 L172.5 2519.9 L172.7 2517.0 L173.0 2514.0 L173.2 2511.0 L173.5 2508.1 L173.7 2511.5 L174.0 2521.4 L174.2 2531.3 L174.5 2541.1 L174.7 2545.8 L174.9 2548.6 L175.2 2551.5 L175.4 2554.3 L175.7 2554.7 L175.9 2555.1 L176.2 2555.4 L176.4 2555.8 L176.7 2556.1 L176.9 2556.5 L177.2 2556.8 L177.4 2557.2 L177.6 2557.6 L177.9 2557.9 L178.1 2558.3 L178.4 2558.6 L178.6 2559.0 L178.9 2559.3 L179.1 2559.7 L179.4 2559.9 L179.6 2560.1 L179.9 2560.3 L180.1 2560.6 L180.3 2560.8 L180.6 2561.0 L180.8 2561.2 L181.1 2561.4 L181.3 2561.6 L181.6 2561.9 L181.8 2562.1 L182.1 2562.3 L182.3 2562.7 L182.6 2563.4 L182.8 2564.0 L183.0 2564.6 L183.3 2565.3 L183.5 2565.9 L183.8 2566.6 L184.0 2567.2 L184.3 2567.9 L184.5 2568.5 L184.8 2569.1 L185.0 2569.8 L185.3 2570.4 L185.5 2570.6 L185.8 2570.8 L186.0 2571.0 L186.2 2571.2 L186.5 2571.3 L186.7 2571.5 L187.0 2571.7 L187.2 2571.9 L187.5 2572.0 L187.7 2572.2 L188.0 2572.4 L188.2 2572.6 L188.5 2572.8 L188.7 2572.9 L188.9 2573.1 L189.2 2573.1 L189.4 2573.1 L189.7 2573.1 L189.9 2573.1 L190.2 2573.1 L190.4 2573.0 L190.7 2573.0 L190.9 2572.9 L191.2 2572.8 L191.4 2572.8 L191.6 2572.5 L191.9 2572.3 L192.1 2572.1 L192.4 2571.8 L192.6 2571.6 L192.9 2571.4 L193.1 2571.3 L193.4 2571.1 L193.6 2571.0 L193.9 2570.9 L194.1 2570.8 L194.3 2570.8 L194.6 2570.7 L194.8 2570.6 L195.1 2570.5 L195.3 2570.4 L195.6 2570.3 L195.8 2570.1 L196.1 2570.0 L196.3 2569.7 L196.6 2569.5 L196.8 2569.1 L197.0 2568.8 L197.3 2568.4 L197.5 2568.0 L197.8 2567.5 L198.0 2567.1 L198.3 2566.6 L198.5 2566.1 L198.8 2565.6 L199.0 2565.2 L199.3 2564.7 L199.5 2564.3 L199.8 2563.9 L200.0 2563.5 L200.2 2563.1 L200.5 2562.8 L200.7 2562.5 L201.0 2562.2 L201.2 2561.9 L201.5 2561.7 L201.7 2561.4 L202.0 2561.1 L202.2 2560.8 L202.5 2560.5 L202.7 2560.2 L202.9 2559.8 L203.2 2559.4 L203.4 2559.0 L203.7 2558.5 L203.9 2558.0 L204.2 2557.5 L204.4 2556.9 L204.7 2556.4 L204.9 2555.8 L205.2 2555.2 L205.4 2554.6 L205.6 2554.0 L205.9 2553.5 L206.1 2552.9 L206.4 2552.4 L206.6 2551.9 L206.9 2551.5 L207.1 2551.1 L207.4 2550.7 L207.6 2550.3 L207.9 2550.0 L208.1 2549.7 L208.3 2549.4 L208.6 2549.1 L208.8 2548.8 L209.1 2548.5 L209.3 2548.2 L209.6 2547.9 L209.8 2547.5 L210.1 2547.1 L210.3 2546.7 L210.6 2546.3 L210.8 2545.8 L211.0 2545.3 L211.3 2544.8 L211.5 2544.3 L211.8 2543.8 L212.0 2543.3 L212.3 2542.8 L212.5 2542.3 L212.8 2541.8 L213.0 2541.4 L213.3 2541.0 L213.5 2540.6 L213.7 2540.3 L214.0 2540.0 L214.2 2539.8 L214.5 2539.6 L214.7 2539.4 L215.0 2539.2 L215.2 2539.1 L215.5 2539.0 L215.7 2538.8 L216.0 2538.7 L216.2 2538.6 L216.5 2538.4 L216.7 2538.2 L216.9 2538.0 L217.2 2537.8 L217.4 2537.6 L217.7 2537.3 L217.9 2537.0 L218.2 2536.7 L218.4 2536.4 L218.7 2536.1 L218.9 2535.8 L219.2 2535.6 L219.4 2535.3 L219.6 2535.1 L219.9 2534.9 L220.1 2534.8 L220.4 2534.7 L220.6 2534.6 L220.9 2534.6 L221.1 2534.6 L221.4 2534.7 L221.6 2534.8 L221.9 2534.9 L222.1 2535.0 L222.3 2535.2 L222.6 2535.3 L222.8 2535.5 L223.1 2535.6 L223.3 2535.8 L223.6 2535.9 L223.8 2536.0 L224.1 2536.1 L224.3 2536.2 L224.6 2536.3 L224.8 2536.3 L225.0 2536.4 L225.3 2536.4 L225.5 2536.5 L225.8 2536.6 L226.0 2536.7 L226.3 2536.8 L226.5 2537.0 L226.8 2537.2 L227.0 2537.4 L227.3 2537.7 L227.5 2538.0 L227.7 2538.4 L228.0 2538.9 L228.2 2539.3 L228.5 2539.8 L228.7 2540.3 L229.0 2540.9 L229.2 2541.4 L229.5 2542.0 L229.7 2542.5 L230.0 2543.0 L230.2 2543.5 L230.5 2544.0 L230.7 2544.5 L230.9 2544.9 L231.2 2545.3 L231.4 2545.7 L231.7 2546.1 L231.9 2546.5 L232.2 2546.8 L232.4 2547.2 L232.7 2547.6 L232.9 2547.9 L233.2 2548.3 L233.4 2548.8 L233.6 2549.2 L233.9 2549.7 L234.1 2550.2 L234.4 2550.8 L234.6 2551.4 L234.9 2552.0 L235.1 2552.6 L235.4 2553.3 L235.6 2554.0 L235.9 2554.6 L236.1 2555.3 L236.3 2555.9 L236.6 2556.6 L236.8 2557.2 L237.1 2557.7 L237.3 2558.3 L237.6 2558.8 L237.8 2559.2 L238.1 2559.7 L238.3 2560.0 L238.6 2560.4 L238.8 2560.7 L239.0 2561.1 L239.3 2561.4 L239.5 2561.7 L239.8 2562.0 L240.0 2562.3 L240.3 2562.6 L240.5 2562.9 L240.8 2563.3 L241.0 2563.7 L241.3 2564.1 L241.5 2564.5 L241.7 2564.9 L242.0 2565.4 L242.2 2565.8 L242.5 2566.3 L242.7 2566.7 L243.0 2567.1 L243.2 2567.5 L243.5 2567.9 L243.7 2568.2 L244.0 2568.5 L244.2 2568.7 L244.4 2568.9 L244.7 2569.1 L244.9 2569.1 L245.2 2569.2 L245.4 2569.2 L245.7 2569.2 L245.9 2569.1 L246.2 2569.1 L246.4 2569.0 L246.7 2568.9 L246.9 2568.9 L247.2 2568.8 L247.4 2568.7 L247.6 2568.7 L247.9 2568.7 L248.1 2568.7 L248.4 2568.6 L248.6 2568.6 L248.9 2568.6 L249.1 2568.6 L249.4 2568.6 L249.6 2568.6 L249.9 2568.5 L250.1 2568.4 L250.3 2568.3 L250.6 2568.1 L250.8 2567.9 L251.1 2567.6 L251.3 2567.3 L251.6 2566.9 L251.8 2566.5 L252.1 2566.0 L252.3 2565.5 L252.6 2565.0 L252.8 2564.4 L253.0 2563.8 L253.3 2563.3 L253.5 2562.7 L253.8 2562.1 L254.0 2561.5 L254.3 2561.0 L254.5 2560.4 L254.8 2559.9 L255.0 2559.4 L255.3 2559.0 L255.5 2558.5 L255.7 2558.0 L256.0 2557.6 L256.2 2557.1 L256.5 2556.7 L256.7 2556.2 L257.0 2555.7 L257.2 2555.2 L257.5 2554.6 L257.7 2554.0 L258.0 2553.4 L258.2 2552.7 L258.4 2552.0 L258.7 2551.3 L258.9 2550.5 L259.2 2549.7 L259.4 2548.9 L259.7 2548.1 L259.9 2547.3 L260.2 2546.5 L260.4 2545.7 L260.7 2544.9 L260.9 2544.2 L261.2 2543.5 L261.4 2542.8 L261.6 2542.2 L261.9 2541.6 L262.1 2541.0 L262.4 2540.5 L262.6 2540.0 L262.9 2539.5 L263.1 2539.0 L263.4 2538.6 L263.6 2538.1 L263.9 2537.6 L264.1 2537.2 L264.3 2536.6 L264.6 2536.1 L264.8 2535.6 L265.1 2535.0 L265.3 2534.4 L265.6 2533.8 L265.8 2533.2 L266.1 2532.6 L266.3 2532.0 L266.6 2531.4 L266.8 2530.8 L267.0 2530.3 L267.3 2529.7 L267.5 2529.3 L267.8 2528.8 L268.0 2528.4 L268.3 2528.1 L268.5 2527.8 L268.8 2527.6 L269.0 2527.4 L269.3 2527.2 L269.5 2527.1 L269.7 2527.0 L270.0 2527.0 L270.2 2526.9 L270.5 2526.9 L270.7 2526.8 L271.0 2526.8 L271.2 2526.8 L271.5 2526.7 L271.7 2526.6 L272.0 2526.5 L272.2 2526.4 L272.4 2526.3 L272.7 2526.2 L272.9 2526.2 L273.2 2526.1 L273.4 2526.0 L273.7 2526.0 L273.9 2526.0 L274.2 2526.1 L274.4 2526.2 L274.7 2526.4 L274.9 2526.6 L275.1 2526.9 L275.4 2527.2 L275.6 2527.6 L275.9 2528.1 L276.1 2528.6 L276.4 2529.1 L276.6 2529.7 L276.9 2530.2 L277.1 2530.8 L277.4 2531.5 L277.6 2532.1 L277.9 2532.7 L278.1 2533.3 L278.3 2533.8 L278.6 2534.4 L278.8 2535.0 L279.1 2535.5 L279.3 2536.0 L279.6 2536.6 L279.8 2537.1 L280.1 2537.6 L280.3 2538.2 L280.6 2538.7 L280.8 2539.3 L281.0 2539.9 L281.3 2540.6 L281.5 2541.3 L281.8 2542.0 L282.0 2542.8 L282.3 2543.6 L282.5 2544.4 L282.8 2545.3 L283.0 2546.2 L283.3 2547.1 L283.5 2548.1 L283.7 2549.0 L284.0 2549.9 L284.2 2550.8 L284.5 2551.7 L284.7 2552.6 L285.0 2553.4 L285.2 2554.2 L285.5 2555.0 L285.7 2555.7 L286.0 2556.4 L286.2 2557.0 L286.4 2557.6 L286.7 2558.2 L286.9 2558.8 L287.2 2559.4 L287.4 2560.0 L287.7 2560.5 L287.9 2561.1 L288.2 2561.7 L288.4 2562.3 L288.7 2563.0 L288.9 2563.6 L289.1 2564.3 L289.4 2565.0 L289.6 2565.6 L289.9 2566.3 L290.1 2567.0 L290.4 2567.6 L290.6 2568.3 L290.9 2568.9 L291.1 2569.5 L291.4 2570.0 L291.6 2570.5 L291.9 2570.9 L292.1 2571.3 L292.3 2571.6 L292.6 2571.8 L292.8 2572.1 L293.1 2572.2 L293.3 2572.3 L293.6 2572.4 L293.8 2572.5 L294.1 2572.5 L294.3 2572.5 L294.6 2572.5 L294.8 2572.5 L295.0 2572.5 L295.3 2572.5 L295.5 2572.5 L295.8 2572.5 L296.0 2572.5 L296.3 2572.6 L296.5 2572.6 L296.8 2572.6 L297.0 2572.7 L297.3 2572.7 L297.5 2572.7 L297.7 2572.7 L298.0 2572.6 L298.2 2572.5 L298.5 2572.3 L298.7 2572.1 L299.0 2571.9 L299.2 2571.6 L299.5 2571.2 L299.7 2570.8 L300.0 2570.4 L300.2 2569.9 L300.4 2569.4 L300.7 2568.9 L300.9 2568.4 L301.2 2567.9 L301.4 2567.4 L301.7 2566.9 L301.9 2566.4 L302.2 2565.9 L302.4 2565.4 L302.7 2565.0 L302.9 2564.6 L303.1 2564.2 L303.4 2563.8 L303.6 2563.4 L303.9 2563.1 L304.1 2562.7 L304.4 2562.3 L304.6 2561.9 L304.9 2561.4 L305.1 2561.0 L305.4 2560.5 L305.6 2559.9 L305.8 2559.4 L306.1 2558.8 L306.3 2558.1 L306.6 2557.5 L306.8 2556.8 L307.1 2556.1 L307.3 2555.3 L307.6 2554.6 L307.8 2553.9 L308.1 2553.2 L308.3 2552.5 L308.6 2551.9 L308.8 2551.3 L309.0 2550.7 L309.3 2550.2 L309.5 2549.7 L309.8 2549.2 L310.0 2548.8 L310.3 2548.4 L310.5 2548.0 L310.8 2547.6 L311.0 2547.3 L311.3 2546.9 L311.5 2546.6 L311.7 2546.2 L312.0 2545.8 L312.2 2545.4 L312.5 2545.0 L312.7 2544.6 L313.0 2544.2 L313.2 2543.7 L313.5 2543.2 L313.7 2542.7 L314.0 2542.2 L314.2 2541.8 L314.4 2541.3 L314.7 2540.9 L314.9 2540.5 L315.2 2540.1 L315.4 2539.8 L315.7 2539.5 L315.9 2539.3 L316.2 2539.1 L316.4 2539.0 L316.7 2538.9 L316.9 2538.8 L317.1 2538.8 L317.4 2538.9 L317.6 2538.9 L317.9 2539.0 L318.1 2539.1 L318.4 2539.2 L318.6 2539.3 L318.9 2539.4 L319.1 2539.4 L319.4 2539.5 L319.6 2539.5 L319.8 2539.5 L320.1 2539.5 L320.3 2539.5 L320.6 2539.5 L320.8 2539.5 L321.1 2539.5 L321.3 2539.5 L321.6 2539.5 L321.8 2539.6 L322.1 2539.7 L322.3 2539.8 L322.6 2540.0 L322.8 2540.2 L323.0 2540.5 L323.3 2540.8 L323.5 2541.1 L323.8 2541.5 L324.0 2541.9 L324.3 2542.4 L324.5 2542.8 L324.8 2543.3 L325.0 2543.8 L325.3 2544.2 L325.5 2544.7 L325.7 2545.1 L326.0 2545.5 L326.2 2545.9 L326.5 2546.2 L326.7 2546.6 L327.0 2546.9 L327.2 2547.2 L327.5 2547.5 L327.7 2547.8 L328.0 2548.1 L328.2 2548.3 L328.4 2548.7 L328.7 2549.0 L328.9 2549.3 L329.2 2549.7 L329.4 2550.2 L329.7 2550.6 L329.9 2551.1 L330.2 2551.6 L330.4 2552.2 L330.7 2552.8 L330.9 2553.4 L331.1 2554.0 L331.4 2554.6 L331.6 2555.2 L331.9 2555.8 L332.1 2556.4 L332.4 2557.0 L332.6 2557.5 L332.9 2558.0 L333.1 2558.4 L333.4 2558.8 L333.6 2559.2 L333.8 2559.6 L334.1 2559.9 L334.3 2560.2 L334.6 2560.5 L334.8 2560.8 L335.1 2561.0 L335.3 2561.3 L335.6 2561.6 L335.8 2561.9 L336.1 2562.3 L336.3 2562.6 L336.5 2563.0 L336.8 2563.4 L337.0 2563.8 L337.3 2564.3 L337.5 2564.7 L337.8 2565.2 L338.0 2565.6 L338.3 2566.1 L338.5 2566.5 L338.8 2566.9 L339.0 2567.3 L339.3 2567.6 L339.5 2567.9 L339.7 2568.2 L340.0 2568.4 L340.2 2568.5 L340.5 2568.7 L340.7 2568.7 L341.0 2568.8 L341.2 2568.8 L341.5 2568.8 L341.7 2568.8 L342.0 2568.7 L342.2 2568.7 L342.4 2568.7 L342.7 2568.7 L342.9 2568.7 L343.2 2568.7 L343.4 2568.7 L343.7 2568.8 L343.9 2568.8 L344.2 2568.9 L344.4 2569.0 L344.7 2569.1 L344.9 2569.1 L345.1 2569.1 L345.4 2569.1 L345.6 2569.1 L345.9 2569.0 L346.1 2568.9 L346.4 2568.7 L346.6 2568.5 L346.9 2568.2 L347.1 2567.9 L347.4 2567.5 L347.6 2567.0 L347.8 2566.6 L348.1 2566.1 L348.3 2565.6 L348.6 2565.0 L348.8 2564.5 L349.1 2563.9 L349.3 2563.4 L349.6 2562.8 L349.8 2562.3 L350.1 2561.8 L350.3 2561.3 L350.5 2560.9 L350.8 2560.4 L351.0 2560.0 L351.3 2559.5 L351.5 2559.1 L351.8 2558.7 L352.0 2558.2 L352.3 2557.7 L352.5 2557.3 L352.8 2556.7 L353.0 2556.2 L353.3 2555.6 L353.5 2555.0 L353.7 2554.3 L354.0 2553.6 L354.2 2552.8 L354.5 2552.1 L354.7 2551.3 L355.0 2550.5 L355.2 2549.7 L355.5 2548.9 L355.7 2548.1 L356.0 2547.3 L356.2 2546.6 L356.4 2545.8 L356.7 2545.2 L356.9 2544.5 L357.2 2543.9 L357.4 2543.3 L357.7 2542.8 L357.9 2542.3 L358.2 2541.8 L358.4 2541.3 L358.7 2540.9 L358.9 2540.4 L359.1 2540.0 L359.4 2539.5 L359.6 2539.1 L359.9 2538.6 L360.1 2538.1 L360.4 2537.6 L360.6 2537.0 L360.9 2536.5 L361.1 2535.9 L361.4 2535.3 L361.6 2534.8 L361.8 2534.2 L362.1 2533.6 L362.3 2533.1 L362.6 2532.6 L362.8 2532.1 L363.1 2531.7 L363.3 2531.3 L363.6 2531.0 L363.8 2530.7 L364.1 2530.5 L364.3 2530.3 L364.5 2530.2 L364.8 2530.1 L365.0 2530.1 L365.3 2530.1 L365.5 2530.1 L365.8 2530.1 L366.0 2530.2 L366.3 2530.2 L366.5 2530.2 L366.8 2530.3 L367.0 2530.3 L367.2 2530.3 L367.5 2530.3 L367.7 2530.3 L368.0 2530.4 L368.2 2530.4 L368.5 2530.4 L368.7 2530.5 L369.0 2530.5 L369.2 2530.6 L369.5 2530.8 L369.7 2531.0 L370.0 2531.2 L370.2 2531.5 L370.4 2531.9 L370.7 2532.3 L370.9 2532.7 L371.2 2533.3 L371.4 2533.8 L371.7 2534.5 L371.9 2535.1 L372.2 2535.8 L372.4 2536.5 L372.7 2537.2 L372.9 2538.0 L373.1 2538.7 L373.4 2539.4 L373.6 2540.1 L373.9 2540.9 L374.1 2541.5 L374.4 2542.2 L374.6 2542.9 L374.9 2543.5 L375.1 2544.2 L375.4 2544.8 L375.6 2545.5 L375.8 2546.1 L376.1 2546.8 L376.3 2547.5 L376.6 2548.3 L376.8 2549.0 L377.1 2549.8 L377.3 2550.7 L377.6 2551.6 L377.8 2552.5 L378.1 2553.5 L378.3 2554.5 L378.5 2555.5 L378.8 2556.5 L379.0 2557.6 L379.3 2558.6 L379.5 2559.7 L379.8 2560.7 L380.0 2561.7 L380.3 2562.7 L380.5 2563.6 L380.8 2564.5 L381.0 2565.4 L381.2 2566.2 L381.5 2567.0 L381.7 2567.8 L382.0 2568.5 L382.2 2569.2 L382.5 2569.9 L382.7 2570.6 L383.0 2571.3 L383.2 2572.0 L383.5 2572.7 L383.7 2573.4 L384.0 2574.1 L384.2 2574.8 L384.4 2575.6 L384.7 2576.4 L384.9 2577.2 L385.2 2578.0 L385.4 2578.8 L385.7 2579.6 L385.9 2580.4 L386.2 2581.2 L386.4 2581.9 L386.7 2582.6 L386.9 2583.2 L387.1 2583.8 L387.4 2584.4 L387.6 2584.9 L387.9 2585.3 L388.1 2585.7 L388.4 2586.0 L388.6 2586.2 L388.9 2586.5 L389.1 2586.7 L389.4 2586.8 L389.6 2586.9 L389.8 2587.1 L390.1 2587.2 L390.3 2587.3 L390.6 2587.4 L390.8 2587.5 L391.1 2587.6 L391.3 2587.7 L391.6 2587.8 L391.8 2587.9 L392.1 2588.0 L392.3 2588.2 L392.5 2588.3 L392.8 2588.3 L393.0 2588.4 L393.3 2588.4 L393.5 2588.4 L393.8 2588.4 L394.0 2588.3 L394.3 2588.1 L394.5 2587.9 L394.8 2587.7 L395.0 2587.3 L395.2 2587.0 L395.5 2586.6 L395.7 2586.2 L396.0 2585.7 L396.2 2585.2 L396.5 2584.7 L396.7 2584.2 L397.0 2583.8 L397.2 2583.3 L397.5 2582.8 L397.7 2582.4 L397.9 2581.9 L398.2 2581.5 L398.4 2581.1 L398.7 2580.7 L398.9 2580.4 L399.2 2580.0 L399.4 2579.6 L399.7 2579.3 L399.9 2578.9 L400.2 2578.5 L400.4 2578.0 L400.7 2577.5 L400.9 2577.0 L401.1 2576.5 L401.4 2575.9 L401.6 2575.3 L401.9 2574.6 L402.1 2573.9 L402.4 2573.2 L402.6 2572.5 L402.9 2571.7 L403.1 2571.0 L403.4 2570.3 L403.6 2569.5 L403.8 2568.8 L404.1 2568.2 L404.3 2567.5 L404.6 2566.9 L404.8 2566.3 L405.1 2565.8 L405.3 2565.3 L405.6 2564.8 L405.8 2564.4 L406.1 2563.9 L406.3 2563.5 L406.5 2563.1 L406.8 2562.7 L407.0 2562.3 L407.3 2561.9 L407.5 2561.4 L407.8 2561.0 L408.0 2560.5 L408.3 2560.0 L408.5 2559.5 L408.8 2558.9 L409.0 2558.4 L409.2 2557.8 L409.5 2557.3 L409.7 2556.7 L410.0 2556.2 L410.2 2555.7 L410.5 2555.2 L410.7 2554.7 L411.0 2554.3 L411.2 2554.0 L411.5 2553.7 L411.7 2553.4 L411.9 2553.2 L412.2 2553.1 L412.4 2553.0 L412.7 2552.9 L412.9 2552.9 L413.2 2552.8 L413.4 2552.8 L413.7 2552.8 L413.9 2552.9 L414.2 2552.9 L414.4 2552.9 L414.7 2552.9 L414.9 2552.8 L415.1 2552.8 L415.4 2552.8 L415.6 2552.7 L415.9 2552.7 L416.1 2552.6 L416.4 2552.6 L416.6 2552.6 L416.9 2552.6 L417.1 2552.6 L417.4 2552.7 L417.6 2552.8 L417.8 2553.0 L418.1 2553.2 L418.3 2553.5 L418.6 2553.8 L418.8 2554.2 L419.1 2554.6 L419.3 2555.1 L419.6 2555.6 L419.8 2556.1 L420.1 2556.7 L420.3 2557.2 L420.5 2557.8 L420.8 2558.4 L421.0 2559.0 L421.3 2559.5 L421.5 2560.0 L421.8 2560.6 L422.0 2561.1 L422.3 2561.5 L422.5 2562.0 L422.8 2562.4 L423.0 2562.9 L423.2 2563.3 L423.5 2563.8 L423.7 2564.2 L424.0 2564.7 L424.2 2565.2 L424.5 2565.7 L424.7 2566.3 L425.0 2566.9 L425.2 2567.5 L425.5 2568.1 L425.7 2568.8 L425.9 2569.6 L426.2 2570.3 L426.4 2571.0 L426.7 2571.8 L426.9 2572.6 L427.2 2573.3 L427.4 2574.1 L427.7 2574.8 L427.9 2575.5 L428.2 2576.1 L428.4 2576.7 L428.6 2577.3 L428.9 2577.8 L429.1 2578.3 L429.4 2578.8 L429.6 2579.2 L429.9 2579.6 L430.1 2579.9 L430.4 2580.3 L430.6 2580.6 L430.9 2581.0 L431.1 2581.3 L431.4 2581.7 L431.6 2582.0 L431.8 2582.4 L432.1 2582.8 L432.3 2583.2 L432.6 2583.6 L432.8 2584.1 L433.1 2584.5 L433.3 2584.9 L433.6 2585.3 L433.8 2585.7 L434.1 2586.1 L434.3 2586.4 L434.5 2586.7 L434.8 2586.9 L435.0 2587.1 L435.3 2587.2 L435.5 2587.3 L435.8 2587.3 L436.0 2587.3 L436.3 2587.2 L436.5 2587.0 L436.8 2586.9 L437.0 2586.7 L437.2 2586.4 L437.5 2586.2 L437.7 2585.9 L438.0 2585.7 L438.2 2585.4 L438.5 2585.2 L438.7 2585.0 L439.0 2584.7 L439.2 2584.5 L439.5 2584.3 L439.7 2584.1 L440.0 2583.9 L440.2 2583.7 L440.5 2583.5 L440.7 2583.2 L441.0 2583.0 L441.2 2582.7 L441.5 2582.3 L441.7 2581.9 L442.0 2581.5 L442.2 2581.0 L442.5 2580.4 L442.7 2579.8 L443.0 2579.2 L443.2 2578.5 L443.5 2577.8 L443.7 2577.1 L444.0 2576.3 L444.2 2575.5 L444.5 2574.8 L444.7 2574.0 L445.0 2573.3 L445.2 2572.5 L445.5 2571.8 L445.7 2571.1 L446.0 2570.5 L446.2 2569.8 L446.5 2569.2 L446.7 2568.6 L447.0 2568.0 L447.2 2567.4 L447.5 2566.8 L447.7 2566.2 L448.0 2565.6 L448.2 2565.0 L448.5 2564.4 L448.7 2563.7 L449.0 2563.0 L449.2 2562.2 L449.4 2561.5 L449.7 2560.7 L449.9 2559.8 L450.2 2559.0 L450.4 2558.1 L450.7 2557.3 L450.9 2556.4 L451.2 2555.5 L451.4 2554.7 L451.7 2553.9 L451.9 2553.1 L452.2 2552.4 L452.4 2551.6 L452.7 2551.0 L452.9 2550.4 L453.2 2549.8 L453.4 2549.2 L453.7 2548.7 L453.9 2548.3 L454.2 2547.8 L454.4 2547.4 L454.7 2547.0 L454.9 2546.5 L455.2 2546.1 L455.4 2545.7 L455.7 2545.3 L455.9 2544.8 L456.2 2544.4 L456.4 2543.9 L456.7 2543.4 L456.9 2542.9 L457.2 2542.4 L457.4 2541.9 L457.7 2541.4 L457.9 2540.9 L458.2 2540.5 L458.4 2540.1 L458.7 2539.7 L458.9 2539.4 L459.2 2539.1 L459.4 2538.9 L459.7 2538.7 L459.9 2538.6 L460.2 2538.5 L460.4 2538.5 L460.7 2538.6 L460.9 2538.7 L461.1 2538.8 L461.4 2538.9 L461.6 2539.0 L461.9 2539.2 L462.1 2539.3 L462.4 2539.5 L462.6 2539.6 L462.9 2539.7 L463.1 2539.8 L463.4 2539.8 L463.6 2539.9 L463.9 2539.9 L464.1 2540.0 L464.4 2540.0 L464.6 2540.0 L464.9 2540.1 L465.1 2540.2 L465.4 2540.3 L465.6 2540.4 L465.9 2540.6 L466.1 2540.8 L466.4 2541.0 L466.6 2541.3 L466.9 2541.7 L467.1 2542.1 L467.4 2542.5 L467.6 2542.9 L467.9 2543.4 L468.1 2543.9 L468.4 2544.4 L468.6 2544.9 L468.9 2545.4 L469.1 2545.9 L469.4 2546.4 L469.6 2546.8 L469.9 2547.3 L470.1 2547.7 L470.4 2548.0 L470.6 2548.4 L470.9 2548.7 L471.1 2549.0 L471.4 2549.4 L471.6 2549.7 L471.9 2550.0 L472.1 2550.3 L472.4 2550.6 L472.6 2551.0 L472.9 2551.4 L473.1 2551.8 L473.3 2552.3 L473.6 2552.8 L473.8 2553.3 L474.1 2553.9 L474.3 2554.5 L474.6 2555.1 L474.8 2555.7 L475.1 2556.3 L475.3 2556.9 L475.6 2557.5 L475.8 2558.1 L476.1 2558.6 L476.3 2559.1 L476.6 2559.6 L476.8 2560.1 L477.1 2560.5 L477.3 2560.9 L477.6 2561.2 L477.8 2561.5 L478.1 2561.8 L478.3 2562.1 L478.6 2562.3 L478.8 2562.5 L479.1 2562.8 L479.3 2563.0 L479.6 2563.3 L479.8 2563.6 L480.1 2563.9 L480.3 2564.2 L480.6 2564.5 L480.8 2564.9 L481.1 2565.3 L481.3 2565.7 L481.6 2566.1 L481.8 2566.5 L482.1 2566.9 L482.3 2567.2 L482.6 2567.6 L482.8 2567.9 L483.1 2568.2 L483.3 2568.4 L483.6 2568.6 L483.8 2568.8 L484.1 2568.9 L484.3 2568.9 L484.6 2569.0 L484.8 2568.9 L485.0 2568.9 L485.3 2568.8 L485.5 2568.7 L485.8 2568.6 L486.0 2568.5 L486.3 2568.4 L486.5 2568.2 L486.8 2568.1 L487.0 2568.0 L487.3 2567.9 L487.5 2567.8 L487.8 2567.7 L488.0 2567.6 L488.3 2567.5 L488.5 2567.4 L488.8 2567.2 L489.0 2567.1 L489.3 2566.9 L489.5 2566.7 L489.8 2566.4 L490.0 2566.1 L490.3 2565.8 L490.5 2565.4 L490.8 2564.9 L491.0 2564.5 L491.3 2563.9 L491.5 2563.3 L491.8 2562.7 L492.0 2562.1 L492.3 2561.5 L492.5 2560.8 L492.8 2560.1 L493.0 2559.5 L493.3 2558.9 L493.5 2558.3 L493.8 2557.7 L494.0 2557.2 L494.3 2556.7 L494.5 2556.2 L494.8 2555.8 L495.0 2555.5 L495.3 2555.1 L495.5 2554.8 L495.8 2554.5 L496.0 2554.2 L496.3 2554.0 L496.5 2553.7 L496.8 2553.5 L497.0 2553.2 L497.2 2552.9 L497.5 2552.7 L497.7 2552.4 L498.0 2552.1 L498.2 2551.8 L498.5 2551.5 L498.7 2551.2 L499.0 2551.0 L499.2 2550.7 L499.5 2550.5 L499.7 2550.3 L500.0 2550.2 L500.2 2550.2 L500.5 2550.6 L500.7 2551.4 L501.0 2552.4 L501.2 2553.7 L501.5 2555.1 L501.7 2556.7 L502.0 2558.3 L502.2 2559.8 L502.5 2561.2 L502.7 2562.5 L503.0 2563.4 L503.2 2564.1 L503.5 2564.4 L503.7 2564.5 L504.0 2564.5 L504.2 2564.3 L504.5 2564.1 L504.7 2563.8 L505.0 2563.4 L505.2 2563.0 L505.5 2562.4 L505.7 2561.9 L506.0 2561.2 L506.2 2560.6 L506.5 2559.9 L506.7 2559.3 L507.0 2558.7 L507.2 2558.1 L507.5 2557.6 L507.7 2557.2 L508.0 2556.8 L508.2 2556.5 L508.5 2556.3 L508.7 2556.2 L508.9 2556.2 L509.2 2556.3 L509.4 2556.4 L509.7 2556.6 L509.9 2556.7 L510.2 2556.9 L510.4 2557.1 L510.7 2557.3 L510.9 2557.5 L511.2 2557.7 L511.4 2557.9 L511.7 2558.0 L511.9 2558.1 L512.2 2558.3 L512.4 2558.4 L512.7 2558.5 L512.9 2558.6 L513.2 2558.8 L513.4 2558.9 L513.7 2559.1 L513.9 2559.3 L514.2 2559.6 L514.4 2559.9 L514.7 2560.2 L514.9 2560.6 L515.2 2561.0 L515.4 2561.5 L515.7 2562.0 L515.9 2562.6 L516.2 2563.2 L516.4 2563.8 L516.7 2564.4 L516.9 2565.0 L517.2 2565.6 L517.4 2566.2 L517.7 2566.8 L517.9 2567.3 L518.2 2567.8 L518.4 2568.3 L518.7 2568.8 L518.9 2569.3 L519.2 2569.7 L519.4 2570.1 L519.7 2570.4 L519.9 2570.8 L520.2 2571.2 L520.4 2571.5 L520.7 2571.9 L520.9 2572.3 L521.1 2572.7 L521.4 2573.1 L521.6 2573.6 L521.9 2574.1 L522.1 2574.6 L522.4 2575.1 L522.6 2575.7 L522.9 2576.2 L523.1 2576.8 L523.4 2577.4 L523.6 2578.0 L523.9 2578.5 L524.1 2579.0 L524.4 2579.5 L524.6 2579.9 L524.9 2580.3 L525.1 2580.7 L525.4 2581.0 L525.6 2581.3 L525.9 2581.5 L526.1 2581.6 L526.4 2581.7 L526.6 2581.8 L526.9 2581.9 L527.1 2581.9 L527.4 2582.0 L527.6 2582.0 L527.9 2582.0 L528.1 2582.1 L528.4 2582.1 L528.6 2582.2 L528.9 2582.2 L529.1 2582.3 L529.4 2582.4 L529.6 2582.5 L529.9 2582.6 L530.1 2582.7 L530.4 2582.8 L530.6 2582.9 L530.9 2583.0 L531.1 2583.0 L531.4 2583.1 L531.6 2583.0 L531.9 2583.0 L532.1 2582.9 L532.4 2582.7 L532.6 2582.5 L532.8 2582.3 L533.1 2582.0 L533.3 2581.7 L533.6 2581.3 L533.8 2581.0 L534.1 2580.6 L534.3 2580.2 L534.6 2579.9 L534.8 2579.5 L535.1 2579.2 L535.3 2578.9 L535.6 2578.6 L535.8 2578.3 L536.1 2578.1 L536.3 2577.9 L536.6 2577.7 L536.8 2577.5 L537.1 2577.3 L537.3 2577.1 L537.6 2576.9 L537.8 2576.7 L538.1 2576.4 L538.3 2576.1 L538.6 2575.8 L538.8 2575.5 L539.1 2575.1 L539.3 2574.7 L539.6 2574.2 L539.8 2573.8 L540.1 2573.2 L540.3 2572.7 L540.6 2572.1 L540.8 2571.6 L541.1 2571.0 L541.3 2570.4 L541.6 2569.9 L541.8 2569.4 L542.1 2568.8 L542.3 2568.4 L542.6 2567.9 L542.8 2567.5 L543.1 2567.1 L543.3 2566.8 L543.6 2566.4 L543.8 2566.1 L544.1 2565.8 L544.3 2565.5 L544.6 2565.2 L544.8 2564.9 L545.0 2564.5 L545.3 2564.2 L545.5 2563.8 L545.8 2563.4 L546.0 2562.9 L546.3 2562.5 L546.5 2562.0 L546.8 2561.4 L547.0 2560.9 L547.3 2560.3 L547.5 2559.8 L547.8 2559.2 L548.0 2558.6 L548.3 2558.1 L548.5 2557.6 L548.8 2557.1 L549.0 2556.7 L549.3 2556.2 L549.5 2555.9 L549.8 2555.5 L550.0 2555.2 L550.3 2555.0 L550.5 2554.7 L550.8 2554.5 L551.0 2554.3 L551.3 2554.2 L551.5 2554.0 L551.8 2553.8 L552.0 2553.6 L552.3 2553.4 L552.5 2553.2 L552.8 2552.9 L553.0 2552.7 L553.3 2552.4 L553.5 2552.0 L553.8 2551.7 L554.0 2551.4 L554.3 2551.0 L554.5 2550.7 L554.8 2550.3 L555.0 2550.0 L555.3 2549.7 L555.5 2549.5 L555.8 2549.2 L556.0 2549.1 L556.3 2548.9 L556.5 2548.8 L556.7 2548.8 L557.0 2548.7 L557.2 2548.8 L557.5 2548.8 L557.7 2548.9 L558.0 2549.0 L558.2 2549.1 L558.5 2549.2 L558.7 2549.4 L559.0 2549.5 L559.2 2549.6 L559.5 2549.7 L559.7 2549.8 L560.0 2549.9 L560.2 2550.0 L560.5 2550.0 L560.7 2550.1 L561.0 2550.2 L561.2 2550.2 L561.5 2550.3 L561.7 2550.4 L562.0 2550.6 L562.2 2550.7 L562.5 2550.9 L562.7 2551.2 L563.0 2551.5 L563.2 2551.8 L563.5 2552.2 L563.7 2552.7 L564.0 2553.2 L564.2 2553.7 L564.5 2554.3 L564.7 2554.9 L565.0 2555.5 L565.2 2556.1 L565.5 2556.8 L565.7 2557.4 L566.0 2558.0 L566.2 2558.7 L566.5 2559.3 L566.7 2559.8 L567.0 2560.4 L567.2 2560.9 L567.5 2561.4 L567.7 2561.9 L568.0 2562.4 L568.2 2562.9 L568.5 2563.4 L568.7 2563.9 L568.9 2564.4 L569.2 2564.9 L569.4 2565.4 L569.7 2566.0 L569.9 2566.6 L570.2 2567.2 L570.4 2567.9 L570.7 2568.6 L570.9 2569.3 L571.2 2570.1 L571.4 2570.8 L571.7 2571.6 L571.9 2572.4 L572.2 2573.2 L572.4 2573.9 L572.7 2574.6 L572.9 2575.3 L573.2 2576.0 L573.4 2576.7 L573.7 2577.3 L573.9 2577.8 L574.2 2578.3 L574.4 2578.8 L574.7 2579.2 L574.9 2579.6 L575.2 2580.0 L575.4 2580.4 L575.7 2580.7 L575.9 2581.1 L576.2 2581.4 L576.4 2581.8 L576.7 2582.1 L576.9 2582.5 L577.2 2582.9 L577.4 2583.3 L577.7 2583.7 L577.9 2584.2 L578.2 2584.6 L578.4 2585.1 L578.7 2585.5 L578.9 2585.9 L579.2 2586.3 L579.4 2586.6 L579.7 2586.9 L579.9 2587.2 L580.2 2587.4 L580.4 2587.6 L580.6 2587.7 L580.9 2587.8 L581.1 2587.8 L581.4 2587.7 L581.6 2587.6 L581.9 2587.5 L582.1 2587.3 L582.4 2587.1 L582.6 2586.9 L582.9 2586.7 L583.1 2586.5 L583.4 2586.2 L583.6 2586.0 L583.9 2585.8 L584.1 2585.6 L584.4 2585.4 L584.6 2585.2 L584.9 2585.1 L585.1 2584.9 L585.4 2584.7 L585.6 2584.5 L585.9 2584.3 L586.1 2584.0 L586.4 2583.8 L586.6 2583.5 L586.9 2583.1 L587.1 2582.7 L587.4 2582.2 L587.6 2581.7 L587.9 2581.2 L588.1 2580.6 L588.4 2579.9 L588.6 2579.2 L588.9 2578.5 L589.1 2577.8 L589.4 2577.0 L589.6 2576.3 L589.9 2575.5 L590.1 2574.8 L590.4 2574.1 L590.6 2573.4 L590.9 2572.7 L591.1 2572.1 L591.4 2571.5 L591.6 2570.9 L591.9 2570.3 L592.1 2569.7 L592.4 2569.2 L592.6 2568.6 L592.8 2568.1 L593.1 2567.5 L593.3 2567.0 L593.6 2566.4 L593.8 2565.8 L594.1 2565.1 L594.3 2564.4 L594.6 2563.7 L594.8 2563.0 L595.1 2562.2 L595.3 2561.4 L595.6 2560.6 L595.8 2559.8 L596.1 2559.0 L596.3 2558.3 L596.6 2557.5 L596.8 2556.7 L597.1 2556.0 L597.3 2555.3 L597.6 2554.7 L597.8 2554.1 L598.1 2553.6 L598.3 2553.1 L598.6 2552.6 L598.8 2552.2 L599.1 2551.8 L599.3 2551.5 L599.6 2551.1 L599.8 2550.8 L600.1 2550.5 L600.3 2550.2 L600.6 2549.9 L600.8 2549.6 L601.1 2549.3 L601.3 2548.9 L601.6 2548.6 L601.8 2548.2 L602.1 2547.8 L602.3 2547.5 L602.6 2547.1 L602.8 2546.8 L603.1 2546.4 L603.3 2546.1 L603.6 2545.8 L603.8 2545.6 L604.1 2545.4 L604.3 2545.2 L604.6 2545.2 L604.8 2545.1 L605.0 2545.1 L605.3 2545.2 L605.5 2545.3 L605.8 2545.5 L606.0 2545.7 L606.3 2545.9 L606.5 2546.2 L606.8 2546.5 L607.0 2546.8 L607.3 2547.0 L607.5 2547.3 L607.8 2547.6 L608.0 2547.9 L608.3 2548.1 L608.5 2548.3 L608.8 2548.6 L609.0 2548.8 L609.3 2549.0 L609.5 2549.2 L609.8 2549.4 L610.0 2549.6 L610.3 2549.8 L610.5 2550.1 L610.8 2550.3 L611.0 2550.7 L611.3 2551.0 L611.5 2551.4 L611.8 2551.9 L612.0 2552.4 L612.3 2552.9 L612.5 2553.5 L612.8 2554.1 L613.0 2554.7 L613.3 2555.3 L613.5 2556.0 L613.8 2556.6 L614.0 2557.2 L614.3 2557.8 L614.5 2558.4 L614.8 2559.0 L615.0 2559.6 L615.3 2560.1 L615.5 2560.5 L615.8 2561.0 L616.0 2561.4 L616.3 2561.8 L616.5 2562.1 L616.7 2562.5 L617.0 2562.8 L617.2 2563.2 L617.5 2563.5 L617.7 2563.9 L618.0 2564.3 L618.2 2564.7 L618.5 2565.1 L618.7 2565.6 L619.0 2566.0 L619.2 2566.5 L619.5 2567.0 L619.7 2567.5 L620.0 2568.0 L620.2 2568.5 L620.5 2569.0 L620.7 2569.5 L621.0 2569.9 L621.2 2570.3 L621.5 2570.7 L621.7 2571.0 L622.0 2571.2 L622.2 2571.4 L622.5 2571.6 L622.7 2571.7 L623.0 2571.8 L623.2 2571.8 L623.5 2571.8 L623.7 2571.8 L624.0 2571.7 L624.2 2571.7 L624.5 2571.6 L624.7 2571.5 L625.0 2571.5 L625.2 2571.4 L625.5 2571.4 L625.7 2571.4 L626.0 2571.4 L626.2 2571.4 L626.5 2571.4 L626.7 2571.4 L627.0 2571.5 L627.2 2571.5 L627.5 2571.5 L627.7 2571.5 L628.0 2571.4 L628.2 2571.3 L628.5 2571.2 L628.7 2571.1 L628.9 2570.8 L629.2 2570.6 L629.4 2570.3 L629.7 2569.9 L629.9 2569.6 L630.2 2569.1 L630.4 2568.7 L630.7 2568.3 L630.9 2567.8 L631.2 2567.3 L631.4 2566.9 L631.7 2566.4 L631.9 2566.0 L632.2 2565.6 L632.4 2565.2 L632.7 2564.8 L632.9 2564.5 L633.2 2564.1 L633.4 2563.8 L633.7 2563.5 L633.9 2563.2 L634.2 2562.9 L634.4 2562.6 L634.7 2562.3 L634.9 2561.9 L635.2 2561.6 L635.4 2561.2 L635.7 2560.7 L635.9 2560.2 L636.2 2559.7 L636.4 2559.2 L636.7 2558.6 L636.9 2558.0 L637.2 2557.4 L637.4 2556.7 L637.7 2556.1 L637.9 2555.4 L638.2 2554.8 L638.4 2554.2 L638.7 2553.6 L638.9 2553.0 L639.2 2552.5 L639.4 2552.0 L639.7 2551.5 L639.9 2551.1 L640.2 2550.7 L640.4 2550.3 L640.6 2550.0 L640.9 2549.6 L641.1 2549.3 L641.4 2549.0 L641.6 2548.6 L641.9 2548.3 L642.1 2547.9 L642.4 2547.6 L642.6 2547.1 L642.9 2546.7 L643.1 2546.3 L643.4 2545.8 L643.6 2545.3 L643.9 2544.8 L644.1 2544.3 L644.4 2543.7 L644.6 2543.2 L644.9 2542.7 L645.1 2542.3 L645.4 2541.8 L645.6 2541.4 L645.9 2541.1 L646.1 2540.7 L646.4 2540.5 L646.6 2540.2 L646.9 2540.0 L647.1 2539.9 L647.4 2539.8 L647.6 2539.7 L647.9 2539.6 L648.1 2539.6 L648.4 2539.5 L648.6 2539.5 L648.9 2539.4 L649.1 2539.4 L649.4 2539.3 L649.6 2539.2 L649.9 2539.1 L650.1 2539.0 L650.4 2538.9 L650.6 2538.7 L650.9 2538.6 L651.1 2538.4 L651.4 2538.3 L651.6 2538.1 L651.9 2538.0 L652.1 2537.9 L652.4 2537.9 L652.6 2537.9 L652.8 2537.9 L653.1 2538.0 L653.3 2538.1 L653.6 2538.2 L653.8 2538.5 L654.1 2538.7 L654.3 2539.0 L654.6 2539.3 L654.8 2539.6 L655.1 2540.0 L655.3 2540.3 L655.6 2540.7 L655.8 2541.0 L656.1 2541.3 L656.3 2541.6 L656.6 2541.9 L656.8 2542.2 L657.1 2542.4 L657.3 2542.7 L657.6 2542.9 L657.8 2543.1 L658.1 2543.3 L658.3 2543.5 L658.6 2543.7 L658.8 2543.9 L659.1 2544.2 L659.3 2544.5 L659.6 2544.8 L659.8 2545.1 L660.1 2545.5 L660.3 2546.0 L660.6 2546.5 L660.8 2547.0 L661.1 2547.5 L661.3 2548.1 L661.6 2548.7 L661.8 2549.3 L662.1 2549.9 L662.3 2550.5 L662.6 2551.1 L662.8 2551.6 L663.1 2552.2 L663.3 2552.7 L663.6 2553.2 L663.8 2553.6 L664.1 2554.1 L664.3 2554.5 L664.5 2554.9 L664.8 2555.2 L665.0 2555.6 L665.3 2555.9 L665.5 2556.3 L665.8 2556.6 L666.0 2557.0 L666.3 2557.4 L666.5 2557.8 L666.8 2558.3 L667.0 2558.7 L667.3 2559.3 L667.5 2559.8 L667.8 2560.4 L668.0 2560.9 L668.3 2561.5 L668.5 2562.1 L668.8 2562.7 L669.0 2563.3 L669.3 2563.9 L669.5 2564.4 L669.8 2565.0 L670.0 2565.4 L670.3 2565.9 L670.5 2566.3 L670.8 2566.7 L671.0 2567.0 L671.3 2567.3 L671.5 2567.5 L671.8 2567.8 L672.0 2568.0 L672.3 2568.2 L672.5 2568.4 L672.8 2568.6 L673.0 2568.8 L673.3 2569.0 L673.5 2569.2 L673.8 2569.5 L674.0 2569.8 L674.3 2570.1 L674.5 2570.4 L674.8 2570.7 L675.0 2571.0 L675.3 2571.4 L675.5 2571.7 L675.8 2572.0 L676.0 2572.4 L676.3 2572.6 L676.5 2572.9 L676.7 2573.1 L677.0 2573.3 L677.2 2573.4 L677.5 2573.5 L677.7 2573.5 L678.0 2573.5 L678.2 2573.5 L678.5 2573.4 L678.7 2573.3 L679.0 2573.1 L679.2 2573.0 L679.5 2572.8 L679.7 2572.6 L680.0 2572.4 L680.2 2572.2 L680.5 2572.0 L680.7 2571.8 L681.0 2571.5 L681.2 2571.3 L681.5 2571.1 L681.7 2570.9 L682.0 2570.7 L682.2 2570.5 L682.5 2570.3 L682.7 2570.0 L683.0 2569.7 L683.2 2569.3 L683.5 2569.0 L683.7 2568.5 L684.0 2568.0 L684.2 2567.5 L684.5 2566.9 L684.7 2566.3 L685.0 2565.6 L685.2 2564.8 L685.5 2564.0 L685.7 2563.2 L686.0 2562.4 L686.2 2561.5 L686.5 2560.7 L686.7 2559.8 L687.0 2559.0 L687.2 2558.1 L687.5 2557.3 L687.7 2556.5 L688.0 2555.7 L688.2 2555.0 L688.4 2554.3 L688.7 2553.6 L688.9 2552.9 L689.2 2552.2 L689.4 2551.5 L689.7 2550.8 L689.9 2550.1 L690.2 2549.4 L690.4 2548.7 L690.7 2548.0 L690.9 2547.2 L691.2 2546.4 L691.4 2545.6 L691.7 2544.7 L691.9 2543.8 L692.2 2542.9 L692.4 2542.0 L692.7 2541.1 L692.9 2540.3 L693.2 2539.4 L693.4 2538.5 L693.7 2537.7 L693.9 2536.9 L694.2 2536.2 L694.4 2535.5 L694.7 2534.8 L694.9 2534.2 L695.2 2533.7 L695.4 2533.2 L695.7 2532.8 L695.9 2532.4 L696.2 2532.0 L696.4 2531.7 L696.7 2531.3 L696.9 2531.0 L697.2 2530.7 L697.4 2530.5 L697.7 2530.2 L697.9 2529.9 L698.2 2529.6 L698.4 2529.3 L698.7 2529.0 L698.9 2528.7 L699.2 2528.4 L699.4 2528.1 L699.7 2527.8 L699.9 2527.6 L700.2 2527.4 L700.4 2527.2 L700.6 2527.1 L700.9 2527.0 L701.1 2527.0 L701.4 2527.0 L701.6 2527.1 L701.9 2527.2 L702.1 2527.4 L702.4 2527.6 L702.6 2527.9 L702.9 2528.2 L703.1 2528.5 L703.4 2528.9 L703.6 2529.3 L703.9 2529.6 L704.1 2530.0 L704.4 2530.4 L704.6 2530.8 L704.9 2531.1 L705.1 2531.5 L705.4 2531.8 L705.6 2532.1 L705.9 2532.4 L706.1 2532.7 L706.4 2533.0 L706.6 2533.3 L706.9 2533.6 L707.1 2533.9 L707.4 2534.3 L707.6 2534.7 L707.9 2535.1 L708.1 2535.6 L708.4 2536.1 L708.6 2536.6 L708.9 2537.2 L709.1 2537.8 L709.4 2538.5 L709.6 2539.2 L709.9 2539.9 L710.1 2540.6 L710.4 2541.4 L710.6 2542.1 L710.9 2542.8 L711.1 2543.5 L711.4 2544.2 L711.6 2544.9 L711.9 2545.5 L712.1 2546.1 L712.3 2546.7 L712.6 2547.3 L712.8 2547.8 L713.1 2548.3 L713.3 2548.7 L713.6 2549.2 L713.8 2549.7 L714.1 2550.1 L714.3 2550.6 L714.6 2551.1 L714.8 2551.6 L715.1 2552.1 L715.3 2552.6 L715.6 2553.2 L715.8 2553.8 L716.1 2554.4 L716.3 2555.0 L716.6 2555.7 L716.8 2556.3 L717.1 2557.0 L717.3 2557.6 L717.6 2558.2 L717.8 2558.8 L718.1 2559.3 L718.3 2559.8 L718.6 2560.2 L718.8 2560.7 L719.1 2561.0 L719.3 2561.3 L719.6 2561.6 L719.8 2561.8 L720.1 2562.0 L720.3 2562.1 L720.6 2562.3 L720.8 2562.4 L721.1 2562.5 L721.3 2562.6 L721.6 2562.6 L721.8 2562.7 L722.1 2562.9 L722.3 2563.0 L722.6 2563.1 L722.8 2563.3 L723.1 2563.4 L723.3 2563.6 L723.6 2563.7 L723.8 2563.9 L724.1 2564.0 L724.3 2564.1 L724.5 2564.2 L724.8 2564.3 L725.0 2564.3 L725.3 2564.3 L725.5 2564.2 L725.8 2564.1 L726.0 2563.9 L726.3 2563.7 L726.5 2563.4 L726.8 2563.1 L727.0 2562.8 L727.3 2562.4 L727.5 2562.1 L727.8 2561.7 L728.0 2561.3 L728.3 2560.8 L728.5 2560.5 L728.8 2560.1 L729.0 2559.7 L729.3 2559.4 L729.5 2559.1 L729.8 2558.7 L730.0 2558.5 L730.3 2558.2 L730.5 2557.9 L730.8 2557.7 L731.0 2557.4 L731.3 2557.1 L731.5 2556.8 L731.8 2556.5 L732.0 2556.1 L732.3 2555.7 L732.5 2555.3 L732.8 2554.8 L733.0 2554.3 L733.3 2553.7 L733.5 2553.1 L733.8 2552.5 L734.0 2551.9 L734.3 2551.3 L734.5 2550.6 L734.8 2550.0 L735.0 2549.3 L735.3 2548.7 L735.5 2548.1 L735.8 2547.5 L736.0 2547.0 L736.2 2546.5 L736.5 2546.0 L736.7 2545.6 L737.0 2545.2 L737.2 2544.8 L737.5 2544.5 L737.7 2544.1 L738.0 2543.8 L738.2 2543.5 L738.5 2543.1 L738.7 2542.8 L739.0 2542.4 L739.2 2542.0 L739.5 2541.6 L739.7 2541.2 L740.0 2540.7 L740.2 2540.2 L740.5 2539.7 L740.7 2539.2 L741.0 2538.7 L741.2 2538.2 L741.5 2537.7 L741.7 2537.3 L742.0 2536.8 L742.2 2536.4 L742.5 2536.0 L742.7 2535.7 L743.0 2535.4 L743.2 2535.2 L743.5 2535.0 L743.7 2534.8 L744.0 2534.7 L744.2 2534.6 L744.5 2534.6 L744.7 2534.6 L745.0 2534.6 L745.2 2534.6 L745.5 2534.6 L745.7 2534.6 L746.0 2534.7 L746.2 2534.6 L746.5 2534.6 L746.7 2534.6 L747.0 2534.5 L747.2 2534.5 L747.5 2534.4 L747.7 2534.3 L748.0 2534.2 L748.2 2534.1 L748.4 2534.1 L748.7 2534.0 L748.9 2534.0 L749.2 2534.0 L749.4 2534.1 L749.7 2534.2 L749.9 2534.3 L750.2 2534.5 L750.4 2534.7 L750.7 2535.0 L750.9 2535.3 L751.2 2535.7 L751.4 2536.0 L751.7 2536.4 L751.9 2536.8 L752.2 2537.2 L752.4 2537.6 L752.7 2538.0 L752.9 2538.4 L753.2 2538.8 L753.4 2539.1 L753.7 2539.4 L753.9 2539.7 L754.2 2540.0 L754.4 2540.3 L754.7 2540.5 L754.9 2540.8 L755.2 2541.0 L755.4 2541.3 L755.7 2541.5 L755.9 2541.9 L756.1 2542.2 L756.4 2542.6 L756.6 2543.0 L756.9 2543.4 L757.1 2543.9 L757.4 2544.4 L757.6 2545.0 L757.9 2545.6 L758.1 2546.2 L758.4 2546.9 L758.6 2547.5 L758.9 2548.2 L759.1 2548.8 L759.4 2549.4 L759.6 2550.1 L759.9 2550.6 L760.1 2551.2 L760.4 2551.7 L760.6 2552.3 L760.9 2552.7 L761.1 2553.2 L761.4 2553.6 L761.6 2554.0 L761.9 2554.4 L762.1 2554.8 L762.4 2555.3 L762.6 2555.7 L762.9 2556.1 L763.1 2556.6 L763.4 2557.1 L763.6 2557.6 L763.8 2558.1 L764.1 2558.7 L764.3 2559.3 L764.6 2559.9 L764.8 2560.6 L765.1 2561.3 L765.3 2561.9 L765.6 2562.6 L765.8 2563.3 L766.1 2563.9 L766.3 2564.5 L766.6 2565.1 L766.8 2565.7 L767.1 2566.2 L767.3 2566.7 L767.6 2567.2 L767.8 2567.6 L768.1 2568.0 L768.3 2568.3 L768.6 2568.7 L768.8 2569.0 L769.1 2569.3 L769.3 2569.6 L769.6 2569.9 L769.8 2570.2 L770.1 2570.5 L770.3 2570.9 L770.6 2571.2 L770.8 2571.6 L771.1 2572.1 L771.3 2572.5 L771.5 2572.9 L771.8 2573.4 L772.0 2573.9 L772.3 2574.3 L772.5 2574.8 L772.8 2575.2 L773.0 2575.7 L773.3 2576.1 L773.5 2576.4 L773.8 2576.7 L774.0 2577.0 L774.3 2577.2 L774.5 2577.4 L774.8 2577.5 L775.0 2577.6 L775.3 2577.7 L775.5 2577.7 L775.8 2577.7 L776.0 2577.7 L776.3 2577.7 L776.5 2577.7 L776.8 2577.7 L777.0 2577.7 L777.3 2577.7 L777.5 2577.8 L777.8 2577.8 L778.0 2577.9 L778.3 2578.0 L778.5 2578.1 L778.8 2578.2 L779.0 2578.3 L779.2 2578.4 L779.5 2578.4 L779.7 2578.4 L780.0 2578.4 L780.2 2578.3 L780.5 2578.2 L780.7 2577.9 L781.0 2577.7 L781.2 2577.3 L781.5 2577.0 L781.7 2576.5 L782.0 2576.0 L782.2 2575.5 L782.5 2574.9 L782.7 2574.3 L783.0 2573.7 L783.2 2573.1 L783.5 2572.5 L783.7 2571.9 L784.0 2571.3 L784.2 2570.7 L784.5 2570.1 L784.7 2569.6 L785.0 2569.1 L785.2 2568.6 L785.5 2568.1 L785.7 2567.6 L786.0 2567.2 L786.2 2566.7 L786.5 2566.2 L786.7 2565.8 L787.0 2565.3 L787.2 2564.8 L787.4 2564.3 L787.7 2563.8 L787.9 2563.2 L788.2 2562.6 L788.4 2562.0 L788.7 2561.4 L788.9 2560.8 L789.2 2560.2 L789.4 2559.5 L789.7 2558.9 L789.9 2558.3 L790.2 2557.8 L790.4 2557.3 L790.7 2556.8 L790.9 2556.4 L791.2 2556.0 L791.4 2555.7 L791.7 2555.5 L791.9 2555.3 L792.2 2555.1 L792.4 2555.1 L792.7 2555.0 L792.9 2555.0 L793.2 2555.1 L793.4 2555.1 L793.7 2555.2 L793.9 2555.3 L794.2 2555.4 L794.4 2555.5 L794.7 2555.6 L794.9 2555.7 L795.1 2555.7 L795.4 2555.8 L795.6 2555.8 L795.9 2555.9 L796.1 2555.9 L796.4 2556.0 L796.6 2556.0 L796.9 2556.1 L797.1 2556.2 L797.4 2556.4 L797.6 2556.6 L797.9 2556.8 L798.1 2557.1 L798.4 2557.4 L798.6 2557.8 L798.9 2558.2 L799.1 2558.7 L799.4 2559.2 L799.6 2559.7 L799.9 2560.3 L800.1 2560.8 L800.4 2561.4 L800.6 2561.9 L800.9 2562.5 L801.1 2563.0 L801.4 2563.5 L801.6 2564.0 L801.9 2564.4 L802.1 2564.9 L802.4 2565.2 L802.6 2565.6 L802.8 2565.9 L803.1 2566.3 L803.3 2566.6 L803.6 2566.9 L803.8 2567.2 L804.1 2567.5 L804.3 2567.8 L804.6 2568.1 L804.8 2568.5 L805.1 2568.9 L805.3 2569.3 L805.6 2569.7 L805.8 2570.2 L806.1 2570.6 L806.3 2571.1 L806.6 2571.6 L806.8 2572.0 L807.1 2572.5 L807.3 2572.9 L807.6 2573.3 L807.8 2573.7 L808.1 2574.0 L808.3 2574.2 L808.6 2574.5 L808.8 2574.6 L809.1 2574.7 L809.3 2574.8 L809.6 2574.8 L809.8 2574.8 L810.1 2574.7 L810.3 2574.7 L810.5 2574.6 L810.8 2574.4 L811.0 2574.3 L811.3 2574.2 L811.5 2574.1 L811.8 2574.0 L812.0 2574.0 L812.3 2573.9 L812.5 2573.9 L812.8 2573.9 L813.0 2573.9 L813.3 2573.9 L813.5 2573.9 L813.8 2574.0 L814.0 2574.0 L814.3 2573.9 L814.5 2573.9 L814.8 2573.8 L815.0 2573.7 L815.3 2573.6 L815.5 2573.4 L815.8 2573.1 L816.0 2572.9 L816.3 2572.5 L816.5 2572.2 L816.8 2571.8 L817.0 2571.4 L817.3 2571.0 L817.5 2570.6 L817.8 2570.1 L818.0 2569.7 L818.2 2569.3 L818.5 2568.9 L818.7 2568.5 L819.0 2568.2 L819.2 2567.9 L819.5 2567.6 L819.7 2567.3 L820.0 2567.1 L820.2 2566.8 L820.5 2566.6 L820.7 2566.4 L821.0 2566.1 L821.2 2565.9 L821.5 2565.6 L821.7 2565.3 L822.0 2564.9 L822.2 2564.5 L822.5 2564.1 L822.7 2563.7 L823.0 2563.2 L823.2 2562.7 L823.5 2562.1 L823.7 2561.6 L824.0 2561.0 L824.2 2560.4 L824.5 2559.8 L824.7 2559.3 L825.0 2558.7 L825.2 2558.2 L825.5 2557.7 L825.7 2557.2 L825.9 2556.7 L826.2 2556.3 L826.4 2556.0 L826.7 2555.6 L826.9 2555.3 L827.2 2555.0 L827.4 2554.7 L827.7 2554.4 L827.9 2554.1 L828.2 2553.8 L828.4 2553.5 L828.7 2553.2 L828.9 2552.8 L829.2 2552.4 L829.4 2552.0 L829.7 2551.6 L829.9 2551.1 L830.2 2550.6 L830.4 2550.1 L830.7 2549.6 L830.9 2549.1 L831.2 2548.6 L831.4 2548.1 L831.7 2547.6 L831.9 2547.1 L832.2 2546.7 L832.4 2546.3 L832.7 2546.0 L832.9 2545.7 L833.2 2545.4 L833.4 2545.2 L833.6 2545.0 L833.9 2544.8 L834.1 2544.7 L834.4 2544.6 L834.6 2544.4 L834.9 2544.3 L835.1 2544.2 L835.4 2544.1 L835.6 2544.0 L835.9 2543.8 L836.1 2543.7 L836.4 2543.5 L836.6 2543.3 L836.9 2543.0 L837.1 2542.8 L837.4 2542.5 L837.6 2542.3 L837.9 2542.0 L838.1 2541.7 L838.4 2541.5 L838.6 2541.3 L838.9 2541.1 L839.1 2541.0 L839.4 2540.9 L839.6 2540.9 L839.9 2540.8 L840.1 2540.9 L840.4 2541.0 L840.6 2541.1 L840.9 2541.2 L841.1 2541.4 L841.4 2541.6 L841.6 2541.8 L841.8 2542.0 L842.1 2542.3 L842.3 2542.5 L842.6 2542.7 L842.8 2542.9 L843.1 2543.0 L843.3 2543.2 L843.6 2543.3 L843.8 2543.4 L844.1 2543.5 L844.3 2543.6 L844.6 2543.7 L844.8 2543.8 L845.1 2543.9 L845.3 2544.0 L845.6 2544.2 L845.8 2544.3 L846.1 2544.6 L846.3 2544.8 L846.6 2545.1 L846.8 2545.5 L847.1 2545.9 L847.3 2546.3 L847.6 2546.8 L847.8 2547.3 L848.1 2547.8 L848.3 2548.3 L848.6 2548.8 L848.8 2549.4 L849.1 2549.9 L849.3 2550.4 L849.5 2550.9 L849.8 2551.4 L850.0 2551.8 L850.3 2552.2 L850.5 2552.6 L850.8 2553.0 L851.0 2553.4 L851.3 2553.7 L851.5 2554.0 L851.8 2554.3 L852.0 2554.7 L852.3 2555.0 L852.5 2555.4 L852.8 2555.8 L853.0 2556.2 L853.3 2556.6 L853.5 2557.1 L853.8 2557.6 L854.0 2558.2 L854.3 2558.8 L854.5 2559.4 L854.8 2560.0 L855.0 2560.6 L855.3 2561.2 L855.5 2561.9 L855.8 2562.5 L856.0 2563.1 L856.3 2563.6 L856.5 2564.2 L856.8 2564.7 L857.0 2565.2 L857.2 2565.6 L857.5 2566.0 L857.7 2566.3 L858.0 2566.7 L858.2 2567.0 L858.5 2567.3 L858.7 2567.5 L859.0 2567.8 L859.2 2568.1 L859.5 2568.4 L859.7 2568.7 L860.0 2569.0 L860.2 2569.4 L860.5 2569.8 L860.7 2570.2 L861.0 2570.6 L861.2 2571.0 L861.5 2571.5 L861.7 2571.9 L862.0 2572.4 L862.2 2572.8 L862.5 2573.3 L862.7 2573.7 L863.0 2574.1 L863.2 2574.4 L863.5 2574.7 L863.7 2575.0 L864.0 2575.2 L864.2 2575.4 L864.5 2575.5 L864.7 2575.6 L864.9 2575.6 L865.2 2575.6 L865.4 2575.6 L865.7 2575.6 L865.9 2575.6 L866.2 2575.6 L866.4 2575.6 L866.7 2575.6 L866.9 2575.6 L867.2 2575.6 L867.4 2575.7 L867.7 2575.7 L867.9 2575.8 L868.2 2575.9 L868.4 2576.0 L868.7 2576.1 L868.9 2576.2 L869.2 2576.3 L869.4 2576.3 L869.7 2576.3 L869.9 2576.3 L870.2 2576.2 L870.4 2576.1 L870.7 2575.9 L870.9 2575.7 L871.2 2575.4 L871.4 2575.1 L871.7 2574.7 L871.9 2574.3 L872.2 2573.9 L872.4 2573.4 L872.6 2572.9 L872.9 2572.5 L873.1 2572.0 L873.4 2571.5 L873.6 2571.0 L873.9 2570.6 L874.1 2570.1 L874.4 2569.7 L874.6 2569.3 L874.9 2568.9 L875.1 2568.6 L875.4 2568.2 L875.6 2567.9 L875.9 2567.5 L876.1 2567.1 L876.4 2566.7 L876.6 2566.3 L876.9 2565.9 L877.1 2565.4 L877.4 2564.9 L877.6 2564.3 L877.9 2563.7 L878.1 2563.1 L878.4 2562.4 L878.6 2561.7 L878.9 2561.0 L879.1 2560.3 L879.4 2559.6 L879.6 2558.8 L879.9 2558.1 L880.1 2557.3 L880.3 2556.6 L880.6 2556.0 L880.8 2555.3 L881.1 2554.7 L881.3 2554.1 L881.6 2553.6 L881.8 2553.1 L882.1 2552.6 L882.3 2552.2 L882.6 2551.7 L882.8 2551.3 L883.1 2550.9 L883.3 2550.4 L883.6 2550.0 L883.8 2549.5 L884.1 2549.1 L884.3 2548.6 L884.6 2548.1 L884.8 2547.5 L885.1 2546.9 L885.3 2546.4 L885.6 2545.8 L885.8 2545.2 L886.1 2544.6 L886.3 2544.0 L886.6 2543.4 L886.8 2542.9 L887.1 2542.4 L887.3 2541.9 L887.6 2541.5 L887.8 2541.1 L888.0 2540.7 L888.3 2540.4 L888.5 2540.2 L888.8 2540.0 L889.0 2539.8 L889.3 2539.7 L889.5 2539.6 L889.8 2539.5 L890.0 2539.5 L890.3 2539.4 L890.5 2539.4 L890.8 2539.3 L891.0 2539.2 L891.3 2539.2 L891.5 2539.1 L891.8 2539.0 L892.0 2538.8 L892.3 2538.7 L892.5 2538.6 L892.8 2538.4 L893.0 2538.3 L893.3 2538.2 L893.5 2538.1 L893.8 2538.0 L894.0 2538.0 L894.3 2538.0 L894.5 2538.0 L894.8 2538.1 L895.0 2538.3 L895.3 2538.4 L895.5 2538.7 L895.7 2538.9 L896.0 2539.2 L896.2 2539.5 L896.5 2539.9 L896.7 2540.2 L897.0 2540.6 L897.2 2541.0 L897.5 2541.3 L897.7 2541.7 L898.0 2542.0 L898.2 2542.3 L898.5 2542.6 L898.7 2542.8 L899.0 2543.1 L899.2 2543.3 L899.5 2543.5 L899.7 2543.7 L900.0 2543.9 L900.2 2544.1 L900.5 2544.3 L900.7 2544.6 L901.0 2544.9 L901.2 2545.2 L901.5 2545.5 L901.7 2545.9 L902.0 2546.3 L902.2 2546.7 L902.5 2547.2 L902.7 2547.7 L903.0 2548.2 L903.2 2548.8 L903.5 2549.3 L903.7 2549.9 L903.9 2550.4 L904.2 2551.0 L904.4 2551.5 L904.7 2552.0 L904.9 2552.4 L905.2 2552.9 L905.4 2553.3 L905.7 2553.6 L905.9 2554.0 L906.2 2554.2 L906.4 2554.5 L906.7 2554.8 L906.9 2555.0 L907.2 2555.3 L907.4 2555.5 L907.7 2555.8 L907.9 2556.0 L908.2 2556.3 L908.4 2556.6 L908.7 2557.0 L908.9 2557.3 L909.2 2557.7 L909.4 2558.1 L909.7 2558.5 L909.9 2558.9 L910.2 2559.4 L910.4 2559.8 L910.7 2560.2 L910.9 2560.6 L911.2 2561.0 L911.4 2561.3 L911.6 2561.6 L911.9 2561.9 L912.1 2562.1 L912.4 2562.3 L912.6 2562.4 L912.9 2562.5 L913.1 2562.5 L913.4 2562.5 L913.6 2562.5 L913.9 2562.5 L914.1 2562.4 L914.4 2562.4 L914.6 2562.3 L914.9 2562.3 L915.1 2562.3 L915.4 2562.3 L915.6 2562.3 L915.9 2562.3 L916.1 2562.4 L916.4 2562.4 L916.6 2562.5 L916.9 2562.6 L917.1 2562.6 L917.4 2562.7 L917.6 2562.7 L917.9 2562.7 L918.1 2562.7 L918.4 2562.6 L918.6 2562.5 L918.9 2562.4 L919.1 2562.2 L919.3 2561.9 L919.6 2561.6 L919.8 2561.3 L920.1 2561.0 L920.3 2560.6 L920.6 2560.1 L920.8 2559.7 L921.1 2559.2 L921.3 2558.8 L921.6 2558.4 L921.8 2557.9 L922.1 2557.5 L922.3 2557.1 L922.6 2556.8 L922.8 2556.4 L923.1 2556.1 L923.3 2555.8 L923.6 2555.5 L923.8 2555.2 L924.1 2554.9 L924.3 2554.7 L924.6 2554.4 L924.8 2554.1 L925.1 2553.7 L925.3 2553.4 L925.6 2553.0 L925.8 2552.5 L926.1 2552.1 L926.3 2551.6 L926.6 2551.0 L926.8 2550.4 L927.0 2549.9 L927.3 2549.3 L927.5 2548.6 L927.8 2548.0 L928.0 2547.4 L928.3 2546.8 L928.5 2546.2 L928.8 2545.7 L929.0 2545.2 L929.3 2544.7 L929.5 2544.3 L929.8 2543.9 L930.0 2543.5 L930.3 2543.2 L930.5 2542.8 L930.8 2542.6 L931.0 2542.3 L931.3 2542.0 L931.5 2541.7 L931.8 2541.5 L932.0 2541.2 L932.3 2540.9 L932.5 2540.6 L932.8 2540.3 L933.0 2539.9 L933.3 2539.5 L933.5 2539.1 L933.8 2538.7 L934.0 2538.3 L934.3 2537.9 L934.5 2537.4 L934.7 2537.0 L935.0 2536.7 L935.2 2536.3 L935.5 2536.0 L935.7 2535.7 L936.0 2535.5 L936.2 2535.3 L936.5 2535.1 L936.7 2535.1 L937.0 2535.0 L937.2 2535.0 L937.5 2535.0 L937.7 2535.1 L938.0 2535.2 L938.2 2535.2 L938.5 2535.3 L938.7 2535.4 L939.0 2535.5 L939.2 2535.6 L939.5 2535.7 L939.7 2535.8 L940.0 2535.8 L940.2 2535.8 L940.5 2535.8 L940.7 2535.8 L941.0 2535.8 L941.2 2535.8 L941.5 2535.8 L941.7 2535.9 L942.0 2535.9 L942.2 2536.0 L942.4 2536.1 L942.7 2536.3 L942.9 2536.5 L943.2 2536.8 L943.4 2537.1 L943.7 2537.4 L943.9 2537.8 L944.2 2538.2 L944.4 2538.7 L944.7 2539.2 L944.9 2539.7 L945.2 2540.2 L945.4 2540.7 L945.7 2541.2 L945.9 2541.7 L946.2 2542.2 L946.4 2542.7 L946.7 2543.1 L946.9 2543.6 L947.2 2544.0 L947.4 2544.3 L947.7 2544.7 L947.9 2545.1 L948.2 2545.4 L948.4 2545.8 L948.7 2546.2 L948.9 2546.5 L949.2 2547.0 L949.4 2547.4 L949.7 2547.9 L949.9 2548.4 L950.1 2548.9 L950.4 2549.5 L950.6 2550.2 L950.9 2550.8 L951.1 2551.5 L951.4 2552.2 L951.6 2552.9 L951.9 2553.6 L952.1 2554.4 L952.4 2555.1 L952.6 2555.8 L952.9 2556.4 L953.1 2557.1 L953.4 2557.7 L953.6 2558.2 L953.9 2558.8 L954.1 2559.3 L954.4 2559.8 L954.6 2560.2 L954.9 2560.7 L955.1 2561.1 L955.4 2561.5 L955.6 2561.9 L955.9 2562.3 L956.1 2562.8 L956.4 2563.2 L956.6 2563.7 L956.9 2564.2 L957.1 2564.7 L957.4 2565.3 L957.6 2565.8 L957.8 2566.4 L958.1 2567.0 L958.3 2567.6 L958.6 2568.2 L958.8 2568.8 L959.1 2569.4 L959.3 2570.0 L959.6 2570.5 L959.8 2571.0 L960.1 2571.5 L960.3 2571.9 L960.6 2572.2 L960.8 2572.5 L961.1 2572.8 L961.3 2573.1 L961.6 2573.3 L961.8 2573.4 L962.1 2573.6 L962.3 2573.7 L962.6 2573.9 L962.8 2574.0 L963.1 2574.1 L963.3 2574.3 L963.6 2574.4 L963.8 2574.6 L964.1 2574.8 L964.3 2575.0 L964.6 2575.2 L964.8 2575.5 L965.1 2575.7 L965.3 2575.9 L965.6 2576.2 L965.8 2576.4 L966.0 2576.6 L966.3 2576.7 L966.5 2576.9 L966.8 2576.9 L967.0 2577.0 L967.3 2577.0 L967.5 2576.9 L967.8 2576.8 L968.0 2576.6 L968.3 2576.4 L968.5 2576.1 L968.8 2575.8 L969.0 2575.5 L969.3 2575.2 L969.5 2574.9 L969.8 2574.6 L970.0 2574.2 L970.3 2573.9 L970.5 2573.6 L970.8 2573.3 L971.0 2573.1 L971.3 2572.8 L971.5 2572.6 L971.8 2572.4 L972.0 2572.2 L972.3 2572.0 L972.5 2571.7 L972.8 2571.5 L973.0 2571.2 L973.3 2571.0 L973.5 2570.7 L973.7 2570.3 L974.0 2569.9 L974.2 2569.5 L974.5 2569.1 L974.7 2568.6 L975.0 2568.0 L975.2 2567.5 L975.5 2566.9 L975.7 2566.3 L976.0 2565.7 L976.2 2565.1 L976.5 2564.5 L976.7 2563.9 L977.0 2563.3 L977.2 2562.8 L977.5 2562.3 L977.7 2561.8 L978.0 2561.4 L978.2 2561.0 L978.5 2560.6 L978.7 2560.3 L979.0 2559.9 L979.2 2559.7 L979.5 2559.4 L979.7 2559.1 L980.0 2558.8 L980.2 2558.5 L980.5 2558.2 L980.7 2557.9 L981.0 2557.5 L981.2 2557.2 L981.4 2556.8 L981.7 2556.4 L981.9 2556.0 L982.2 2555.5 L982.4 2555.1 L982.7 2554.7 L982.9 2554.2 L983.2 2553.8 L983.4 2553.5 L983.7 2553.1 L983.9 2552.8 L984.2 2552.6 L984.4 2552.4 L984.7 2552.2 L984.9 2552.1 L985.2 2552.0 L985.4 2552.0 L985.7 2552.1 L985.9 2552.1 L986.2 2552.2 L986.4 2552.3 L986.7 2552.4 L986.9 2552.6 L987.2 2552.7 L987.4 2552.8 L987.7 2552.9 L987.9 2553.0 L988.2 2553.1 L988.4 2553.2 L988.7 2553.2 L988.9 2553.3 L989.1 2553.3 L989.4 2553.4 L989.6 2553.4 L989.9 2553.5 L990.1 2553.6 L990.4 2553.7 L990.6 2553.9 L990.9 2554.1 L991.1 2554.3 L991.4 2554.6 L991.6 2554.9 L991.9 2555.3 L992.1 2555.7 L992.4 2556.2 L992.6 2556.7 L992.9 2557.3 L993.1 2557.8 L993.4 2558.4 L993.6 2559.0 L993.9 2559.5 L994.1 2560.1 L994.4 2560.6 L994.6 2561.2 L994.9 2561.7 L995.1 2562.2 L995.4 2562.6 L995.6 2563.1 L995.9 2563.5 L996.1 2563.9 L996.4 2564.3 L996.6 2564.7 L996.8 2565.1 L997.1 2565.5 L997.3 2566.0 L997.6 2566.4 L997.8 2566.9 L998.1 2567.5 L998.3 2568.0 L998.6 2568.6 L998.8 2569.2 L999.1 2569.9 L999.3 2570.6 L999.6 2571.3 L999.8 2572.0 L1000.1 2572.7 L1000.3 2573.4 L1000.6 2574.1 L1000.8 2574.8 L1001.1 2575.5 L1001.3 2576.1 L1001.6 2576.7 L1001.8 2577.3 L1002.1 2577.8 L1002.3 2578.3 L1002.6 2578.8 L1002.8 2579.2 L1003.1 2579.6 L1003.3 2580.0 L1003.6 2580.3 L1003.8 2580.7 L1004.1 2581.0 L1004.3 2581.4 L1004.5 2581.7 L1004.8 2582.1 L1005.0 2582.5 L1005.3 2582.9 L1005.5 2583.3 L1005.8 2583.8 L1006.0 2584.3 L1006.3 2584.7 L1006.5 2585.2 L1006.8 2585.7 L1007.0 2586.2 L1007.3 2586.6 L1007.5 2587.0 L1007.8 2587.4 L1008.0 2587.8 L1008.3 2588.1 L1008.5 2588.3 L1008.8 2588.6 L1009.0 2588.7 L1009.3 2588.8 L1009.5 2588.9 L1009.8 2588.9 L1010.0 2588.9 L1010.3 2588.8 L1010.5 2588.8 L1010.8 2588.7 L1011.0 2588.6 L1011.3 2588.5 L1011.5 2588.4 L1011.8 2588.3 L1012.0 2588.2 L1012.2 2588.1 L1012.5 2588.0 L1012.7 2587.9 L1013.0 2587.8 L1013.2 2587.7 L1013.5 2587.6 L1013.7 2587.5 L1014.0 2587.4 L1014.2 2587.2 L1014.5 2586.9 L1014.7 2586.7 L1015.0 2586.3 L1015.2 2586.0 L1015.5 2585.5 L1015.7 2585.0 L1016.0 2584.5 L1016.2 2583.9 L1016.5 2583.2 L1016.7 2582.5 L1017.0 2581.7 L1017.2 2580.9 L1017.5 2580.1 L1017.7 2579.3 L1018.0 2578.5 L1018.2 2577.6 L1018.5 2576.8 L1018.7 2576.0 L1019.0 2575.2 L1019.2 2574.4 L1019.5 2573.7 L1019.7 2572.9 L1019.9 2572.2 L1020.2 2571.5 L1020.4 2570.8 L1020.7 2570.1 L1020.9 2569.3 L1021.2 2568.6 L1021.4 2567.9 L1021.7 2567.1 L1021.9 2566.3 L1022.2 2565.4 L1022.4 2564.5 L1022.7 2563.6 L1022.9 2562.7 L1023.2 2561.7 L1023.4 2560.7 L1023.7 2559.7 L1023.9 2558.7 L1024.2 2557.6 L1024.4 2556.6 L1024.7 2555.6 L1024.9 2554.6 L1025.2 2553.6 L1025.4 2552.7 L1025.7 2551.8 L1025.9 2550.9 L1026.2 2550.1 L1026.4 2549.3 L1026.7 2548.6 L1026.9 2547.9 L1027.2 2547.3 L1027.4 2546.6 L1027.7 2546.1 L1027.9 2545.5 L1028.1 2544.9 L1028.4 2544.4 L1028.6 2543.8 L1028.9 2543.2 L1029.1 2542.7 L1029.4 2542.1 L1029.6 2541.5 L1029.9 2540.9 L1030.1 2540.3 L1030.4 2539.7 L1030.6 2539.1 L1030.9 2538.5 L1031.1 2537.9 L1031.4 2537.4 L1031.6 2536.9 L1031.9 2536.4 L1032.1 2536.0 L1032.4 2535.7 L1032.6 2535.4 L1032.9 2535.1 L1033.1 2534.9 L1033.4 2534.8 L1033.6 2534.8 L1033.9 2534.8 L1034.1 2534.8 L1034.4 2534.9 L1034.6 2535.1 L1034.9 2535.2 L1035.1 2535.4 L1035.4 2535.6 L1035.6 2535.7 L1035.8 2535.9 L1036.1 2536.0 L1036.3 2536.2 L1036.6 2536.3 L1036.8 2536.5 L1037.1 2536.6 L1037.3 2536.7 L1037.6 2536.8 L1037.8 2536.9 L1038.1 2537.0 L1038.3 2537.2 L1038.6 2537.4 L1038.8 2537.6 L1039.1 2537.9 L1039.3 2538.2 L1039.6 2538.5 L1039.8 2538.9 L1040.1 2539.4 L1040.3 2539.9 L1040.6 2540.5 L1040.8 2541.0 L1041.1 2541.7 L1041.3 2542.3 L1041.6 2543.0 L1041.8 2543.6 L1042.1 2544.3 L1042.3 2545.0 L1042.6 2545.6 L1042.8 2546.3 L1043.1 2546.9 L1043.3 2547.5 L1043.5 2548.1 L1043.8 2548.7 L1044.0 2549.2 L1044.3 2549.7 L1044.5 2550.2 L1044.8 2550.7 L1045.0 2551.2 L1045.3 2551.8 L1045.5 2552.3 L1045.8 2552.9 L1046.0 2553.4 L1046.3 2554.1 L1046.5 2554.7 L1046.8 2555.4 L1047.0 2556.1 L1047.3 2556.8 L1047.5 2557.6 L1047.8 2558.4 L1048.0 2559.2 L1048.3 2560.0 L1048.5 2560.8 L1048.8 2561.6 L1049.0 2562.4 L1049.3 2563.2 L1049.5 2563.9 L1049.8 2564.6 L1050.0 2565.3 L1050.3 2565.9 L1050.5 2566.5 L1050.8 2567.0 L1051.0 2567.5 L1051.2 2568.0 L1051.5 2568.4 L1051.7 2568.8 L1052.0 2569.2 L1052.2 2569.6 L1052.5 2570.0 L1052.7 2570.4 L1053.0 2570.8 L1053.2 2571.3 L1053.5 2571.7 L1053.7 2572.2 L1054.0 2572.6 L1054.2 2573.1 L1054.5 2573.6 L1054.7 2574.1 L1055.0 2574.6 L1055.2 2575.1 L1055.5 2575.6 L1055.7 2576.0 L1056.0 2576.5 L1056.2 2576.8 L1056.5 2577.2 L1056.7 2577.5 L1057.0 2577.7 L1057.2 2577.9 L1057.5 2578.0 L1057.7 2578.1 L1058.0 2578.1 L1058.2 2578.1 L1058.5 2578.0 L1058.7 2577.9 L1058.9 2577.8 L1059.2 2577.7 L1059.4 2577.6 L1059.7 2577.5 L1059.9 2577.4 L1060.2 2577.3 L1060.4 2577.2 L1060.7 2577.2 L1060.9 2577.2 L1061.2 2577.1 L1061.4 2577.2 L1061.7 2577.2 L1061.9 2577.2 L1062.2 2577.2 L1062.4 2577.2 L1062.7 2577.2 L1062.9 2577.2 L1063.2 2577.1 L1063.4 2577.0 L1063.7 2576.9 L1063.9 2576.7 L1064.2 2576.4 L1064.4 2576.2 L1064.7 2575.8 L1064.9 2575.5 L1065.2 2575.1 L1065.4 2574.7 L1065.7 2574.3 L1065.9 2573.9 L1066.2 2573.5 L1066.4 2573.1 L1066.7 2572.7 L1066.9 2572.3 L1067.2 2572.0 L1067.4 2571.6 L1067.7 2571.3 L1067.9 2571.1 L1068.2 2570.8 L1068.4 2570.6 L1068.7 2570.3 L1068.9 2570.1 L1069.2 2569.9 L1069.4 2569.7 L1069.7 2569.4 L1069.9 2569.2 L1070.2 2568.9 L1070.4 2568.5 L1070.7 2568.2 L1070.9 2567.8 L1071.2 2567.4 L1071.4 2566.9 L1071.7 2566.4 L1071.9 2565.9 L1072.2 2565.3 L1072.4 2564.8 L1072.7 2564.2 L1072.9 2563.7 L1073.2 2563.1 L1073.4 2562.6 L1073.7 2562.1 L1073.9 2561.6 L1074.2 2561.1 L1074.4 2560.7 L1074.7 2560.3 L1074.9 2560.0 L1075.2 2559.7 L1075.4 2559.4 L1075.7 2559.1 L1075.9 2558.8 L1076.2 2558.6 L1076.4 2558.3 L1076.7 2558.1 L1076.9 2557.8 L1077.2 2557.5 L1077.4 2557.1 L1077.7 2556.8 L1077.9 2556.4 L1078.2 2556.0 L1078.4 2555.6 L1078.7 2555.1 L1078.9 2554.7 L1079.2 2554.2 L1079.4 2553.7 L1079.7 2553.2 L1079.9 2552.7 L1080.2 2552.3 L1080.4 2551.9 L1080.7 2551.5 L1080.9 2551.1 L1081.2 2550.8 L1081.4 2550.5 L1081.7 2550.3 L1081.9 2550.1 L1082.2 2550.0 L1082.4 2549.8 L1082.7 2549.7 L1082.9 2549.7 L1083.2 2549.6 L1083.4 2549.5 L1083.7 2549.4 L1083.9 2549.4 L1084.2 2549.3 L1084.4 2549.2 L1084.7 2549.0 L1084.9 2548.9 L1085.1 2548.7 L1085.4 2548.5 L1085.6 2548.3 L1085.9 2548.1 L1086.1 2547.8 L1086.4 2547.6 L1086.6 2547.4 L1086.9 2547.2 L1087.1 2547.0 L1087.4 2546.9 L1087.6 2546.8 L1087.9 2546.7 L1088.1 2546.7 L1088.4 2546.8 L1088.6 2546.9 L1088.9 2547.0 L1089.1 2547.2 L1089.4 2547.4 L1089.6 2547.7 L1089.9 2548.0 L1090.1 2548.3 L1090.4 2548.6 L1090.6 2548.9 L1090.9 2549.3 L1091.1 2549.6 L1091.4 2549.9 L1091.6 2550.2 L1091.9 2550.5 L1092.1 2550.8 L1092.4 2551.0 L1092.6 2551.3 L1092.9 2551.5 L1093.1 2551.7 L1093.4 2552.0 L1093.6 2552.2 L1093.9 2552.5 L1094.1 2552.8 L1094.4 2553.2 L1094.6 2553.5 L1094.9 2554.0 L1095.1 2554.4 L1095.4 2554.9 L1095.6 2555.4 L1095.9 2556.0 L1096.1 2556.6 L1096.4 2557.2 L1096.6 2557.8 L1096.9 2558.5 L1097.1 2559.1 L1097.4 2559.8 L1097.6 2560.4 L1097.9 2561.0 L1098.1 2561.5 L1098.4 2562.1 L1098.6 2562.5 L1098.9 2563.0 L1099.1 2563.4 L1099.4 2563.8 L1099.6 2564.1 L1099.9 2564.4 L1100.1 2564.7 L1100.4 2565.0 L1100.6 2565.3 L1100.9 2565.6 L1101.1 2565.8 L1101.4 2566.1 L1101.6 2566.4 L1101.9 2566.7 L1102.1 2567.0 L1102.4 2567.4 L1102.6 2567.7 L1102.9 2568.1 L1103.1 2568.5 L1103.4 2568.9 L1103.6 2569.2 L1103.9 2569.6 L1104.1 2569.9 L1104.4 2570.2 L1104.6 2570.5 L1104.9 2570.7 L1105.1 2570.8 L1105.4 2571.0 L1105.6 2571.0 L1105.9 2571.0 L1106.1 2571.0 L1106.4 2570.9 L1106.6 2570.7 L1106.9 2570.6 L1107.1 2570.4 L1107.4 2570.2 L1107.6 2569.9 L1107.9 2569.7 L1108.1 2569.5 L1108.4 2569.2 L1108.6 2569.0 L1108.9 2568.8 L1109.1 2568.6 L1109.4 2568.4 L1109.6 2568.3 L1109.9 2568.1 L1110.1 2568.0 L1110.4 2567.8 L1110.6 2567.7 L1110.8 2567.5 L1111.1 2567.3 L1111.3 2567.1 L1111.6 2566.9 L1111.8 2566.6 L1112.1 2566.3 L1112.3 2565.9 L1112.6 2565.5 L1112.8 2565.1 L1113.1 2564.6 L1113.3 2564.0 L1113.6 2563.5 L1113.8 2562.9 L1114.1 2562.3 L1114.3 2561.6 L1114.6 2561.0 L1114.8 2560.4 L1115.1 2559.8 L1115.3 2559.2 L1115.6 2558.6 L1115.8 2558.1 L1116.1 2557.5 L1116.3 2557.1 L1116.6 2556.6 L1116.8 2556.1 L1117.1 2555.7 L1117.3 2555.3 L1117.6 2554.9 L1117.8 2554.5 L1118.1 2554.0 L1118.3 2553.6 L1118.6 2553.1 L1118.8 2552.7 L1119.1 2552.2 L1119.3 2551.6 L1119.6 2551.0 L1119.8 2550.4 L1120.1 2549.8 L1120.3 2549.2 L1120.6 2548.5 L1120.8 2547.8 L1121.1 2547.1 L1121.3 2546.5 L1121.6 2545.8 L1121.8 2545.2 L1122.1 2544.5 L1122.3 2544.0 L1122.6 2543.4 L1122.8 2542.9 L1123.1 2542.5 L1123.3 2542.1 L1123.6 2541.7 L1123.8 2541.3 L1124.1 2541.0 L1124.3 2540.7 L1124.6 2540.5 L1124.8 2540.2 L1125.1 2540.0 L1125.3 2539.7 L1125.6 2539.5 L1125.8 2539.2 L1126.1 2538.9 L1126.3 2538.6 L1126.6 2538.3 L1126.8 2537.9 L1127.1 2537.6 L1127.3 2537.2 L1127.6 2536.8 L1127.8 2536.5 L1128.1 2536.1 L1128.3 2535.8 L1128.6 2535.5 L1128.8 2535.2 L1129.1 2535.0 L1129.3 2534.8 L1129.6 2534.6 L1129.8 2534.6 L1130.1 2534.5 L1130.3 2534.5 L1130.6 2534.6 L1130.8 2534.7 L1131.1 2534.8 L1131.3 2535.0 L1131.6 2535.2 L1131.8 2535.4 L1132.1 2535.6 L1132.3 2535.8 L1132.6 2536.0 L1132.8 2536.3 L1133.1 2536.5 L1133.3 2536.7 L1133.6 2536.9 L1133.8 2537.0 L1134.1 2537.2 L1134.3 2537.4 L1134.6 2537.5 L1134.8 2537.7 L1135.1 2537.9 L1135.3 2538.1 L1135.6 2538.4 L1135.8 2538.6 L1136.1 2538.9 L1136.3 2539.3 L1136.6 2539.7 L1136.8 2540.1 L1137.0 2540.6 L1137.3 2541.1 L1137.5 2541.7 L1137.8 2542.3 L1138.0 2543.0 L1138.3 2543.6 L1138.5 2544.3 L1138.8 2544.9 L1139.0 2545.6 L1139.3 2546.3 L1139.5 2546.9 L1139.8 2547.5 L1140.0 2548.1 L1140.3 2548.7 L1140.5 2549.2 L1140.8 2549.7 L1141.0 2550.2 L1141.3 2550.6 L1141.5 2551.0 L1141.8 2551.5 L1142.0 2551.9 L1142.3 2552.3 L1142.5 2552.7 L1142.8 2553.1 L1143.0 2553.6 L1143.3 2554.1 L1143.5 2554.6 L1143.8 2555.1 L1144.0 2555.6 L1144.3 2556.2 L1144.5 2556.8 L1144.8 2557.4 L1145.0 2558.0 L1145.3 2558.6 L1145.5 2559.1 L1145.8 2559.7 L1146.0 2560.2 L1146.3 2560.7 L1146.5 2561.2 L1146.8 2561.6 L1147.0 2561.9 L1147.3 2562.2 L1147.5 2562.5 L1147.8 2562.7 L1148.0 2562.9 L1148.3 2563.0 L1148.5 2563.1 L1148.8 2563.1 L1149.0 2563.2 L1149.3 2563.2 L1149.5 2563.2 L1149.8 2563.2 L1150.0 2563.3 L1150.3 2563.3 L1150.5 2563.3 L1150.8 2563.4 L1151.0 2563.4 L1151.3 2563.5 L1151.5 2563.6 L1151.8 2563.6 L1152.0 2563.7 L1152.3 2563.8 L1152.5 2563.9 L1152.8 2563.9 L1153.0 2563.9 L1153.3 2563.9 L1153.5 2563.8 L1153.8 2563.7 L1154.0 2563.5 L1154.3 2563.3 L1154.5 2563.0 L1154.8 2562.7 L1155.0 2562.4 L1155.3 2562.0 L1155.5 2561.6 L1155.8 2561.2 L1156.0 2560.8 L1156.3 2560.3 L1156.5 2559.9 L1156.8 2559.5 L1157.0 2559.1 L1157.3 2558.7 L1157.5 2558.3 L1157.8 2558.0 L1158.0 2557.6 L1158.3 2557.3 L1158.5 2557.0 L1158.8 2556.7 L1159.0 2556.4 L1159.3 2556.2 L1159.5 2555.9 L1159.8 2555.5 L1160.0 2555.2 L1160.3 2554.8 L1160.5 2554.4 L1160.8 2554.0 L1161.0 2553.5 L1161.3 2553.0 L1161.5 2552.5 L1161.8 2551.9 L1162.0 2551.3 L1162.3 2550.6 L1162.5 2550.0 L1162.7 2549.3 L1163.0 2548.7 L1163.2 2548.0 L1163.5 2547.4 L1163.7 2546.8 L1164.0 2546.2 L1164.2 2545.6 L1164.5 2545.1 L1164.7 2544.6 L1165.0 2544.1 L1165.2 2543.7 L1165.5 2543.3 L1165.7 2542.9 L1166.0 2542.6 L1166.2 2542.2 L1166.5 2541.8 L1166.7 2541.5 L1167.0 2541.1 L1167.2 2540.7 L1167.5 2540.3 L1167.7 2539.8 L1168.0 2539.4 L1168.2 2538.9 L1168.5 2538.3 L1168.7 2537.8 L1169.0 2537.3 L1169.2 2536.7 L1169.5 2536.1 L1169.7 2535.6 L1170.0 2535.0 L1170.2 2534.5 L1170.5 2534.0 L1170.7 2533.6 L1171.0 2533.1 L1171.2 2532.8 L1171.5 2532.4 L1171.7 2532.1 L1172.0 2531.9 L1172.2 2531.7 L1172.5 2531.5 L1172.7 2531.4 L1173.0 2531.3 L1173.2 2531.2 L1173.5 2531.1 L1173.7 2531.0 L1174.0 2530.9 L1174.2 2530.8 L1174.5 2530.7 L1174.7 2530.5 L1175.0 2530.4 L1175.2 2530.2 L1175.5 2530.0 L1175.7 2529.8 L1176.0 2529.6 L1176.2 2529.4 L1176.5 2529.2 L1176.7 2529.0 L1177.0 2528.9 L1177.2 2528.7 L1177.5 2528.7 L1177.7 2528.6 L1178.0 2528.6 L1178.2 2528.7 L1178.5 2528.8 L1178.7 2529.0 L1179.0 2529.2 L1179.2 2529.5 L1179.5 2529.9 L1179.7 2530.2 L1180.0 2530.7 L1180.2 2531.1 L1180.5 2531.5 L1180.7 2532.0 L1181.0 2532.5 L1181.2 2532.9 L1181.5 2533.4 L1181.7 2533.8 L1182.0 2534.2 L1182.2 2534.7 L1182.5 2535.1 L1182.7 2535.5 L1183.0 2535.9 L1183.2 2536.3 L1183.5 2536.7 L1183.7 2537.1 L1184.0 2537.6 L1184.2 2538.1 L1184.5 2538.6 L1184.7 2539.2 L1185.0 2539.8 L1185.2 2540.5 L1185.5 2541.2 L1185.7 2541.9 L1186.0 2542.7 L1186.2 2543.5 L1186.5 2544.4 L1186.7 2545.3 L1187.0 2546.2 L1187.2 2547.1 L1187.5 2548.0 L1187.7 2548.9 L1188.0 2549.8 L1188.2 2550.6 L1188.5 2551.5 L1188.7 2552.3 L1188.9 2553.0 L1189.2 2553.8 L1189.4 2554.5 L1189.7 2555.2 L1189.9 2555.9 L1190.2 2556.5 L1190.4 2557.2 L1190.7 2557.8 L1190.9 2558.5 L1191.2 2559.1 L1191.4 2559.8 L1191.7 2560.5 L1191.9 2561.3 L1192.2 2562.0 L1192.4 2562.8 L1192.7 2563.6 L1192.9 2564.4 L1193.2 2565.2 L1193.4 2566.1 L1193.7 2566.9 L1193.9 2567.7 L1194.2 2568.6 L1194.4 2569.4 L1194.7 2570.1 L1194.9 2570.8 L1195.2 2571.5 L1195.4 2572.1 L1195.7 2572.7 L1195.9 2573.3 L1196.2 2573.7 L1196.4 2574.2 L1196.7 2574.6 L1196.9 2574.9 L1197.2 2575.2 L1197.4 2575.5 L1197.7 2575.8 L1197.9 2576.1 L1198.2 2576.3 L1198.4 2576.6 L1198.7 2576.9 L1198.9 2577.2 L1199.2 2577.5 L1199.4 2577.8 L1199.7 2578.1 L1199.9 2578.4 L1200.2 2578.7 L1200.4 2579.0 L1200.7 2579.3 L1200.9 2579.5 L1201.2 2579.7 L1201.4 2579.9 L1201.7 2580.1 L1201.9 2580.2 L1202.2 2580.2 L1202.4 2580.3 L1202.7 2580.2 L1202.9 2580.1 L1203.2 2580.0 L1203.4 2579.8 L1203.7 2579.6 L1203.9 2579.3 L1204.2 2579.0 L1204.4 2578.7 L1204.7 2578.4 L1204.9 2578.1 L1205.2 2577.8 L1205.4 2577.5 L1205.7 2577.2 L1205.9 2576.9 L1206.2 2576.7 L1206.4 2576.5 L1206.7 2576.3 L1206.9 2576.1 L1207.2 2575.9 L1207.4 2575.7 L1207.7 2575.5 L1207.9 2575.3 L1208.2 2575.1 L1208.4 2574.9 L1208.7 2574.7 L1208.9 2574.4 L1209.2 2574.0 L1209.4 2573.7 L1209.7 2573.3 L1209.9 2572.8 L1210.2 2572.3 L1210.4 2571.8 L1210.7 2571.2 L1210.9 2570.7 L1211.2 2570.1 L1211.4 2569.5 L1211.7 2568.9 L1211.9 2568.3 L1212.2 2567.8 L1212.4 2567.2 L1212.7 2566.7 L1212.9 2566.2 L1213.2 2565.8 L1213.4 2565.4 L1213.7 2565.0 L1213.9 2564.6 L1214.2 2564.3 L1214.4 2564.0 L1214.7 2563.7 L1214.9 2563.3 L1215.1 2563.0 L1215.4 2562.7 L1215.6 2562.4 L1215.9 2562.0 L1216.1 2561.6 L1216.4 2561.2 L1216.6 2560.7 L1216.9 2560.3 L1217.1 2559.8 L1217.4 2559.3 L1217.6 2558.8 L1217.9 2558.2 L1218.1 2557.7 L1218.4 2557.2 L1218.6 2556.7 L1218.9 2556.2 L1219.1 2555.8 L1219.4 2555.4 L1219.6 2555.0 L1219.9 2554.7 L1220.1 2554.5 L1220.4 2554.2 L1220.6 2554.0 L1220.9 2553.9 L1221.1 2553.8 L1221.4 2553.7 L1221.6 2553.6 L1221.9 2553.6 L1222.1 2553.5 L1222.4 2553.5 L1222.6 2553.4 L1222.9 2553.4 L1223.1 2553.3 L1223.4 2553.2 L1223.6 2553.0 L1223.9 2552.9 L1224.1 2552.8 L1224.4 2552.6 L1224.6 2552.4 L1224.9 2552.3 L1225.1 2552.1 L1225.4 2552.0 L1225.6 2551.9 L1225.9 2551.9 L1226.1 2551.9 L1226.4 2551.9 L1226.6 2552.0 L1226.9 2552.2 L1227.1 2552.4 L1227.4 2552.7 L1227.6 2553.0 L1227.9 2553.3 L1228.1 2553.7 L1228.4 2554.2 L1228.6 2554.6 L1228.9 2555.1 L1229.1 2555.6 L1229.4 2556.0 L1229.6 2556.5 L1229.9 2557.0 L1230.1 2557.4 L1230.4 2557.8 L1230.6 2558.2 L1230.9 2558.6 L1231.1 2559.0 L1231.4 2559.4 L1231.6 2559.7 L1231.9 2560.1 L1232.1 2560.4 L1232.4 2560.8 L1232.6 2561.2 L1232.9 2561.6 L1233.1 2562.1 L1233.4 2562.5 L1233.6 2563.0 L1233.9 2563.6 L1234.1 2564.2 L1234.4 2564.8 L1234.6 2565.4 L1234.9 2566.1 L1235.1 2566.8 L1235.4 2567.4 L1235.6 2568.1 L1235.9 2568.8 L1236.1 2569.4 L1236.4 2570.1 L1236.6 2570.6 L1236.9 2571.2 L1237.1 2571.7 L1237.4 2572.2 L1237.6 2572.6 L1237.9 2573.0 L1238.1 2573.3 L1238.4 2573.6 L1238.6 2573.9 L1238.9 2574.2 L1239.1 2574.4 L1239.4 2574.6 L1239.6 2574.8 L1239.9 2575.1 L1240.1 2575.3 L1240.4 2575.5 L1240.6 2575.8 L1240.8 2576.0 L1241.1 2576.3 L1241.3 2576.6 L1241.6 2576.9 L1241.8 2577.2 L1242.1 2577.5 L1242.3 2577.7 L1242.6 2578.0 L1242.8 2578.2 L1243.1 2578.4 L1243.3 2578.5 L1243.6 2578.6 L1243.8 2578.4 L1244.1 2578.0 L1244.3 2577.4 L1244.6 2576.6 L1244.8 2575.6 L1245.1 2574.4 L1245.3 2573.1 L1245.6 2571.7 L1245.8 2570.2 L1246.1 2568.7 L1246.3 2567.3 L1246.6 2565.9 L1246.8 2564.5 L1247.1 2563.4 L1247.3 2562.3 L1247.6 2561.5 L1247.8 2560.9 L1248.1 2560.5 L1248.3 2560.3 L1248.6 2560.4 L1248.8 2560.6 L1249.1 2560.9 L1249.3 2561.2 L1249.6 2561.7 L1249.8 2562.1 L1250.1 2562.6 L1250.3 2563.2 L1250.6 2563.6 L1250.8 2564.1 L1251.1 2564.5 L1251.3 2564.8 L1251.6 2565.1 L1251.8 2565.3 L1252.1 2565.3 L1252.3 2565.3 L1252.6 2565.2 L1252.8 2565.0 L1253.1 2564.8 L1253.3 2564.6 L1253.6 2564.4 L1253.8 2564.1 L1254.1 2563.9 L1254.3 2563.6 L1254.6 2563.4 L1254.8 2563.1 L1255.1 2562.9 L1255.3 2562.6 L1255.6 2562.4 L1255.8 2562.1 L1256.1 2561.9 L1256.3 2561.6 L1256.6 2561.3 L1256.8 2560.9 L1257.1 2560.5 L1257.3 2560.1 L1257.6 2559.6 L1257.8 2559.1 L1258.1 2558.5 L1258.3 2557.8 L1258.6 2557.2 L1258.8 2556.4 L1259.1 2555.6 L1259.3 2554.8 L1259.6 2554.0 L1259.8 2553.2 L1260.1 2552.3 L1260.3 2551.5 L1260.6 2550.6 L1260.8 2549.8 L1261.1 2549.0 L1261.3 2548.2 L1261.6 2547.5 L1261.8 2546.8 L1262.1 2546.1 L1262.3 2545.4 L1262.6 2544.8 L1262.8 2544.2 L1263.1 2543.6 L1263.3 2543.0 L1263.6 2542.4 L1263.8 2541.8 L1264.1 2541.2 L1264.3 2540.6 L1264.6 2540.0 L1264.8 2539.4 L1265.1 2538.7 L1265.3 2538.0 L1265.6 2537.3 L1265.8 2536.6 L1266.1 2535.9 L1266.3 2535.2 L1266.6 2534.5 L1266.8 2533.9 L1267.0 2533.2 L1267.3 2532.6 L1267.5 2532.1 L1267.8 2531.6 L1268.0 2531.1 L1268.3 2530.7 L1268.5 2530.4 L1268.8 2530.1 L1269.0 2529.9 L1269.3 2529.7 L1269.5 2529.6 L1269.8 2529.5 L1270.0 2529.5 L1270.3 2529.5 L1270.5 2529.5 L1270.8 2529.6 L1271.0 2529.6 L1271.3 2529.7 L1271.5 2529.8 L1271.8 2529.8 L1272.0 2529.8 L1272.3 2529.9 L1272.5 2529.9 L1272.8 2529.9 L1273.0 2529.9 L1273.3 2529.9 L1273.5 2529.9 L1273.8 2529.9 L1274.0 2530.0 L1274.3 2530.0 L1274.5 2530.2 L1274.8 2530.3 L1275.0 2530.5 L1275.3 2530.8 L1275.5 2531.1 L1275.8 2531.4 L1276.0 2531.8 L1276.3 2532.3 L1276.5 2532.7 L1276.8 2533.2 L1277.0 2533.8 L1277.3 2534.3 L1277.5 2534.8 L1277.8 2535.4 L1278.0 2535.9 L1278.3 2536.4 L1278.5 2536.9 L1278.8 2537.4 L1279.0 2537.9 L1279.3 2538.3 L1279.5 2538.7 L1279.8 2539.1 L1280.0 2539.5 L1280.3 2539.9 L1280.5 2540.3 L1280.8 2540.7 L1281.0 2541.1 L1281.3 2541.5 L1281.5 2542.0 L1281.8 2542.5 L1282.0 2543.0 L1282.3 2543.5 L1282.5 2544.1 L1282.8 2544.8 L1283.0 2545.4 L1283.3 2546.1 L1283.5 2546.8 L1283.8 2547.5 L1284.0 2548.2 L1284.3 2549.0 L1284.5 2549.7 L1284.8 2550.4 L1285.0 2551.0 L1285.3 2551.7 L1285.5 2552.3 L1285.8 2552.9 L1286.0 2553.4 L1286.3 2553.9 L1286.5 2554.3 L1286.8 2554.8 L1287.0 2555.2 L1287.3 2555.5 L1287.5 2555.9 L1287.8 2556.3 L1288.0 2556.6 L1288.3 2557.0 L1288.5 2557.4 L1288.8 2557.8 L1289.0 2558.2 L1289.3 2558.7 L1289.5 2559.1 L1289.8 2559.6 L1290.0 2560.1 L1290.3 2560.6 L1290.5 2561.1 L1290.8 2561.6 L1291.0 2562.1 L1291.3 2562.6 L1291.5 2563.0 L1291.8 2563.5 L1292.0 2563.8 L1292.3 2564.2 L1292.5 2564.5 L1292.7 2564.7 L1293.0 2564.9 L1293.2 2565.0 L1293.5 2565.1 L1293.7 2565.2 L1294.0 2565.2 L1294.2 2565.2 L1294.5 2565.2 L1294.7 2565.2 L1295.0 2565.1 L1295.2 2565.1 L1295.5 2565.0 L1295.7 2565.0 L1296.0 2565.0 L1296.2 2565.0 L1296.5 2565.0 L1296.7 2565.0 L1297.0 2565.0 L1297.2 2565.1 L1297.5 2565.1 L1297.7 2565.2 L1298.0 2565.2 L1298.2 2565.2 L1298.5 2565.2 L1298.7 2565.2 L1299.0 2565.1 L1299.2 2564.9 L1299.5 2564.8 L1299.7 2564.5 L1300.0 2564.3 L1300.2 2564.0 L1300.5 2563.6 L1300.7 2563.2 L1301.0 2562.8 L1301.2 2562.4 L1301.5 2561.9 L1301.7 2561.5 L1302.0 2561.0 L1302.2 2560.6 L1302.5 2560.1 L1302.7 2559.7 L1303.0 2559.3 L1303.2 2559.0 L1303.5 2558.6 L1303.7 2558.3 L1304.0 2558.0 L1304.2 2557.7 L1304.5 2557.4 L1304.7 2557.1 L1305.0 2556.8 L1305.2 2556.5 L1305.5 2556.2 L1305.7 2555.8 L1306.0 2555.4 L1306.2 2555.0 L1306.5 2554.6 L1306.7 2554.1 L1307.0 2553.6 L1307.2 2553.0 L1307.5 2552.4 L1307.7 2551.8 L1308.0 2551.2 L1308.2 2550.6 L1308.5 2549.9 L1308.7 2549.3 L1309.0 2548.7 L1309.2 2548.1 L1309.5 2547.6 L1309.7 2547.0 L1310.0 2546.6 L1310.2 2546.1 L1310.5 2545.7 L1310.7 2545.3 L1311.0 2544.9 L1311.2 2544.6 L1311.5 2544.3 L1311.7 2544.0 L1312.0 2543.7 L1312.2 2543.4 L1312.5 2543.1 L1312.7 2542.8 L1313.0 2542.4 L1313.2 2542.1 L1313.5 2541.7 L1313.7 2541.3 L1314.0 2540.9 L1314.2 2540.4 L1314.5 2540.0 L1314.7 2539.5 L1315.0 2539.0 L1315.2 2538.6 L1315.5 2538.1 L1315.7 2537.7 L1316.0 2537.3 L1316.2 2536.9 L1316.5 2536.6 L1316.7 2536.3 L1317.0 2536.1 L1317.2 2535.9 L1317.5 2535.8 L1317.7 2535.6 L1318.0 2535.6 L1318.2 2535.6 L1318.5 2535.6 L1318.7 2535.6 L1318.9 2535.6 L1319.2 2535.6 L1319.4 2535.7 L1319.7 2535.7 L1319.9 2535.7 L1320.2 2535.7 L1320.4 2535.7 L1320.7 2535.6 L1320.9 2535.6 L1321.2 2535.5 L1321.4 2535.5 L1321.7 2535.4 L1321.9 2535.4 L1322.2 2535.3 L1322.4 2535.3 L1322.7 2535.3 L1322.9 2535.4 L1323.2 2535.5 L1323.4 2535.6 L1323.7 2535.8 L1323.9 2536.1 L1324.2 2536.4 L1324.4 2536.7 L1324.7 2537.1 L1324.9 2537.5 L1325.2 2538.0 L1325.4 2538.5 L1325.7 2539.0 L1325.9 2539.6 L1326.2 2540.1 L1326.4 2540.6 L1326.7 2541.1 L1326.9 2541.6 L1327.2 2542.1 L1327.4 2542.6 L1327.7 2543.0 L1327.9 2543.5 L1328.2 2543.9 L1328.4 2544.3 L1328.7 2544.7 L1328.9 2545.1 L1329.2 2545.5 L1329.4 2545.9 L1329.7 2546.3 L1329.9 2546.8 L1330.2 2547.2 L1330.4 2547.8 L1330.7 2548.3 L1330.9 2548.9 L1331.2 2549.6 L1331.4 2550.2 L1331.7 2550.9 L1331.9 2551.6 L1332.2 2552.4 L1332.4 2553.1 L1332.7 2553.9 L1332.9 2554.6 L1333.2 2555.3 L1333.4 2556.0 L1333.7 2556.7 L1333.9 2557.3 L1334.2 2557.9 L1334.4 2558.5 L1334.7 2559.0 L1334.9 2559.5 L1335.2 2560.0 L1335.4 2560.4 L1335.7 2560.8 L1335.9 2561.2 L1336.2 2561.6 L1336.4 2562.0 L1336.7 2562.3 L1336.9 2562.7 L1337.2 2563.1 L1337.4 2563.5 L1337.7 2564.0 L1337.9 2564.4 L1338.2 2564.9 L1338.4 2565.4 L1338.7 2565.9 L1338.9 2566.4 L1339.2 2566.9 L1339.4 2567.4 L1339.7 2567.8 L1339.9 2568.3 L1340.2 2568.7 L1340.4 2569.1 L1340.7 2569.4 L1340.9 2569.7 L1341.2 2569.9 L1341.4 2570.1 L1341.7 2570.3 L1341.9 2570.3 L1342.2 2570.4 L1342.4 2570.4 L1342.7 2570.3 L1342.9 2570.3 L1343.2 2570.2 L1343.4 2570.1 L1343.7 2570.0 L1343.9 2569.9 L1344.2 2569.8 L1344.4 2569.8 L1344.6 2569.7 L1344.9 2569.7 L1345.1 2569.6 L1345.4 2569.6 L1345.6 2569.6 L1345.9 2569.6 L1346.1 2569.6 L1346.4 2569.6 L1346.6 2569.6 L1346.9 2569.6 L1347.1 2569.5 L1347.4 2569.4 L1347.6 2569.2 L1347.9 2569.0 L1348.1 2568.8 L1348.4 2568.5 L1348.6 2568.2 L1348.9 2567.8 L1349.1 2567.4 L1349.4 2567.0 L1349.6 2566.5 L1349.9 2566.0 L1350.1 2565.5 L1350.4 2565.0 L1350.6 2564.6 L1350.9 2564.1 L1351.1 2563.6 L1351.4 2563.2 L1351.6 2562.8 L1351.9 2562.4 L1352.1 2562.1 L1352.4 2561.7 L1352.6 2561.4 L1352.9 2561.1 L1353.1 2560.8 L1353.4 2560.5 L1353.6 2560.2 L1353.9 2559.8 L1354.1 2559.5 L1354.4 2559.1 L1354.6 2558.7 L1354.9 2558.2 L1355.1 2557.8 L1355.4 2557.2 L1355.6 2556.7 L1355.9 2556.1 L1356.1 2555.5 L1356.4 2554.9 L1356.6 2554.3 L1356.9 2553.7 L1357.1 2553.0 L1357.4 2552.4 L1357.6 2551.8 L1357.9 2551.3 L1358.1 2550.7 L1358.4 2550.2 L1358.6 2549.8 L1358.9 2549.4 L1359.1 2549.0 L1359.4 2548.6 L1359.6 2548.3 L1359.9 2548.0 L1360.1 2547.7 L1360.4 2547.4 L1360.6 2547.2 L1360.9 2546.9 L1361.1 2546.6 L1361.4 2546.3 L1361.6 2546.0 L1361.9 2545.6 L1362.1 2545.3 L1362.4 2544.9 L1362.6 2544.5 L1362.9 2544.0 L1363.1 2543.6 L1363.4 2543.2 L1363.6 2542.7 L1363.9 2542.3 L1364.1 2541.9 L1364.4 2541.5 L1364.6 2541.2 L1364.9 2540.9 L1365.1 2540.6 L1365.4 2540.4 L1365.6 2540.2 L1365.9 2540.1 L1366.1 2540.0 L1366.4 2540.0 L1366.6 2540.0 L1366.9 2540.0 L1367.1 2540.1 L1367.4 2540.1 L1367.6 2540.2 L1367.9 2540.3 L1368.1 2540.4 L1368.4 2540.4 L1368.6 2540.5 L1368.9 2540.5 L1369.1 2540.5 L1369.4 2540.5 L1369.6 2540.4 L1369.9 2540.4 L1370.1 2540.3 L1370.4 2540.2 L1370.6 2540.1" fill="none" stroke="#0c86d2" stroke-width="3.4" stroke-linejoin="round"/>
<path d="M129.0 2468.5h3.2V3229.6h-3.2zM132.0 2878.8h3.0V2922.5h-3.0zM133.0 2922.5h2.0V3229.6h-2.0zM137.0 3104.3h3.0V3229.6h-3.0zM140.0 3182.6h2.8V3229.6h-2.8zM142.5 3181.7h2.8V3229.6h-2.8zM145.0 3190.7h2.8V3229.6h-2.8zM147.5 3189.0h2.8V3229.6h-2.8zM150.0 3175.4h2.8V3229.6h-2.8zM152.5 3169.1h2.8V3229.6h-2.8zM155.0 3181.1h2.8V3229.6h-2.8zM157.5 3178.7h2.8V3229.6h-2.8zM158.8 3078.6h3.6V3229.6h-3.6zM163.9 2988.5h3.6V3229.6h-3.6zM169.0 2906.9h3.6V3015.0h-3.6zM172.5 2850.2h3.6V2959.3h-3.6zM176.0 2744.3h3.6V2854.1h-3.6zM180.0 2633.8h3.6V2743.2h-3.6zM184.0 2660.0h5.2V2781.4h-5.2zM188.4 2651.5h5.2V2746.3h-5.2zM192.8 2638.2h5.2V2758.1h-5.2zM197.2 2610.8h5.2V2746.5h-5.2zM201.6 2610.8h5.2V2743.9h-5.2zM206.0 2644.2h5.2V2764.2h-5.2zM210.4 2662.8h5.2V2742.3h-5.2zM214.8 2639.3h5.2V2749.0h-5.2zM219.2 2663.2h5.2V2766.9h-5.2zM223.6 2639.2h5.2V2754.3h-5.2zM228.0 2667.8h5.2V2772.7h-5.2zM232.4 2655.2h5.2V2759.5h-5.2zM236.8 2658.4h5.2V2732.7h-5.2zM241.2 2670.8h5.2V2743.2h-5.2zM245.6 2638.4h5.2V2731.2h-5.2zM250.0 2657.7h5.2V2770.2h-5.2zM254.4 2676.4h5.2V2764.6h-5.2zM258.8 2650.0h5.2V2746.1h-5.2zM263.2 2655.4h5.2V2731.1h-5.2zM267.6 2678.7h5.2V2760.5h-5.2zM272.0 2653.7h5.2V2742.9h-5.2zM276.4 2682.4h5.2V2767.0h-5.2zM280.8 2672.3h5.2V2756.1h-5.2zM285.2 2668.7h5.2V2750.1h-5.2zM289.6 2653.0h5.2V2742.3h-5.2zM294.0 2660.0h5.2V2765.9h-5.2zM298.4 2667.5h5.2V2763.3h-5.2zM302.8 2670.3h5.2V2740.1h-5.2zM307.2 2668.2h5.2V2742.9h-5.2zM311.6 2675.4h5.2V2754.9h-5.2zM316.0 2686.4h5.2V2745.1h-5.2zM320.4 2684.8h5.2V2745.1h-5.2zM322.6 2686.5h2.6V2756.4h-2.6zM324.8 2686.1h2.6V2758.7h-2.6zM327.0 2690.8h2.6V2755.6h-2.6zM329.2 2687.2h2.6V2760.4h-2.6zM331.4 2689.4h2.6V2758.4h-2.6zM333.6 2688.0h2.6V2762.2h-2.6zM335.8 2684.9h2.6V2756.1h-2.6zM338.0 2688.7h2.6V2752.0h-2.6zM340.2 2686.2h2.6V2751.3h-2.6zM342.4 2682.7h2.6V2750.9h-2.6zM344.6 2680.7h2.6V2745.4h-2.6zM346.8 2679.2h2.6V2744.3h-2.6zM349.0 2680.0h2.6V2741.1h-2.6zM351.2 2675.4h2.6V2745.3h-2.6zM353.4 2672.5h2.6V2743.8h-2.6zM355.6 2675.9h2.6V2740.7h-2.6zM357.8 2676.4h2.6V2741.3h-2.6zM360.0 2673.6h2.6V2739.9h-2.6zM362.2 2672.4h2.6V2740.3h-2.6zM364.4 2672.9h2.6V2737.7h-2.6zM366.6 2672.7h2.6V2730.8h-2.6zM368.8 2669.2h2.6V2729.3h-2.6zM371.0 2672.2h2.6V2719.2h-2.6zM373.2 2669.1h2.6V2719.1h-2.6zM375.4 2670.9h2.6V2720.9h-2.6zM377.6 2674.4h2.6V2725.8h-2.6zM379.8 2674.4h2.6V2730.4h-2.6zM382.0 2679.4h2.6V2733.2h-2.6zM384.2 2678.0h2.6V2732.5h-2.6zM386.4 2678.4h2.6V2737.3h-2.6zM388.6 2678.4h2.6V2740.7h-2.6zM390.8 2684.1h2.6V2746.8h-2.6zM393.0 2692.0h2.6V2746.6h-2.6zM395.2 2696.4h2.6V2752.1h-2.6zM397.4 2697.9h2.6V2753.6h-2.6zM399.6 2701.4h2.6V2754.3h-2.6zM401.8 2701.6h2.6V2759.9h-2.6zM404.0 2704.5h2.6V2762.8h-2.6zM406.2 2709.1h2.6V2766.1h-2.6zM408.4 2713.0h2.6V2771.4h-2.6zM410.6 2709.3h2.6V2769.2h-2.6zM412.8 2708.8h2.6V2761.7h-2.6zM415.0 2707.9h2.6V2758.6h-2.6zM417.2 2704.9h2.6V2755.3h-2.6zM419.4 2699.8h2.6V2757.8h-2.6zM421.6 2699.1h2.6V2754.8h-2.6zM423.8 2700.8h2.6V2750.9h-2.6zM426.0 2701.8h2.6V2749.1h-2.6zM428.2 2701.7h2.6V2753.6h-2.6zM430.4 2694.3h2.6V2750.0h-2.6zM432.6 2693.2h2.6V2757.5h-2.6zM434.8 2695.6h2.6V2755.6h-2.6zM437.0 2694.8h2.6V2753.9h-2.6zM439.2 2697.4h2.6V2754.4h-2.6zM441.4 2698.3h2.6V2747.1h-2.6zM443.6 2697.2h2.6V2748.3h-2.6zM445.8 2701.5h2.6V2744.2h-2.6zM448.0 2699.0h2.6V2743.0h-2.6zM450.2 2701.6h2.6V2743.0h-2.6zM452.4 2692.6h2.6V2739.2h-2.6zM454.6 2696.7h2.6V2739.6h-2.6zM456.8 2698.9h2.6V2738.0h-2.6zM459.0 2700.8h2.6V2735.2h-2.6zM461.2 2695.4h2.6V2737.5h-2.6zM463.4 2694.6h2.6V2735.3h-2.6zM465.6 2692.7h2.6V2733.6h-2.6zM467.8 2692.7h2.6V2731.9h-2.6zM470.0 2685.6h2.6V2731.4h-2.6zM472.2 2682.9h2.6V2725.7h-2.6zM474.4 2681.4h2.6V2726.0h-2.6zM476.6 2681.4h2.6V2729.7h-2.6zM478.8 2675.9h2.6V2732.1h-2.6zM481.0 2675.8h2.6V2735.6h-2.6zM483.2 2676.7h2.6V2734.5h-2.6zM485.4 2678.3h2.6V2736.1h-2.6zM487.6 2677.8h2.6V2737.2h-2.6zM489.8 2680.7h2.6V2737.0h-2.6zM492.0 2683.4h2.6V2738.1h-2.6zM494.2 2682.8h2.6V2739.8h-2.6zM496.4 2688.6h2.6V2739.2h-2.6zM498.6 2688.3h2.6V2741.9h-2.6zM500.8 2689.1h2.6V2740.7h-2.6zM503.0 2691.9h2.6V2740.7h-2.6zM505.2 2688.5h2.6V2741.8h-2.6zM507.4 2689.3h2.6V2742.2h-2.6zM509.6 2689.6h2.6V2738.7h-2.6zM511.8 2690.8h2.6V2742.0h-2.6zM514.0 2689.7h2.6V2746.1h-2.6zM516.2 2690.2h2.6V2749.0h-2.6zM518.4 2689.6h2.6V2751.5h-2.6zM520.6 2693.4h2.6V2747.2h-2.6zM522.8 2694.3h2.6V2751.7h-2.6zM525.0 2694.8h2.6V2749.1h-2.6zM527.2 2694.8h2.6V2747.2h-2.6zM529.4 2697.7h2.6V2749.6h-2.6zM531.6 2698.9h2.6V2751.1h-2.6zM533.8 2695.8h2.6V2756.9h-2.6zM536.0 2697.2h2.6V2759.8h-2.6zM538.2 2699.3h2.6V2758.0h-2.6zM540.4 2702.1h2.6V2757.3h-2.6zM542.6 2704.3h2.6V2755.3h-2.6zM544.8 2702.5h2.6V2755.7h-2.6zM547.0 2705.4h2.6V2750.9h-2.6zM549.2 2703.3h2.6V2751.5h-2.6zM551.4 2701.6h2.6V2749.3h-2.6zM553.6 2700.4h2.6V2748.1h-2.6zM555.8 2700.6h2.6V2747.3h-2.6zM558.0 2695.1h2.6V2744.4h-2.6zM560.2 2690.4h2.6V2743.2h-2.6zM562.4 2689.8h2.6V2743.0h-2.6zM564.6 2689.9h2.6V2744.8h-2.6zM566.8 2692.5h2.6V2744.5h-2.6zM569.0 2688.2h2.6V2749.5h-2.6zM571.2 2684.6h2.6V2753.4h-2.6zM573.4 2685.0h2.6V2751.2h-2.6zM575.6 2685.8h2.6V2751.8h-2.6zM577.8 2689.5h2.6V2751.8h-2.6zM580.0 2690.0h2.6V2752.3h-2.6zM582.2 2692.3h2.6V2755.4h-2.6zM584.4 2698.4h2.6V2756.6h-2.6zM586.6 2702.8h2.6V2757.9h-2.6zM588.8 2700.9h2.6V2756.9h-2.6zM591.0 2700.9h2.6V2759.1h-2.6zM593.2 2701.6h2.6V2759.3h-2.6zM595.4 2705.9h2.6V2758.2h-2.6zM597.6 2708.5h2.6V2761.0h-2.6zM599.8 2709.7h2.6V2756.7h-2.6zM602.0 2710.2h2.6V2752.7h-2.6zM604.2 2708.9h2.6V2757.2h-2.6zM606.4 2705.9h2.6V2758.5h-2.6zM608.6 2703.7h2.6V2755.7h-2.6zM610.8 2702.9h2.6V2747.1h-2.6zM613.0 2701.7h2.6V2748.5h-2.6zM615.2 2699.8h2.6V2745.5h-2.6zM617.4 2692.5h2.6V2740.7h-2.6zM619.6 2691.5h2.6V2739.2h-2.6zM621.8 2691.1h2.6V2740.8h-2.6zM624.0 2686.6h2.6V2740.3h-2.6zM626.2 2687.0h2.6V2735.1h-2.6zM628.4 2682.3h2.6V2728.5h-2.6zM630.6 2679.1h2.6V2730.7h-2.6zM632.8 2681.0h2.6V2731.0h-2.6zM635.0 2678.4h2.6V2732.1h-2.6zM637.2 2683.2h2.6V2731.5h-2.6zM639.4 2686.6h2.6V2731.5h-2.6zM641.6 2676.9h2.6V2735.3h-2.6zM643.8 2677.9h2.6V2732.5h-2.6zM646.0 2679.3h2.6V2733.3h-2.6zM648.2 2679.3h2.6V2734.0h-2.6zM650.4 2678.1h2.6V2732.6h-2.6zM652.6 2682.3h2.6V2729.9h-2.6zM654.8 2679.9h2.6V2730.2h-2.6zM657.0 2681.7h2.6V2735.4h-2.6zM659.2 2684.2h2.6V2733.5h-2.6zM661.4 2683.3h2.6V2736.4h-2.6zM663.6 2679.6h2.6V2736.6h-2.6zM665.8 2683.0h2.6V2733.2h-2.6zM668.0 2678.7h2.6V2728.9h-2.6zM670.2 2681.4h2.6V2735.8h-2.6zM672.4 2680.9h2.6V2740.1h-2.6zM674.6 2686.5h2.6V2735.9h-2.6zM676.8 2685.3h2.6V2735.4h-2.6zM679.0 2688.3h2.6V2739.4h-2.6zM681.2 2688.2h2.6V2739.1h-2.6zM683.4 2689.2h2.6V2736.8h-2.6zM685.6 2691.4h2.6V2736.4h-2.6zM687.8 2687.8h2.6V2735.1h-2.6zM690.0 2688.4h2.6V2739.4h-2.6zM692.2 2683.7h2.6V2742.7h-2.6zM694.4 2681.5h2.6V2739.4h-2.6zM696.6 2675.1h2.6V2738.4h-2.6zM698.8 2673.6h2.6V2736.9h-2.6zM701.0 2677.1h2.6V2737.5h-2.6zM703.2 2672.4h2.6V2738.0h-2.6zM705.4 2672.7h2.6V2736.3h-2.6zM707.6 2677.4h2.6V2736.7h-2.6zM709.8 2672.9h2.6V2734.0h-2.6zM712.0 2673.8h2.6V2728.6h-2.6zM714.2 2674.5h2.6V2733.3h-2.6zM716.4 2675.4h2.6V2730.9h-2.6zM718.6 2675.8h2.6V2725.9h-2.6zM720.8 2674.8h2.6V2726.9h-2.6zM723.0 2672.7h2.6V2726.4h-2.6zM725.2 2675.3h2.6V2728.9h-2.6zM727.4 2672.3h2.6V2728.9h-2.6zM729.6 2673.5h2.6V2729.9h-2.6zM731.8 2676.0h2.6V2731.8h-2.6zM734.0 2674.9h2.6V2732.5h-2.6zM736.2 2675.2h2.6V2728.7h-2.6zM738.4 2672.8h2.6V2728.5h-2.6zM740.6 2674.9h2.6V2728.4h-2.6zM742.8 2676.1h2.6V2726.3h-2.6zM745.0 2679.9h2.6V2724.7h-2.6zM747.2 2679.6h2.6V2721.3h-2.6zM749.4 2682.6h2.6V2721.4h-2.6zM751.6 2686.6h2.6V2723.5h-2.6zM753.8 2685.7h2.6V2728.0h-2.6zM756.0 2690.7h2.6V2726.0h-2.6zM758.2 2690.4h2.6V2731.2h-2.6zM760.4 2689.1h2.6V2728.4h-2.6zM762.6 2688.6h2.6V2734.0h-2.6zM764.8 2692.4h2.6V2732.4h-2.6zM767.0 2693.4h2.6V2733.4h-2.6zM769.2 2692.4h2.6V2741.5h-2.6zM771.4 2692.3h2.6V2741.7h-2.6zM773.6 2693.4h2.6V2746.2h-2.6zM775.8 2691.4h2.6V2752.5h-2.6zM778.0 2693.8h2.6V2753.4h-2.6zM780.2 2699.0h2.6V2753.2h-2.6zM782.4 2701.6h2.6V2755.4h-2.6zM784.6 2699.3h2.6V2752.6h-2.6zM786.8 2699.6h2.6V2755.3h-2.6zM789.0 2701.8h2.6V2756.5h-2.6zM791.2 2701.9h2.6V2753.5h-2.6zM793.4 2704.4h2.6V2758.2h-2.6zM795.6 2704.3h2.6V2756.7h-2.6zM797.8 2702.4h2.6V2756.0h-2.6zM800.0 2704.7h2.6V2758.1h-2.6zM802.2 2703.9h2.6V2754.7h-2.6zM804.4 2700.0h2.6V2754.3h-2.6zM806.6 2701.1h2.6V2752.9h-2.6zM808.8 2694.2h2.6V2750.8h-2.6zM811.0 2694.7h2.6V2750.3h-2.6zM813.2 2692.7h2.6V2748.4h-2.6zM815.4 2692.4h2.6V2743.7h-2.6zM817.6 2693.1h2.6V2744.0h-2.6zM819.8 2693.4h2.6V2744.9h-2.6zM822.0 2689.6h2.6V2742.3h-2.6zM824.2 2689.4h2.6V2742.7h-2.6zM826.4 2689.5h2.6V2747.3h-2.6zM828.6 2688.6h2.6V2744.8h-2.6zM830.8 2683.2h2.6V2747.7h-2.6zM833.0 2683.7h2.6V2746.3h-2.6zM835.2 2685.0h2.6V2745.6h-2.6zM837.4 2685.6h2.6V2738.2h-2.6zM839.6 2682.8h2.6V2736.4h-2.6zM841.8 2680.8h2.6V2738.3h-2.6zM844.0 2679.9h2.6V2738.4h-2.6zM846.2 2680.0h2.6V2734.3h-2.6zM848.4 2680.3h2.6V2735.9h-2.6zM850.6 2682.4h2.6V2733.5h-2.6zM852.8 2680.8h2.6V2729.0h-2.6zM855.0 2679.6h2.6V2732.1h-2.6zM857.2 2679.3h2.6V2731.5h-2.6zM859.4 2676.5h2.6V2734.8h-2.6zM861.6 2676.6h2.6V2736.8h-2.6zM863.8 2682.6h2.6V2738.9h-2.6zM866.0 2681.5h2.6V2739.4h-2.6zM868.2 2686.0h2.6V2741.2h-2.6zM870.4 2684.4h2.6V2738.3h-2.6zM872.6 2688.1h2.6V2742.9h-2.6zM874.8 2693.1h2.6V2746.1h-2.6zM877.0 2691.6h2.6V2748.6h-2.6zM879.2 2696.1h2.6V2749.1h-2.6zM881.4 2694.8h2.6V2750.0h-2.6zM883.6 2693.7h2.6V2748.5h-2.6zM885.8 2691.4h2.6V2742.8h-2.6zM888.0 2691.7h2.6V2741.9h-2.6zM890.2 2692.2h2.6V2740.0h-2.6zM892.4 2686.3h2.6V2734.6h-2.6zM894.6 2687.0h2.6V2739.2h-2.6zM896.8 2682.5h2.6V2739.0h-2.6zM899.0 2678.4h2.6V2741.8h-2.6zM901.2 2675.4h2.6V2740.6h-2.6zM903.4 2675.4h2.6V2740.1h-2.6zM905.6 2675.9h2.6V2739.1h-2.6zM907.8 2669.6h2.6V2738.2h-2.6zM910.0 2670.4h2.6V2734.6h-2.6zM912.2 2670.9h2.6V2732.3h-2.6zM914.4 2678.5h2.6V2730.9h-2.6zM916.6 2680.8h2.6V2726.6h-2.6zM918.8 2677.6h2.6V2725.4h-2.6zM921.0 2674.9h2.6V2724.8h-2.6zM923.2 2673.0h2.6V2724.3h-2.6zM925.4 2674.1h2.6V2723.1h-2.6zM927.6 2675.9h2.6V2724.9h-2.6zM929.8 2678.0h2.6V2723.0h-2.6zM932.0 2676.9h2.6V2725.5h-2.6zM934.2 2679.7h2.6V2724.0h-2.6zM936.4 2684.5h2.6V2727.9h-2.6zM938.6 2683.6h2.6V2732.9h-2.6zM940.8 2685.7h2.6V2733.7h-2.6zM943.0 2682.9h2.6V2729.8h-2.6zM945.2 2678.3h2.6V2735.6h-2.6zM947.4 2677.0h2.6V2729.2h-2.6zM949.6 2676.4h2.6V2730.5h-2.6zM951.8 2681.4h2.6V2730.3h-2.6zM954.0 2675.9h2.6V2735.0h-2.6zM956.2 2676.7h2.6V2737.2h-2.6zM958.4 2677.4h2.6V2732.9h-2.6zM960.6 2678.3h2.6V2737.0h-2.6zM962.8 2680.2h2.6V2736.4h-2.6zM965.0 2684.9h2.6V2736.5h-2.6zM967.2 2683.1h2.6V2736.2h-2.6zM969.4 2687.8h2.6V2737.7h-2.6zM971.6 2691.4h2.6V2735.7h-2.6zM973.8 2688.8h2.6V2743.5h-2.6zM976.0 2686.5h2.6V2745.1h-2.6zM978.2 2691.0h2.6V2743.7h-2.6zM980.4 2696.7h2.6V2747.7h-2.6zM982.6 2697.3h2.6V2745.9h-2.6zM984.8 2699.2h2.6V2749.8h-2.6zM987.0 2698.7h2.6V2751.0h-2.6zM989.2 2696.8h2.6V2752.5h-2.6zM991.4 2697.0h2.6V2754.6h-2.6zM993.6 2696.7h2.6V2759.3h-2.6zM995.8 2696.4h2.6V2754.2h-2.6zM998.0 2697.6h2.6V2753.4h-2.6zM1000.2 2698.4h2.6V2754.1h-2.6zM1002.4 2696.2h2.6V2758.4h-2.6zM1004.6 2698.5h2.6V2758.9h-2.6zM1006.8 2699.6h2.6V2755.2h-2.6zM1009.0 2697.6h2.6V2754.8h-2.6zM1011.2 2701.7h2.6V2757.9h-2.6zM1013.4 2702.6h2.6V2757.2h-2.6zM1015.6 2701.7h2.6V2760.5h-2.6zM1017.8 2704.5h2.6V2760.4h-2.6zM1020.0 2702.7h2.6V2760.6h-2.6zM1022.2 2702.9h2.6V2763.1h-2.6zM1024.4 2704.6h2.6V2760.1h-2.6zM1026.6 2707.8h2.6V2761.3h-2.6zM1028.8 2706.8h2.6V2760.0h-2.6zM1031.0 2705.0h2.6V2756.2h-2.6zM1033.2 2698.2h2.6V2755.5h-2.6zM1035.4 2694.8h2.6V2751.7h-2.6zM1037.6 2695.3h2.6V2749.7h-2.6zM1039.8 2692.4h2.6V2747.1h-2.6zM1042.0 2688.7h2.6V2744.4h-2.6zM1044.2 2684.6h2.6V2743.0h-2.6zM1046.4 2686.2h2.6V2738.0h-2.6zM1048.6 2687.6h2.6V2738.0h-2.6zM1050.8 2686.0h2.6V2735.4h-2.6zM1053.0 2682.6h2.6V2735.9h-2.6zM1055.2 2681.4h2.6V2732.6h-2.6zM1057.4 2678.9h2.6V2733.7h-2.6zM1059.6 2678.1h2.6V2730.5h-2.6zM1061.8 2672.7h2.6V2726.2h-2.6zM1064.0 2682.8h2.6V2727.8h-2.6zM1066.2 2682.4h2.6V2729.3h-2.6zM1068.4 2682.8h2.6V2733.1h-2.6zM1070.6 2682.5h2.6V2734.0h-2.6zM1072.8 2682.2h2.6V2736.6h-2.6zM1075.0 2682.0h2.6V2737.5h-2.6zM1077.2 2686.1h2.6V2736.5h-2.6zM1079.4 2685.9h2.6V2737.4h-2.6zM1081.6 2683.5h2.6V2736.3h-2.6zM1083.8 2688.4h2.6V2737.3h-2.6zM1086.0 2693.5h2.6V2739.2h-2.6zM1088.2 2690.4h2.6V2742.1h-2.6zM1090.4 2691.0h2.6V2741.7h-2.6zM1092.6 2692.3h2.6V2741.9h-2.6zM1094.8 2688.5h2.6V2739.5h-2.6zM1097.0 2691.3h2.6V2740.6h-2.6zM1099.2 2691.4h2.6V2741.7h-2.6zM1101.4 2691.8h2.6V2741.1h-2.6zM1103.6 2693.6h2.6V2739.9h-2.6zM1105.8 2692.1h2.6V2738.7h-2.6zM1108.0 2692.5h2.6V2741.7h-2.6zM1110.2 2695.1h2.6V2739.1h-2.6zM1112.4 2691.0h2.6V2737.2h-2.6zM1114.6 2694.5h2.6V2738.1h-2.6zM1116.8 2690.9h2.6V2733.3h-2.6zM1119.0 2684.3h2.6V2733.6h-2.6zM1121.2 2686.0h2.6V2730.2h-2.6zM1123.4 2687.3h2.6V2734.9h-2.6zM1125.6 2682.9h2.6V2734.8h-2.6zM1127.8 2682.3h2.6V2736.9h-2.6zM1130.0 2681.6h2.6V2731.1h-2.6zM1132.2 2676.2h2.6V2733.9h-2.6zM1134.4 2676.7h2.6V2734.3h-2.6zM1136.6 2675.4h2.6V2733.6h-2.6zM1138.8 2675.9h2.6V2735.2h-2.6zM1141.0 2677.6h2.6V2731.2h-2.6zM1143.2 2672.2h2.6V2730.8h-2.6zM1145.4 2671.9h2.6V2727.2h-2.6zM1147.6 2670.6h2.6V2728.1h-2.6zM1149.8 2667.2h2.6V2730.5h-2.6zM1152.0 2668.1h2.6V2730.0h-2.6zM1154.2 2674.1h2.6V2727.8h-2.6zM1156.4 2674.5h2.6V2732.7h-2.6zM1158.6 2671.4h2.6V2733.8h-2.6zM1160.8 2676.2h2.6V2734.6h-2.6zM1163.0 2675.4h2.6V2734.2h-2.6zM1165.2 2681.6h2.6V2733.6h-2.6zM1167.4 2678.3h2.6V2733.7h-2.6zM1169.6 2677.4h2.6V2732.9h-2.6zM1171.8 2680.5h2.6V2727.7h-2.6zM1174.0 2676.9h2.6V2725.5h-2.6zM1176.2 2679.2h2.6V2724.0h-2.6zM1178.4 2676.5h2.6V2720.9h-2.6zM1180.6 2676.8h2.6V2726.8h-2.6zM1182.8 2678.0h2.6V2722.8h-2.6zM1185.0 2673.6h2.6V2723.1h-2.6zM1187.2 2667.6h2.6V2726.9h-2.6zM1189.4 2669.4h2.6V2730.5h-2.6zM1191.6 2674.7h2.6V2734.6h-2.6zM1193.8 2672.6h2.6V2732.8h-2.6zM1196.0 2678.8h2.6V2733.3h-2.6zM1198.2 2676.8h2.6V2737.3h-2.6zM1200.4 2682.5h2.6V2734.3h-2.6zM1202.6 2687.6h2.6V2739.7h-2.6zM1204.8 2687.5h2.6V2739.7h-2.6zM1207.0 2687.6h2.6V2745.7h-2.6zM1209.2 2691.6h2.6V2749.4h-2.6zM1211.4 2696.8h2.6V2751.0h-2.6zM1213.6 2697.6h2.6V2750.4h-2.6zM1215.8 2703.3h2.6V2753.0h-2.6zM1218.0 2703.0h2.6V2757.2h-2.6zM1220.2 2697.2h2.6V2752.8h-2.6zM1222.4 2695.2h2.6V2755.1h-2.6zM1224.6 2691.0h2.6V2753.7h-2.6zM1226.8 2692.4h2.6V2750.9h-2.6zM1229.0 2698.0h2.6V2747.9h-2.6zM1231.2 2696.7h2.6V2745.2h-2.6zM1233.4 2695.7h2.6V2746.1h-2.6zM1235.6 2694.0h2.6V2740.7h-2.6zM1237.8 2694.0h2.6V2742.5h-2.6zM1240.0 2688.8h2.6V2739.5h-2.6zM1242.2 2687.5h2.6V2740.4h-2.6zM1244.4 2684.5h2.6V2736.0h-2.6zM1246.6 2685.6h2.6V2738.7h-2.6zM1248.8 2680.0h2.6V2746.2h-2.6zM1251.0 2678.2h2.6V2741.3h-2.6zM1253.2 2679.5h2.6V2742.1h-2.6zM1255.4 2680.0h2.6V2741.1h-2.6zM1257.6 2681.6h2.6V2740.8h-2.6zM1259.8 2684.7h2.6V2735.0h-2.6zM1262.0 2683.2h2.6V2733.8h-2.6zM1264.2 2678.3h2.6V2731.5h-2.6zM1266.4 2679.7h2.6V2729.8h-2.6zM1268.6 2681.2h2.6V2727.6h-2.6zM1270.8 2676.2h2.6V2727.5h-2.6zM1273.0 2676.2h2.6V2723.3h-2.6zM1275.2 2673.8h2.6V2725.4h-2.6zM1277.4 2674.9h2.6V2727.5h-2.6zM1279.6 2675.5h2.6V2728.9h-2.6zM1281.8 2671.5h2.6V2726.0h-2.6zM1284.0 2669.0h2.6V2723.6h-2.6zM1286.2 2672.1h2.6V2720.7h-2.6zM1288.4 2668.1h2.6V2722.9h-2.6zM1290.6 2671.4h2.6V2732.7h-2.6zM1292.8 2674.2h2.6V2726.5h-2.6zM1295.0 2674.6h2.6V2732.3h-2.6zM1297.2 2677.3h2.6V2735.4h-2.6zM1299.4 2677.3h2.6V2730.6h-2.6zM1301.6 2679.9h2.6V2732.1h-2.6zM1303.8 2677.8h2.6V2732.9h-2.6zM1306.0 2678.9h2.6V2734.7h-2.6zM1308.2 2679.1h2.6V2733.9h-2.6zM1310.4 2682.1h2.6V2738.5h-2.6zM1312.6 2686.4h2.6V2735.7h-2.6zM1314.8 2684.3h2.6V2739.3h-2.6zM1317.0 2689.1h2.6V2734.9h-2.6zM1319.2 2686.3h2.6V2736.9h-2.6zM1321.4 2683.7h2.6V2737.8h-2.6zM1323.6 2677.1h2.6V2734.1h-2.6zM1325.8 2677.1h2.6V2736.0h-2.6zM1328.0 2677.0h2.6V2734.1h-2.6zM1330.2 2676.4h2.6V2733.9h-2.6zM1332.4 2678.6h2.6V2732.8h-2.6zM1334.6 2677.1h2.6V2733.3h-2.6zM1336.8 2676.9h2.6V2729.5h-2.6zM1339.0 2678.0h2.6V2732.6h-2.6zM1341.2 2679.8h2.6V2728.4h-2.6zM1343.4 2680.1h2.6V2728.0h-2.6zM1345.6 2681.7h2.6V2728.6h-2.6zM1347.8 2682.4h2.6V2730.6h-2.6zM1350.0 2683.4h2.6V2733.3h-2.6zM1352.2 2677.7h2.6V2734.7h-2.6zM1354.4 2679.1h2.6V2734.4h-2.6zM1356.6 2679.5h2.6V2737.0h-2.6zM1358.8 2682.4h2.6V2739.8h-2.6zM1361.0 2683.2h2.6V2738.6h-2.6zM1363.2 2685.7h2.6V2739.0h-2.6zM1365.4 2683.0h2.6V2742.4h-2.6zM1367.6 2683.3h2.6V2737.8h-2.6z" fill="#f85210"/>
<line x1="130.0" y1="3229.6" x2="1370.6" y2="3229.6" stroke="#262626" stroke-width="3.2"/>
<line x1="130.0" y1="2468.5" x2="139.0" y2="2468.5" stroke="#262626" stroke-width="3"/>
<line x1="130.0" y1="2575.8" x2="139.0" y2="2575.8" stroke="#262626" stroke-width="3"/>
<line x1="130.0" y1="2685.3" x2="139.0" y2="2685.3" stroke="#262626" stroke-width="3"/>
<line x1="130.0" y1="2794.6" x2="139.0" y2="2794.6" stroke="#262626" stroke-width="3"/>
<line x1="130.0" y1="2904.7" x2="139.0" y2="2904.7" stroke="#262626" stroke-width="3"/>
<line x1="130.0" y1="3012.8" x2="139.0" y2="3012.8" stroke="#262626" stroke-width="3"/>
<line x1="130.0" y1="3122.4" x2="139.0" y2="3122.4" stroke="#262626" stroke-width="3"/>
<line x1="437.0" y1="3229.6" x2="437.0" y2="3220.6" stroke="#262626" stroke-width="3"/>
<line x1="748.2" y1="3229.6" x2="748.2" y2="3220.6" stroke="#262626" stroke-width="3"/>
<line x1="1058.7" y1="3229.6" x2="1058.7" y2="3220.6" stroke="#262626" stroke-width="3"/>
<line x1="1370.6" y1="3229.6" x2="1370.6" y2="3220.6" stroke="#262626" stroke-width="3"/>
<text transform="translate(82.04,2487.40) scale(1.0475,1)" font-family="Liberation Sans" font-weight="normal" font-size="43.48" style="font-kerning:none" fill="#262626" stroke="#262626" stroke-width="0.90" stroke-linejoin="round">8</text>
<text transform="translate(82.04,2597.00) scale(1.0475,1)" font-family="Liberation Sans" font-weight="normal" font-size="43.48" style="font-kerning:none" fill="#262626" stroke="#262626" stroke-width="0.90" stroke-linejoin="round">6</text>
<text transform="translate(81.59,2706.50) scale(1.0475,1)" font-family="Liberation Sans" font-weight="normal" font-size="43.48" style="font-kerning:none" fill="#262626" stroke="#262626" stroke-width="0.90" stroke-linejoin="round">4</text>
<text transform="translate(82.50,2819.22) scale(1.0475,1)" font-family="Liberation Sans" font-weight="normal" font-size="43.48" style="font-kerning:none" fill="#262626" stroke="#262626" stroke-width="0.90" stroke-linejoin="round">2</text>
<text transform="translate(81.82,2923.60) scale(1.0475,1)" font-family="Liberation Sans" font-weight="normal" font-size="43.48" style="font-kerning:none" fill="#262626" stroke="#262626" stroke-width="0.90" stroke-linejoin="round">0</text>
<text transform="translate(82.50,3031.72) scale(1.0475,1)" font-family="Liberation Sans" font-weight="normal" font-size="43.48" style="font-kerning:none" fill="#262626" stroke="#262626" stroke-width="0.90" stroke-linejoin="round">2</text>
<text transform="translate(81.59,3141.00) scale(1.0475,1)" font-family="Liberation Sans" font-weight="normal" font-size="43.48" style="font-kerning:none" fill="#262626" stroke="#262626" stroke-width="0.90" stroke-linejoin="round">4</text>
<text transform="translate(82.04,3251.50) scale(1.0475,1)" font-family="Liberation Sans" font-weight="normal" font-size="43.48" style="font-kerning:none" fill="#262626" stroke="#262626" stroke-width="0.90" stroke-linejoin="round">6</text>
<rect x="66.4" y="3018.9" width="12.8" height="3.8" fill="#262626"/>
<rect x="66.4" y="3128.4" width="12.8" height="3.8" fill="#262626"/>
<rect x="66.4" y="3238.9" width="12.8" height="3.8" fill="#262626"/>
<text transform="translate(113.88,3294.58) scale(1.0921,1)" font-family="Liberation Sans" font-weight="normal" font-size="42.25" style="font-kerning:none" fill="#262626" stroke="#262626" stroke-width="0.90" stroke-linejoin="round">0</text>
<text transform="translate(424.19,3294.37) scale(1.0921,1)" font-family="Liberation Sans" font-weight="normal" font-size="42.25" style="font-kerning:none" fill="#262626" stroke="#262626" stroke-width="0.90" stroke-linejoin="round">5</text>
<g transform="translate(724.47,3294.58) scale(1.0921,1)"><text font-family="Liberation Sans" font-size="42.25" style="font-kerning:none" fill="#262626" stroke="#262626" stroke-width="0.90" stroke-linejoin="round"> 0</text><path transform="translate(0.000,0) scale(0.02063,-0.02063)" d="M515 0V1237L197 1010V1180L530 1409H696V0Z" fill="#262626" stroke="#262626" stroke-width="43.6" stroke-linejoin="round"/></g>
<g transform="translate(1032.28,3294.37) scale(1.0921,1)"><text font-family="Liberation Sans" font-size="42.25" style="font-kerning:none" fill="#262626" stroke="#262626" stroke-width="0.90" stroke-linejoin="round"> 5</text><path transform="translate(0.000,0) scale(0.02063,-0.02063)" d="M515 0V1237L197 1010V1180L530 1409H696V0Z" fill="#262626" stroke="#262626" stroke-width="43.6" stroke-linejoin="round"/></g>
<text transform="translate(1342.04,3294.58) scale(1.0921,1)" font-family="Liberation Sans" font-weight="normal" font-size="42.25" style="font-kerning:none" fill="#262626" stroke="#262626" stroke-width="0.90" stroke-linejoin="round">20</text>
<text transform="translate(279.66,2449.40) scale(1.1337,1)" font-family="Liberation Serif" font-weight="normal" font-size="48.35" fill="#141414" stroke="#141414" stroke-width="0.71" stroke-linejoin="round" >Measured and estimated Torque by LQG</text>
<text transform="translate(636.10,3332.66) scale(1.1285,1)" font-family="Liberation Serif" font-weight="normal" font-size="48.57" fill="#141414" stroke="#141414" stroke-width="0.71" stroke-linejoin="round" >Time (s)</text>
<text transform="translate(49.49,3004.67) rotate(-90) scale(0.9397,1)" font-family="Liberation Serif" font-weight="normal" font-size="56.81" fill="#141414" stroke="#141414" stroke-width="0.80" stroke-linejoin="round" >Torque (kNm)</text>
<rect x="759.0" y="2860.6" width="555.5" height="294.0" fill="#fff"/>
<line x1="1036.8" y1="2860.6" x2="1036.8" y2="3154.6" stroke="#d6d6d6" stroke-width="2.2"/>
<path d="M758.0 2861.0h3.2V3154.6h-3.2zM761.0 2861.0h6.0V3060.6h-6.0zM763.0 2861.0h4.0V2960.8h-4.0zM777.0 2861.0h3.5V3077.1h-3.5zM781.0 2990.2h3.2V3095.9h-3.2zM784.6 2969.0h3.5V3110.6h-3.5zM788.5 2994.9h2.9V3109.6h-2.9zM791.0 3001.3h2.9V3098.3h-2.9zM793.5 2962.7h2.9V3060.5h-2.9zM796.0 2921.6h2.9V3024.5h-2.9zM798.5 2887.6h2.9V2985.8h-2.9zM801.0 2878.3h2.9V2979.4h-2.9zM803.5 2904.2h2.9V2995.8h-2.9zM806.0 2945.1h2.9V3039.0h-2.9zM808.5 2980.5h2.9V3069.2h-2.9zM811.0 2986.7h2.9V3081.8h-2.9zM813.5 2977.2h2.9V3054.6h-2.9zM816.0 2946.5h2.9V3028.7h-2.9zM818.5 2916.4h2.9V2993.9h-2.9zM821.0 2899.9h2.9V2980.1h-2.9zM823.5 2907.3h2.9V2997.3h-2.9zM826.0 2938.8h2.9V3027.2h-2.9zM828.5 2968.8h2.9V3045.2h-2.9zM831.0 2979.3h2.9V3059.6h-2.9zM833.5 2975.4h2.9V3056.5h-2.9zM836.0 2953.0h2.9V3033.4h-2.9zM838.5 2931.8h2.9V3006.0h-2.9zM841.0 2918.5h2.9V2987.7h-2.9zM843.5 2917.3h2.9V2987.2h-2.9zM846.0 2932.8h2.9V3011.3h-2.9zM848.5 2956.5h2.9V3028.9h-2.9zM851.0 2971.3h2.9V3045.8h-2.9zM853.5 2976.9h2.9V3053.2h-2.9zM856.0 2969.0h2.9V3043.6h-2.9zM858.5 2948.0h2.9V3027.7h-2.9zM861.0 2927.5h2.9V3001.5h-2.9zM863.5 2922.6h2.9V2998.3h-2.9zM866.0 2929.9h2.9V3000.1h-2.9zM868.5 2950.8h2.9V3023.1h-2.9zM871.0 2968.1h2.9V3038.2h-2.9zM873.5 2981.4h2.9V3046.7h-2.9zM876.0 2981.4h2.9V3040.1h-2.9zM878.5 2964.5h2.9V3034.7h-2.9zM881.0 2944.9h2.9V3018.7h-2.9zM883.5 2931.5h2.9V3004.2h-2.9zM886.0 2925.0h2.9V3001.0h-2.9zM888.5 2937.3h2.9V3010.7h-2.9zM891.0 2953.7h2.9V3026.6h-2.9zM893.5 2974.8h2.9V3041.5h-2.9zM896.0 2971.2h2.9V3041.2h-2.9zM898.5 2970.3h2.9V3036.3h-2.9zM901.0 2953.4h2.9V3023.0h-2.9zM903.5 2932.9h2.9V3002.7h-2.9zM906.0 2934.8h2.9V3000.8h-2.9zM908.5 2929.8h2.9V2998.7h-2.9zM911.0 2943.4h2.9V3019.8h-2.9zM913.5 2961.5h2.9V3027.6h-2.9zM916.0 2968.0h2.9V3038.5h-2.9zM918.5 2967.9h2.9V3033.6h-2.9zM921.0 2948.6h2.9V3014.7h-2.9zM923.5 2935.6h2.9V3004.0h-2.9zM926.0 2929.8h2.9V2989.4h-2.9zM928.5 2926.6h2.9V2988.2h-2.9zM931.0 2940.6h2.9V3007.1h-2.9zM933.5 2951.7h2.9V3021.9h-2.9zM936.0 2973.7h2.9V3035.0h-2.9zM938.5 2967.3h2.9V3027.9h-2.9zM941.0 2955.6h2.9V3023.5h-2.9zM943.5 2942.9h2.9V3008.6h-2.9zM946.0 2931.1h2.9V3004.8h-2.9zM948.5 2928.3h2.9V2992.8h-2.9zM951.0 2935.6h2.9V3002.3h-2.9zM953.5 2947.7h2.9V3010.5h-2.9zM956.0 2972.2h2.9V3036.0h-2.9zM958.5 2968.1h2.9V3038.1h-2.9zM961.0 2956.5h2.9V3028.8h-2.9zM963.5 2946.6h2.9V3017.9h-2.9zM966.0 2931.0h2.9V3000.4h-2.9zM968.5 2927.0h2.9V2993.2h-2.9zM971.0 2923.0h2.9V2992.1h-2.9zM973.5 2939.7h2.9V3002.3h-2.9zM976.0 2959.1h2.9V3025.3h-2.9zM978.5 2963.2h2.9V3030.2h-2.9zM981.0 2968.9h2.9V3033.4h-2.9zM983.5 2956.3h2.9V3026.9h-2.9zM986.0 2941.4h2.9V3012.4h-2.9zM988.5 2927.1h2.9V2997.3h-2.9zM991.0 2930.8h2.9V2994.1h-2.9zM993.5 2933.4h2.9V3009.0h-2.9zM996.0 2959.9h2.9V3024.9h-2.9zM998.5 2966.6h2.9V3043.6h-2.9zM1001.0 2977.5h2.9V3034.1h-2.9zM1003.5 2963.9h2.9V3030.2h-2.9zM1006.0 2949.6h2.9V3019.8h-2.9zM1008.5 2933.5h2.9V3003.7h-2.9zM1011.0 2925.8h2.9V2997.8h-2.9zM1013.5 2937.2h2.9V3007.1h-2.9zM1016.0 2956.7h2.9V3023.3h-2.9zM1018.5 2965.3h2.9V3039.1h-2.9zM1021.0 2973.4h2.9V3043.6h-2.9zM1023.5 2969.3h2.9V3031.4h-2.9zM1026.0 2958.7h2.9V3025.9h-2.9zM1028.5 2944.1h2.9V3004.7h-2.9zM1031.0 2931.6h2.9V3007.1h-2.9zM1033.5 2941.3h2.9V3007.2h-2.9zM1036.0 2952.8h2.9V3022.0h-2.9zM1038.5 2962.7h2.9V3037.3h-2.9zM1041.0 2973.5h2.9V3043.1h-2.9zM1043.5 2973.1h2.9V3047.1h-2.9zM1046.0 2963.2h2.9V3023.4h-2.9zM1048.5 2944.0h2.9V3019.1h-2.9zM1051.0 2934.3h2.9V3009.3h-2.9zM1053.5 2930.9h2.9V3004.4h-2.9zM1056.0 2937.0h2.9V3006.5h-2.9zM1058.5 2958.1h2.9V3033.0h-2.9zM1061.0 2974.1h2.9V3045.9h-2.9zM1063.5 2978.1h2.9V3047.3h-2.9zM1066.0 2964.7h2.9V3030.1h-2.9zM1068.5 2947.3h2.9V3025.6h-2.9zM1071.0 2940.4h2.9V3009.2h-2.9zM1073.5 2928.5h2.9V3003.9h-2.9zM1076.0 2935.8h2.9V3005.5h-2.9zM1078.5 2950.9h2.9V3023.1h-2.9zM1081.0 2970.8h2.9V3034.2h-2.9zM1083.5 2972.5h2.9V3045.0h-2.9zM1086.0 2974.2h2.9V3042.7h-2.9zM1088.5 2961.1h2.9V3025.0h-2.9zM1091.0 2947.4h2.9V3008.3h-2.9zM1093.5 2938.9h2.9V3001.8h-2.9zM1096.0 2938.3h2.9V3002.3h-2.9zM1098.5 2938.4h2.9V3017.5h-2.9zM1101.0 2958.0h2.9V3035.1h-2.9zM1103.5 2972.3h2.9V3033.6h-2.9zM1106.0 2975.0h2.9V3050.1h-2.9zM1108.5 2969.7h2.9V3035.5h-2.9zM1111.0 2955.2h2.9V3013.8h-2.9zM1113.5 2934.7h2.9V3008.2h-2.9zM1116.0 2930.6h2.9V3000.2h-2.9zM1118.5 2946.3h2.9V3002.4h-2.9zM1121.0 2950.8h2.9V3029.9h-2.9zM1123.5 2963.7h2.9V3036.6h-2.9zM1126.0 2972.3h2.9V3043.4h-2.9zM1128.5 2975.7h2.9V3039.1h-2.9zM1131.0 2954.3h2.9V3034.4h-2.9zM1133.5 2944.9h2.9V3015.3h-2.9zM1136.0 2935.0h2.9V3010.0h-2.9zM1138.5 2939.5h2.9V3010.4h-2.9zM1141.0 2951.0h2.9V3021.4h-2.9zM1143.5 2972.8h2.9V3037.6h-2.9zM1146.0 2977.6h2.9V3046.4h-2.9zM1148.5 2972.4h2.9V3047.1h-2.9zM1151.0 2966.1h2.9V3032.3h-2.9zM1153.5 2945.5h2.9V3020.9h-2.9zM1156.0 2937.4h2.9V3004.9h-2.9zM1158.5 2937.3h2.9V3006.2h-2.9zM1161.0 2939.5h2.9V3008.8h-2.9zM1163.5 2952.9h2.9V3020.1h-2.9zM1166.0 2973.8h2.9V3040.2h-2.9zM1168.5 2979.7h2.9V3045.9h-2.9zM1171.0 2965.8h2.9V3043.5h-2.9zM1173.5 2952.5h2.9V3027.8h-2.9zM1176.0 2942.2h2.9V3004.9h-2.9zM1178.5 2928.0h2.9V3005.1h-2.9zM1181.0 2935.5h2.9V2999.5h-2.9zM1183.5 2954.1h2.9V3022.3h-2.9zM1186.0 2963.1h2.9V3036.3h-2.9zM1188.5 2980.5h2.9V3044.4h-2.9zM1191.0 2973.0h2.9V3044.1h-2.9zM1193.5 2962.4h2.9V3033.1h-2.9zM1196.0 2950.5h2.9V3016.8h-2.9zM1198.5 2941.0h2.9V3008.0h-2.9zM1201.0 2936.2h2.9V3004.8h-2.9zM1203.5 2947.6h2.9V3013.3h-2.9zM1206.0 2960.7h2.9V3024.0h-2.9zM1208.5 2974.6h2.9V3037.3h-2.9zM1211.0 2978.0h2.9V3037.8h-2.9zM1213.5 2969.1h2.9V3044.6h-2.9zM1216.0 2949.8h2.9V3018.6h-2.9zM1218.5 2934.7h2.9V2999.0h-2.9zM1221.0 2926.2h2.9V3000.1h-2.9zM1223.5 2937.9h2.9V3002.4h-2.9zM1226.0 2953.4h2.9V3021.0h-2.9zM1228.5 2969.0h2.9V3031.7h-2.9zM1231.0 2972.7h2.9V3044.3h-2.9zM1233.5 2971.6h2.9V3045.7h-2.9zM1236.0 2963.3h2.9V3028.3h-2.9zM1238.5 2947.8h2.9V3008.6h-2.9zM1241.0 2938.3h2.9V3005.4h-2.9zM1243.5 2934.6h2.9V3010.7h-2.9zM1246.0 2947.8h2.9V3018.8h-2.9zM1248.5 2971.0h2.9V3034.2h-2.9zM1251.0 2975.2h2.9V3053.1h-2.9zM1253.5 2976.2h2.9V3053.0h-2.9zM1256.0 2967.6h2.9V3034.0h-2.9zM1258.5 2944.6h2.9V3017.6h-2.9zM1261.0 2937.3h2.9V3003.9h-2.9zM1263.5 2933.0h2.9V3004.0h-2.9zM1266.0 2944.8h2.9V3012.2h-2.9zM1268.5 2963.3h2.9V3026.4h-2.9zM1271.0 2971.9h2.9V3038.7h-2.9zM1273.5 2972.9h2.9V3047.1h-2.9zM1276.0 2970.7h2.9V3036.5h-2.9zM1278.5 2954.3h2.9V3022.3h-2.9zM1281.0 2941.0h2.9V3008.8h-2.9zM1283.5 2931.5h2.9V3010.0h-2.9zM1286.0 2940.1h2.9V3014.3h-2.9zM1288.5 2953.0h2.9V3025.6h-2.9zM1291.0 2970.6h2.9V3039.8h-2.9zM1293.5 2978.3h2.9V3049.0h-2.9zM1296.0 2974.0h2.9V3038.5h-2.9zM1298.5 2961.6h2.9V3029.0h-2.9zM1301.0 2943.9h2.9V3009.9h-2.9zM1303.5 2934.0h2.9V2998.0h-2.9zM1306.0 2940.3h2.9V3008.0h-2.9zM1308.5 2945.7h2.9V3012.9h-2.9zM1311.0 2962.0h2.9V3025.8h-2.9z" fill="#0b72c6"/>
<path d="M759.0 2860.6 H1314.5 V3154.6 H759.0" fill="none" stroke="#262626" stroke-width="3.6"/>
<line x1="1036.8" y1="3154.6" x2="1036.8" y2="3148.6" stroke="#262626" stroke-width="2.5"/>
<text transform="translate(711.71,2879.11) scale(1.0177,1)" font-family="Liberation Sans" font-weight="normal" font-size="43.86" style="font-kerning:none" fill="#262626" stroke="#262626" stroke-width="0.90" stroke-linejoin="round">5</text>
<text transform="translate(711.49,3179.63) scale(1.0177,1)" font-family="Liberation Sans" font-weight="normal" font-size="43.86" style="font-kerning:none" fill="#262626" stroke="#262626" stroke-width="0.90" stroke-linejoin="round">0</text>
<text transform="translate(746.58,3221.58) scale(1.0921,1)" font-family="Liberation Sans" font-weight="normal" font-size="42.25" style="font-kerning:none" fill="#262626" stroke="#262626" stroke-width="0.90" stroke-linejoin="round">0</text>
<g transform="translate(1009.67,3221.58) scale(1.0921,1)"><text font-family="Liberation Sans" font-size="42.25" style="font-kerning:none" fill="#262626" stroke="#262626" stroke-width="0.90" stroke-linejoin="round"> 0</text><path transform="translate(0.000,0) scale(0.02063,-0.02063)" d="M515 0V1237L197 1010V1180L530 1409H696V0Z" fill="#262626" stroke="#262626" stroke-width="43.6" stroke-linejoin="round"/></g>
<text transform="translate(1286.74,3221.58) scale(1.0921,1)" font-family="Liberation Sans" font-weight="normal" font-size="42.25" style="font-kerning:none" fill="#262626" stroke="#262626" stroke-width="0.90" stroke-linejoin="round">20</text>
<text transform="translate(1001.35,2838.13) scale(1.0899,1)" font-family="Liberation Serif" font-weight="normal" font-size="50.55" fill="#141414" stroke="#141414" stroke-width="0.73" stroke-linejoin="round" >Error (kNm)</text>
<text transform="translate(653.34,3473.34) scale(0.9278,1)" font-family="Liberation Serif" font-weight="normal" font-size="85.38" fill="#000" stroke="#000" stroke-width="0.65" stroke-linejoin="round" >(</text>
<text transform="translate(681.05,3474.20) scale(0.9062,1)" font-family="Liberation Serif" font-weight="bold" font-size="90.00" fill="#000" stroke="#000" stroke-width="0.66" stroke-linejoin="round" >c</text>
<text transform="translate(717.65,3473.34) scale(0.9189,1)" font-family="Liberation Serif" font-weight="normal" font-size="85.38" fill="#000" stroke="#000" stroke-width="0.65" stroke-linejoin="round" >)</text>
</svg>
</body></html>
